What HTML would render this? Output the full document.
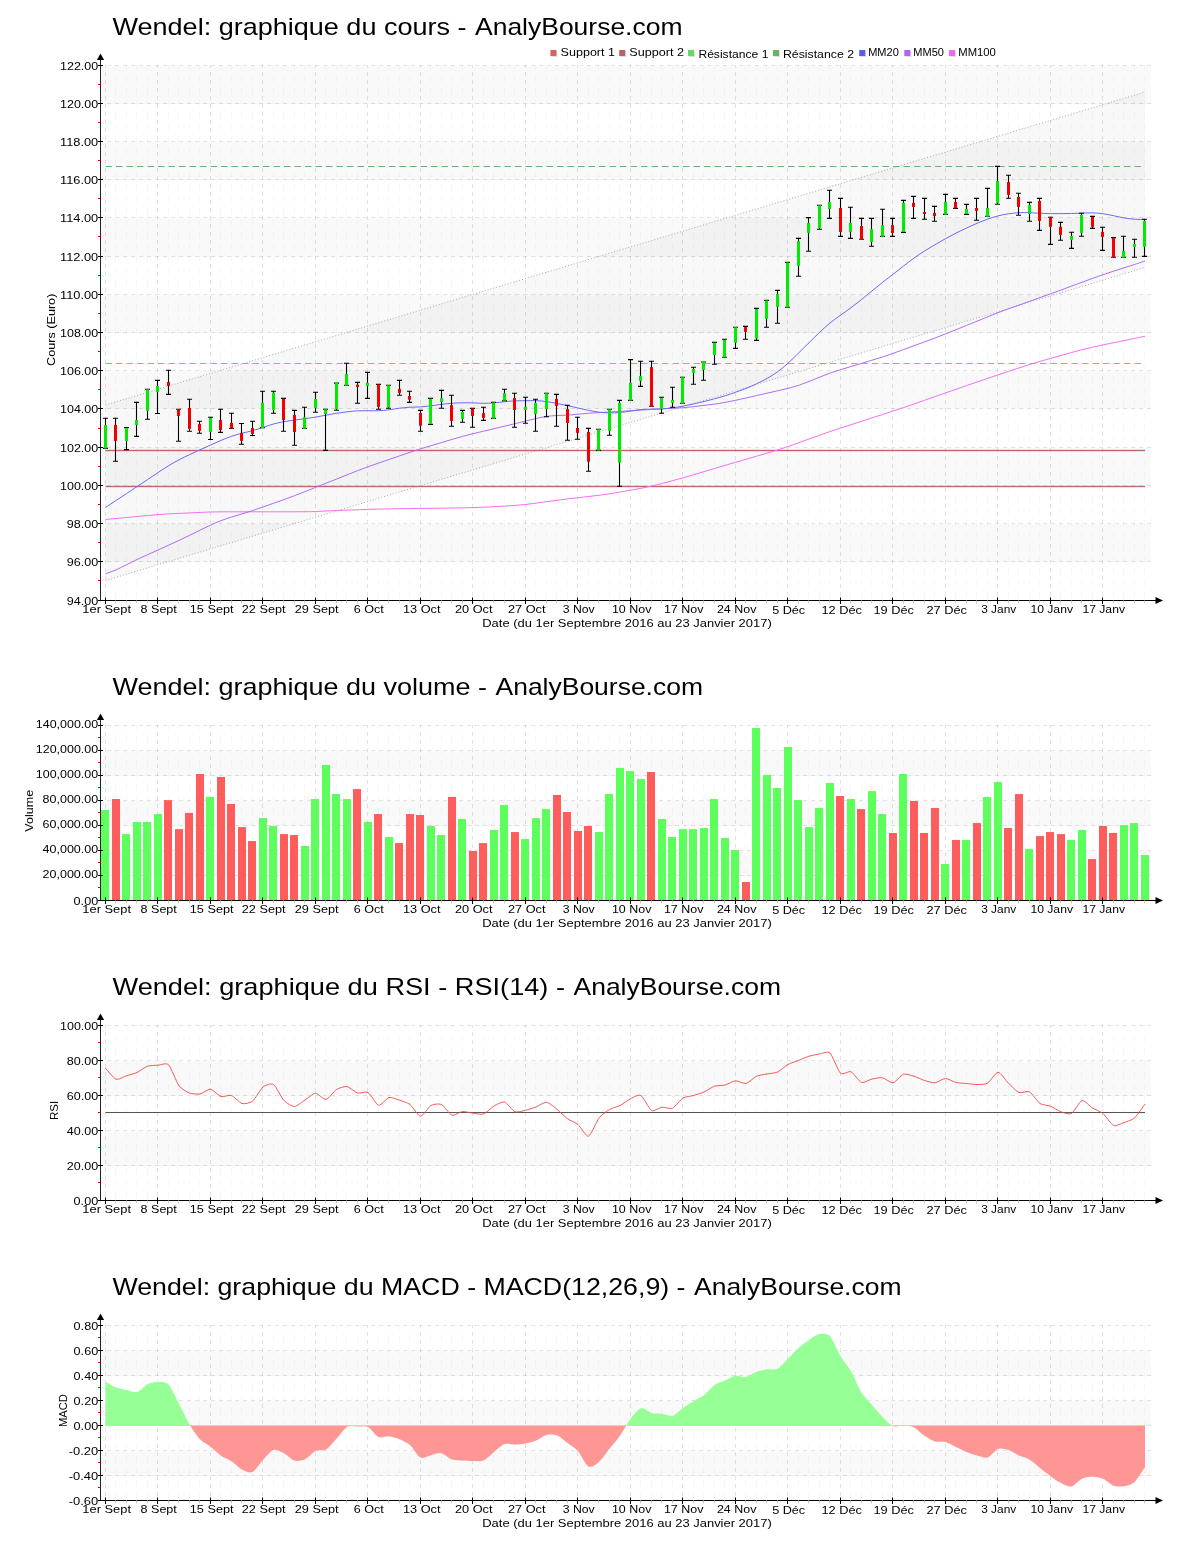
<!DOCTYPE html>
<html><head><meta charset="utf-8"><title>Wendel - AnalyBourse</title>
<style>html,body{margin:0;padding:0;background:#fff}svg{display:block;will-change:transform}text{font-family:"Liberation Sans",sans-serif}</style>
</head><body>
<svg width="1200" height="1550" viewBox="0 0 1200 1550" font-family="Liberation Sans, sans-serif" fill="#000">
<rect width="1200" height="1550" fill="#fff"/>
<rect x="101.0" y="524.00" width="1050.0" height="38.00" fill="#f9f9f9"/>
<rect x="101.0" y="448.00" width="1050.0" height="38.00" fill="#f9f9f9"/>
<rect x="101.0" y="371.00" width="1050.0" height="38.00" fill="#f9f9f9"/>
<rect x="101.0" y="295.00" width="1050.0" height="38.00" fill="#f9f9f9"/>
<rect x="101.0" y="218.00" width="1050.0" height="39.00" fill="#f9f9f9"/>
<rect x="101.0" y="142.00" width="1050.0" height="38.00" fill="#f9f9f9"/>
<rect x="101.0" y="66.00" width="1050.0" height="38.00" fill="#f9f9f9"/>
<line x1="115.50" y1="65.0" x2="115.50" y2="600.5" stroke="#000" stroke-opacity="0.033" stroke-dasharray="6 6" stroke-dashoffset="1"/>
<line x1="126.50" y1="65.0" x2="126.50" y2="600.5" stroke="#000" stroke-opacity="0.033" stroke-dasharray="6 6" stroke-dashoffset="1"/>
<line x1="136.50" y1="65.0" x2="136.50" y2="600.5" stroke="#000" stroke-opacity="0.033" stroke-dasharray="6 6" stroke-dashoffset="1"/>
<line x1="147.50" y1="65.0" x2="147.50" y2="600.5" stroke="#000" stroke-opacity="0.033" stroke-dasharray="6 6" stroke-dashoffset="1"/>
<line x1="168.50" y1="65.0" x2="168.50" y2="600.5" stroke="#000" stroke-opacity="0.033" stroke-dasharray="6 6" stroke-dashoffset="1"/>
<line x1="178.50" y1="65.0" x2="178.50" y2="600.5" stroke="#000" stroke-opacity="0.033" stroke-dasharray="6 6" stroke-dashoffset="1"/>
<line x1="189.50" y1="65.0" x2="189.50" y2="600.5" stroke="#000" stroke-opacity="0.033" stroke-dasharray="6 6" stroke-dashoffset="1"/>
<line x1="199.50" y1="65.0" x2="199.50" y2="600.5" stroke="#000" stroke-opacity="0.033" stroke-dasharray="6 6" stroke-dashoffset="1"/>
<line x1="220.50" y1="65.0" x2="220.50" y2="600.5" stroke="#000" stroke-opacity="0.033" stroke-dasharray="6 6" stroke-dashoffset="1"/>
<line x1="231.50" y1="65.0" x2="231.50" y2="600.5" stroke="#000" stroke-opacity="0.033" stroke-dasharray="6 6" stroke-dashoffset="1"/>
<line x1="241.50" y1="65.0" x2="241.50" y2="600.5" stroke="#000" stroke-opacity="0.033" stroke-dasharray="6 6" stroke-dashoffset="1"/>
<line x1="252.50" y1="65.0" x2="252.50" y2="600.5" stroke="#000" stroke-opacity="0.033" stroke-dasharray="6 6" stroke-dashoffset="1"/>
<line x1="273.50" y1="65.0" x2="273.50" y2="600.5" stroke="#000" stroke-opacity="0.033" stroke-dasharray="6 6" stroke-dashoffset="1"/>
<line x1="283.50" y1="65.0" x2="283.50" y2="600.5" stroke="#000" stroke-opacity="0.033" stroke-dasharray="6 6" stroke-dashoffset="1"/>
<line x1="294.50" y1="65.0" x2="294.50" y2="600.5" stroke="#000" stroke-opacity="0.033" stroke-dasharray="6 6" stroke-dashoffset="1"/>
<line x1="304.50" y1="65.0" x2="304.50" y2="600.5" stroke="#000" stroke-opacity="0.033" stroke-dasharray="6 6" stroke-dashoffset="1"/>
<line x1="325.50" y1="65.0" x2="325.50" y2="600.5" stroke="#000" stroke-opacity="0.033" stroke-dasharray="6 6" stroke-dashoffset="1"/>
<line x1="336.50" y1="65.0" x2="336.50" y2="600.5" stroke="#000" stroke-opacity="0.033" stroke-dasharray="6 6" stroke-dashoffset="1"/>
<line x1="346.50" y1="65.0" x2="346.50" y2="600.5" stroke="#000" stroke-opacity="0.033" stroke-dasharray="6 6" stroke-dashoffset="1"/>
<line x1="357.50" y1="65.0" x2="357.50" y2="600.5" stroke="#000" stroke-opacity="0.033" stroke-dasharray="6 6" stroke-dashoffset="1"/>
<line x1="378.50" y1="65.0" x2="378.50" y2="600.5" stroke="#000" stroke-opacity="0.033" stroke-dasharray="6 6" stroke-dashoffset="1"/>
<line x1="388.50" y1="65.0" x2="388.50" y2="600.5" stroke="#000" stroke-opacity="0.033" stroke-dasharray="6 6" stroke-dashoffset="1"/>
<line x1="399.50" y1="65.0" x2="399.50" y2="600.5" stroke="#000" stroke-opacity="0.033" stroke-dasharray="6 6" stroke-dashoffset="1"/>
<line x1="409.50" y1="65.0" x2="409.50" y2="600.5" stroke="#000" stroke-opacity="0.033" stroke-dasharray="6 6" stroke-dashoffset="1"/>
<line x1="430.50" y1="65.0" x2="430.50" y2="600.5" stroke="#000" stroke-opacity="0.033" stroke-dasharray="6 6" stroke-dashoffset="1"/>
<line x1="441.50" y1="65.0" x2="441.50" y2="600.5" stroke="#000" stroke-opacity="0.033" stroke-dasharray="6 6" stroke-dashoffset="1"/>
<line x1="451.50" y1="65.0" x2="451.50" y2="600.5" stroke="#000" stroke-opacity="0.033" stroke-dasharray="6 6" stroke-dashoffset="1"/>
<line x1="462.50" y1="65.0" x2="462.50" y2="600.5" stroke="#000" stroke-opacity="0.033" stroke-dasharray="6 6" stroke-dashoffset="1"/>
<line x1="483.50" y1="65.0" x2="483.50" y2="600.5" stroke="#000" stroke-opacity="0.033" stroke-dasharray="6 6" stroke-dashoffset="1"/>
<line x1="493.50" y1="65.0" x2="493.50" y2="600.5" stroke="#000" stroke-opacity="0.033" stroke-dasharray="6 6" stroke-dashoffset="1"/>
<line x1="504.50" y1="65.0" x2="504.50" y2="600.5" stroke="#000" stroke-opacity="0.033" stroke-dasharray="6 6" stroke-dashoffset="1"/>
<line x1="514.50" y1="65.0" x2="514.50" y2="600.5" stroke="#000" stroke-opacity="0.033" stroke-dasharray="6 6" stroke-dashoffset="1"/>
<line x1="535.50" y1="65.0" x2="535.50" y2="600.5" stroke="#000" stroke-opacity="0.033" stroke-dasharray="6 6" stroke-dashoffset="1"/>
<line x1="546.50" y1="65.0" x2="546.50" y2="600.5" stroke="#000" stroke-opacity="0.033" stroke-dasharray="6 6" stroke-dashoffset="1"/>
<line x1="556.50" y1="65.0" x2="556.50" y2="600.5" stroke="#000" stroke-opacity="0.033" stroke-dasharray="6 6" stroke-dashoffset="1"/>
<line x1="567.50" y1="65.0" x2="567.50" y2="600.5" stroke="#000" stroke-opacity="0.033" stroke-dasharray="6 6" stroke-dashoffset="1"/>
<line x1="588.50" y1="65.0" x2="588.50" y2="600.5" stroke="#000" stroke-opacity="0.033" stroke-dasharray="6 6" stroke-dashoffset="1"/>
<line x1="598.50" y1="65.0" x2="598.50" y2="600.5" stroke="#000" stroke-opacity="0.033" stroke-dasharray="6 6" stroke-dashoffset="1"/>
<line x1="609.50" y1="65.0" x2="609.50" y2="600.5" stroke="#000" stroke-opacity="0.033" stroke-dasharray="6 6" stroke-dashoffset="1"/>
<line x1="619.50" y1="65.0" x2="619.50" y2="600.5" stroke="#000" stroke-opacity="0.033" stroke-dasharray="6 6" stroke-dashoffset="1"/>
<line x1="640.50" y1="65.0" x2="640.50" y2="600.5" stroke="#000" stroke-opacity="0.033" stroke-dasharray="6 6" stroke-dashoffset="1"/>
<line x1="651.50" y1="65.0" x2="651.50" y2="600.5" stroke="#000" stroke-opacity="0.033" stroke-dasharray="6 6" stroke-dashoffset="1"/>
<line x1="661.50" y1="65.0" x2="661.50" y2="600.5" stroke="#000" stroke-opacity="0.033" stroke-dasharray="6 6" stroke-dashoffset="1"/>
<line x1="672.50" y1="65.0" x2="672.50" y2="600.5" stroke="#000" stroke-opacity="0.033" stroke-dasharray="6 6" stroke-dashoffset="1"/>
<line x1="693.50" y1="65.0" x2="693.50" y2="600.5" stroke="#000" stroke-opacity="0.033" stroke-dasharray="6 6" stroke-dashoffset="1"/>
<line x1="703.50" y1="65.0" x2="703.50" y2="600.5" stroke="#000" stroke-opacity="0.033" stroke-dasharray="6 6" stroke-dashoffset="1"/>
<line x1="714.50" y1="65.0" x2="714.50" y2="600.5" stroke="#000" stroke-opacity="0.033" stroke-dasharray="6 6" stroke-dashoffset="1"/>
<line x1="724.50" y1="65.0" x2="724.50" y2="600.5" stroke="#000" stroke-opacity="0.033" stroke-dasharray="6 6" stroke-dashoffset="1"/>
<line x1="745.50" y1="65.0" x2="745.50" y2="600.5" stroke="#000" stroke-opacity="0.033" stroke-dasharray="6 6" stroke-dashoffset="1"/>
<line x1="756.50" y1="65.0" x2="756.50" y2="600.5" stroke="#000" stroke-opacity="0.033" stroke-dasharray="6 6" stroke-dashoffset="1"/>
<line x1="766.50" y1="65.0" x2="766.50" y2="600.5" stroke="#000" stroke-opacity="0.033" stroke-dasharray="6 6" stroke-dashoffset="1"/>
<line x1="777.50" y1="65.0" x2="777.50" y2="600.5" stroke="#000" stroke-opacity="0.033" stroke-dasharray="6 6" stroke-dashoffset="1"/>
<line x1="798.50" y1="65.0" x2="798.50" y2="600.5" stroke="#000" stroke-opacity="0.033" stroke-dasharray="6 6" stroke-dashoffset="1"/>
<line x1="808.50" y1="65.0" x2="808.50" y2="600.5" stroke="#000" stroke-opacity="0.033" stroke-dasharray="6 6" stroke-dashoffset="1"/>
<line x1="819.50" y1="65.0" x2="819.50" y2="600.5" stroke="#000" stroke-opacity="0.033" stroke-dasharray="6 6" stroke-dashoffset="1"/>
<line x1="829.50" y1="65.0" x2="829.50" y2="600.5" stroke="#000" stroke-opacity="0.033" stroke-dasharray="6 6" stroke-dashoffset="1"/>
<line x1="850.50" y1="65.0" x2="850.50" y2="600.5" stroke="#000" stroke-opacity="0.033" stroke-dasharray="6 6" stroke-dashoffset="1"/>
<line x1="861.50" y1="65.0" x2="861.50" y2="600.5" stroke="#000" stroke-opacity="0.033" stroke-dasharray="6 6" stroke-dashoffset="1"/>
<line x1="871.50" y1="65.0" x2="871.50" y2="600.5" stroke="#000" stroke-opacity="0.033" stroke-dasharray="6 6" stroke-dashoffset="1"/>
<line x1="882.50" y1="65.0" x2="882.50" y2="600.5" stroke="#000" stroke-opacity="0.033" stroke-dasharray="6 6" stroke-dashoffset="1"/>
<line x1="903.50" y1="65.0" x2="903.50" y2="600.5" stroke="#000" stroke-opacity="0.033" stroke-dasharray="6 6" stroke-dashoffset="1"/>
<line x1="913.50" y1="65.0" x2="913.50" y2="600.5" stroke="#000" stroke-opacity="0.033" stroke-dasharray="6 6" stroke-dashoffset="1"/>
<line x1="924.50" y1="65.0" x2="924.50" y2="600.5" stroke="#000" stroke-opacity="0.033" stroke-dasharray="6 6" stroke-dashoffset="1"/>
<line x1="934.50" y1="65.0" x2="934.50" y2="600.5" stroke="#000" stroke-opacity="0.033" stroke-dasharray="6 6" stroke-dashoffset="1"/>
<line x1="955.50" y1="65.0" x2="955.50" y2="600.5" stroke="#000" stroke-opacity="0.033" stroke-dasharray="6 6" stroke-dashoffset="1"/>
<line x1="966.50" y1="65.0" x2="966.50" y2="600.5" stroke="#000" stroke-opacity="0.033" stroke-dasharray="6 6" stroke-dashoffset="1"/>
<line x1="976.50" y1="65.0" x2="976.50" y2="600.5" stroke="#000" stroke-opacity="0.033" stroke-dasharray="6 6" stroke-dashoffset="1"/>
<line x1="987.50" y1="65.0" x2="987.50" y2="600.5" stroke="#000" stroke-opacity="0.033" stroke-dasharray="6 6" stroke-dashoffset="1"/>
<line x1="1008.50" y1="65.0" x2="1008.50" y2="600.5" stroke="#000" stroke-opacity="0.033" stroke-dasharray="6 6" stroke-dashoffset="1"/>
<line x1="1018.50" y1="65.0" x2="1018.50" y2="600.5" stroke="#000" stroke-opacity="0.033" stroke-dasharray="6 6" stroke-dashoffset="1"/>
<line x1="1029.50" y1="65.0" x2="1029.50" y2="600.5" stroke="#000" stroke-opacity="0.033" stroke-dasharray="6 6" stroke-dashoffset="1"/>
<line x1="1039.50" y1="65.0" x2="1039.50" y2="600.5" stroke="#000" stroke-opacity="0.033" stroke-dasharray="6 6" stroke-dashoffset="1"/>
<line x1="1060.50" y1="65.0" x2="1060.50" y2="600.5" stroke="#000" stroke-opacity="0.033" stroke-dasharray="6 6" stroke-dashoffset="1"/>
<line x1="1071.50" y1="65.0" x2="1071.50" y2="600.5" stroke="#000" stroke-opacity="0.033" stroke-dasharray="6 6" stroke-dashoffset="1"/>
<line x1="1081.50" y1="65.0" x2="1081.50" y2="600.5" stroke="#000" stroke-opacity="0.033" stroke-dasharray="6 6" stroke-dashoffset="1"/>
<line x1="1092.50" y1="65.0" x2="1092.50" y2="600.5" stroke="#000" stroke-opacity="0.033" stroke-dasharray="6 6" stroke-dashoffset="1"/>
<line x1="1113.50" y1="65.0" x2="1113.50" y2="600.5" stroke="#000" stroke-opacity="0.033" stroke-dasharray="6 6" stroke-dashoffset="1"/>
<line x1="1123.50" y1="65.0" x2="1123.50" y2="600.5" stroke="#000" stroke-opacity="0.033" stroke-dasharray="6 6" stroke-dashoffset="1"/>
<line x1="1134.50" y1="65.0" x2="1134.50" y2="600.5" stroke="#000" stroke-opacity="0.033" stroke-dasharray="6 6" stroke-dashoffset="1"/>
<line x1="1144.50" y1="65.0" x2="1144.50" y2="600.5" stroke="#000" stroke-opacity="0.033" stroke-dasharray="6 6" stroke-dashoffset="1"/>
<line x1="105.50" y1="65.0" x2="105.50" y2="600.5" stroke="#000" stroke-opacity="0.105" stroke-dasharray="4 4" stroke-dashoffset="1"/>
<line x1="157.50" y1="65.0" x2="157.50" y2="600.5" stroke="#000" stroke-opacity="0.105" stroke-dasharray="4 4" stroke-dashoffset="1"/>
<line x1="210.50" y1="65.0" x2="210.50" y2="600.5" stroke="#000" stroke-opacity="0.105" stroke-dasharray="4 4" stroke-dashoffset="1"/>
<line x1="262.50" y1="65.0" x2="262.50" y2="600.5" stroke="#000" stroke-opacity="0.105" stroke-dasharray="4 4" stroke-dashoffset="1"/>
<line x1="315.50" y1="65.0" x2="315.50" y2="600.5" stroke="#000" stroke-opacity="0.105" stroke-dasharray="4 4" stroke-dashoffset="1"/>
<line x1="367.50" y1="65.0" x2="367.50" y2="600.5" stroke="#000" stroke-opacity="0.105" stroke-dasharray="4 4" stroke-dashoffset="1"/>
<line x1="420.50" y1="65.0" x2="420.50" y2="600.5" stroke="#000" stroke-opacity="0.105" stroke-dasharray="4 4" stroke-dashoffset="1"/>
<line x1="472.50" y1="65.0" x2="472.50" y2="600.5" stroke="#000" stroke-opacity="0.105" stroke-dasharray="4 4" stroke-dashoffset="1"/>
<line x1="525.50" y1="65.0" x2="525.50" y2="600.5" stroke="#000" stroke-opacity="0.105" stroke-dasharray="4 4" stroke-dashoffset="1"/>
<line x1="577.50" y1="65.0" x2="577.50" y2="600.5" stroke="#000" stroke-opacity="0.105" stroke-dasharray="4 4" stroke-dashoffset="1"/>
<line x1="630.50" y1="65.0" x2="630.50" y2="600.5" stroke="#000" stroke-opacity="0.105" stroke-dasharray="4 4" stroke-dashoffset="1"/>
<line x1="682.50" y1="65.0" x2="682.50" y2="600.5" stroke="#000" stroke-opacity="0.105" stroke-dasharray="4 4" stroke-dashoffset="1"/>
<line x1="735.50" y1="65.0" x2="735.50" y2="600.5" stroke="#000" stroke-opacity="0.105" stroke-dasharray="4 4" stroke-dashoffset="1"/>
<line x1="787.50" y1="65.0" x2="787.50" y2="600.5" stroke="#000" stroke-opacity="0.105" stroke-dasharray="4 4" stroke-dashoffset="1"/>
<line x1="840.50" y1="65.0" x2="840.50" y2="600.5" stroke="#000" stroke-opacity="0.105" stroke-dasharray="4 4" stroke-dashoffset="1"/>
<line x1="892.50" y1="65.0" x2="892.50" y2="600.5" stroke="#000" stroke-opacity="0.105" stroke-dasharray="4 4" stroke-dashoffset="1"/>
<line x1="945.50" y1="65.0" x2="945.50" y2="600.5" stroke="#000" stroke-opacity="0.105" stroke-dasharray="4 4" stroke-dashoffset="1"/>
<line x1="997.50" y1="65.0" x2="997.50" y2="600.5" stroke="#000" stroke-opacity="0.105" stroke-dasharray="4 4" stroke-dashoffset="1"/>
<line x1="1050.50" y1="65.0" x2="1050.50" y2="600.5" stroke="#000" stroke-opacity="0.105" stroke-dasharray="4 4" stroke-dashoffset="1"/>
<line x1="1102.50" y1="65.0" x2="1102.50" y2="600.5" stroke="#000" stroke-opacity="0.105" stroke-dasharray="4 4" stroke-dashoffset="1"/>
<line x1="101.5" y1="561.50" x2="1151.0" y2="561.50" stroke="#000" stroke-opacity="0.105" stroke-dasharray="4 4" stroke-dashoffset="2.5"/>
<line x1="101.5" y1="523.50" x2="1151.0" y2="523.50" stroke="#000" stroke-opacity="0.105" stroke-dasharray="4 4" stroke-dashoffset="2.5"/>
<line x1="101.5" y1="485.50" x2="1151.0" y2="485.50" stroke="#000" stroke-opacity="0.105" stroke-dasharray="4 4" stroke-dashoffset="2.5"/>
<line x1="101.5" y1="447.50" x2="1151.0" y2="447.50" stroke="#000" stroke-opacity="0.105" stroke-dasharray="4 4" stroke-dashoffset="2.5"/>
<line x1="101.5" y1="408.50" x2="1151.0" y2="408.50" stroke="#000" stroke-opacity="0.105" stroke-dasharray="4 4" stroke-dashoffset="2.5"/>
<line x1="101.5" y1="370.50" x2="1151.0" y2="370.50" stroke="#000" stroke-opacity="0.105" stroke-dasharray="4 4" stroke-dashoffset="2.5"/>
<line x1="101.5" y1="332.50" x2="1151.0" y2="332.50" stroke="#000" stroke-opacity="0.105" stroke-dasharray="4 4" stroke-dashoffset="2.5"/>
<line x1="101.5" y1="294.50" x2="1151.0" y2="294.50" stroke="#000" stroke-opacity="0.105" stroke-dasharray="4 4" stroke-dashoffset="2.5"/>
<line x1="101.5" y1="256.50" x2="1151.0" y2="256.50" stroke="#000" stroke-opacity="0.105" stroke-dasharray="4 4" stroke-dashoffset="2.5"/>
<line x1="101.5" y1="217.50" x2="1151.0" y2="217.50" stroke="#000" stroke-opacity="0.105" stroke-dasharray="4 4" stroke-dashoffset="2.5"/>
<line x1="101.5" y1="179.50" x2="1151.0" y2="179.50" stroke="#000" stroke-opacity="0.105" stroke-dasharray="4 4" stroke-dashoffset="2.5"/>
<line x1="101.5" y1="141.50" x2="1151.0" y2="141.50" stroke="#000" stroke-opacity="0.105" stroke-dasharray="4 4" stroke-dashoffset="2.5"/>
<line x1="101.5" y1="103.50" x2="1151.0" y2="103.50" stroke="#000" stroke-opacity="0.105" stroke-dasharray="4 4" stroke-dashoffset="2.5"/>
<line x1="101.5" y1="65.50" x2="1151.0" y2="65.50" stroke="#000" stroke-opacity="0.105" stroke-dasharray="4 4" stroke-dashoffset="2.5"/>
<path d="M105.5 405.0 L1145.0 92.0 L1145.0 267.5 L105.5 580.5 Z" fill="#000" fill-opacity="0.028"/>
<line x1="105.5" y1="405.0" x2="1145.0" y2="92.0" stroke="#a8a8a8" stroke-dasharray="1 2"/>
<line x1="105.5" y1="580.5" x2="1145.0" y2="267.5" stroke="#a8a8a8" stroke-dasharray="1 2"/>
<line x1="105.5" y1="450.5" x2="1145.0" y2="450.5" stroke="#d08080" stroke-opacity="0.22" stroke-width="3"/>
<line x1="105.5" y1="450.5" x2="1145.0" y2="450.5" stroke="#c06464" stroke-width="1"/>
<line x1="105.5" y1="486.5" x2="1145.0" y2="486.5" stroke="#d08080" stroke-opacity="0.22" stroke-width="3"/>
<line x1="105.5" y1="486.5" x2="1145.0" y2="486.5" stroke="#c06464" stroke-width="1"/>
<line x1="105.5" y1="166.5" x2="1145.0" y2="166.5" stroke="#6ab46a" stroke-dasharray="6.5 4"/>
<line x1="105.5" y1="363.5" x2="1145.0" y2="363.5" stroke="#6fd06f" stroke-dasharray="6.5 4"/>
<path d="M105.5 519.5 C107.2 519.3 112.5 518.8 116.0 518.5 C119.5 518.2 123.0 517.8 126.5 517.5 C130.0 517.1 133.5 516.8 137.0 516.5 C140.5 516.1 144.0 515.8 147.5 515.5 C151.0 515.1 154.5 514.8 158.0 514.6 C161.5 514.3 165.0 514.1 168.5 513.9 C172.0 513.7 175.5 513.5 179.0 513.4 C182.5 513.2 186.0 513.1 189.5 512.9 C193.0 512.8 196.5 512.6 200.0 512.4 C203.5 512.3 207.0 512.1 210.5 512.0 C214.0 511.9 217.5 511.8 221.0 511.8 C224.5 511.8 228.0 511.8 231.5 511.8 C235.0 511.7 238.5 511.8 242.0 511.8 C245.5 511.8 249.0 511.8 252.5 511.8 C256.0 511.8 259.5 511.8 263.0 511.8 C266.5 511.8 270.0 511.8 273.5 511.8 C277.0 511.8 280.5 511.8 284.0 511.8 C287.5 511.8 291.0 511.8 294.5 511.8 C298.0 511.7 301.5 511.8 305.0 511.7 C308.5 511.7 312.0 511.7 315.5 511.5 C319.0 511.4 322.5 511.2 326.0 511.0 C329.5 510.8 333.0 510.6 336.5 510.5 C340.0 510.3 343.5 510.2 347.0 510.1 C350.5 510.0 354.0 509.9 357.5 509.8 C361.0 509.6 364.5 509.5 368.0 509.4 C371.5 509.3 375.0 509.2 378.5 509.1 C382.0 509.0 385.5 508.9 389.0 508.9 C392.5 508.8 396.0 508.8 399.5 508.7 C403.0 508.7 406.5 508.6 410.0 508.6 C413.5 508.5 417.0 508.5 420.5 508.4 C424.0 508.4 427.5 508.3 431.0 508.3 C434.5 508.2 438.0 508.2 441.5 508.2 C445.0 508.1 448.5 508.1 452.0 508.0 C455.5 508.0 459.0 507.9 462.5 507.9 C466.0 507.8 469.5 507.7 473.0 507.6 C476.5 507.5 480.0 507.4 483.5 507.2 C487.0 507.1 490.5 506.9 494.0 506.7 C497.5 506.5 501.0 506.3 504.5 506.1 C508.0 505.9 511.5 505.7 515.0 505.4 C518.5 505.2 522.0 504.9 525.5 504.5 C529.0 504.1 532.5 503.7 536.0 503.2 C539.5 502.7 543.0 502.2 546.5 501.7 C550.0 501.2 553.5 500.7 557.0 500.3 C560.5 499.8 564.0 499.3 567.5 498.9 C571.0 498.5 574.5 498.1 578.0 497.7 C581.5 497.3 585.0 496.9 588.5 496.5 C592.0 496.1 595.5 495.7 599.0 495.3 C602.5 494.8 606.0 494.3 609.5 493.8 C613.0 493.2 616.5 492.6 620.0 492.0 C623.5 491.4 627.0 490.8 630.5 490.2 C634.0 489.5 637.5 489.0 641.0 488.3 C644.5 487.6 648.0 486.9 651.5 486.1 C655.0 485.3 658.5 484.4 662.0 483.5 C665.5 482.6 669.0 481.7 672.5 480.7 C676.0 479.7 679.5 478.8 683.0 477.8 C686.5 476.8 690.0 475.8 693.5 474.8 C697.0 473.7 700.5 472.7 704.0 471.6 C707.5 470.6 711.0 469.5 714.5 468.5 C718.0 467.4 721.5 466.4 725.0 465.4 C728.5 464.3 732.0 463.3 735.5 462.3 C739.0 461.3 742.5 460.3 746.0 459.3 C749.5 458.3 753.0 457.3 756.5 456.2 C760.0 455.2 763.5 454.3 767.0 453.2 C770.5 452.2 774.0 451.2 777.5 450.0 C781.0 448.9 784.5 447.7 788.0 446.5 C791.5 445.3 795.0 444.0 798.5 442.8 C802.0 441.5 805.5 440.3 809.0 439.0 C812.5 437.8 816.0 436.5 819.5 435.3 C823.0 434.0 826.5 432.8 830.0 431.6 C833.5 430.4 837.0 429.3 840.5 428.1 C844.0 427.0 847.5 425.8 851.0 424.7 C854.5 423.6 858.0 422.4 861.5 421.3 C865.0 420.1 868.5 419.0 872.0 417.9 C875.5 416.7 879.0 415.6 882.5 414.5 C886.0 413.3 889.5 412.2 893.0 411.0 C896.5 409.9 900.0 408.7 903.5 407.6 C907.0 406.4 910.5 405.2 914.0 404.0 C917.5 402.7 921.0 401.5 924.5 400.3 C928.0 399.1 931.5 397.8 935.0 396.6 C938.5 395.4 942.0 394.2 945.5 392.9 C949.0 391.7 952.5 390.5 956.0 389.3 C959.5 388.0 963.0 386.8 966.5 385.6 C970.0 384.4 973.5 383.1 977.0 382.0 C980.5 380.8 984.0 379.6 987.5 378.4 C991.0 377.2 994.5 376.1 998.0 374.9 C1001.5 373.7 1005.0 372.6 1008.5 371.4 C1012.0 370.2 1015.5 369.1 1019.0 367.9 C1022.5 366.8 1026.0 365.6 1029.5 364.5 C1033.0 363.4 1036.5 362.4 1040.0 361.4 C1043.5 360.4 1047.0 359.4 1050.5 358.4 C1054.0 357.4 1057.5 356.5 1061.0 355.5 C1064.5 354.5 1068.0 353.5 1071.5 352.5 C1075.0 351.6 1078.5 350.6 1082.0 349.7 C1085.5 348.8 1089.0 348.0 1092.5 347.2 C1096.0 346.4 1099.5 345.7 1103.0 344.9 C1106.5 344.2 1110.0 343.5 1113.5 342.7 C1117.0 342.0 1120.5 341.3 1124.0 340.6 C1127.5 339.9 1131.0 339.1 1134.5 338.4 C1138.0 337.7 1143.2 336.6 1145.0 336.3" fill="none" stroke="#f66ef6" stroke-width="1"/>
<path d="M105.5 573.8 C107.2 573.1 112.5 571.4 116.0 569.9 C119.5 568.3 123.0 566.4 126.5 564.7 C130.0 563.0 133.5 561.2 137.0 559.5 C140.5 557.8 144.0 556.3 147.5 554.7 C151.0 553.1 154.5 551.5 158.0 550.0 C161.5 548.4 165.0 546.8 168.5 545.2 C172.0 543.6 175.5 542.0 179.0 540.4 C182.5 538.7 186.0 537.0 189.5 535.4 C193.0 533.7 196.5 531.9 200.0 530.2 C203.5 528.6 207.0 526.8 210.5 525.2 C214.0 523.6 217.5 522.0 221.0 520.6 C224.5 519.3 228.0 518.2 231.5 517.0 C235.0 515.9 238.5 515.0 242.0 513.9 C245.5 512.8 249.0 511.8 252.5 510.6 C256.0 509.5 259.5 508.3 263.0 507.0 C266.5 505.8 270.0 504.6 273.5 503.3 C277.0 502.1 280.5 500.9 284.0 499.6 C287.5 498.3 291.0 497.0 294.5 495.7 C298.0 494.3 301.5 492.9 305.0 491.6 C308.5 490.2 312.0 488.8 315.5 487.4 C319.0 486.0 322.5 484.6 326.0 483.2 C329.5 481.9 333.0 480.5 336.5 479.1 C340.0 477.7 343.5 476.3 347.0 474.9 C350.5 473.5 354.0 472.1 357.5 470.7 C361.0 469.4 364.5 468.1 368.0 466.8 C371.5 465.5 375.0 464.3 378.5 463.1 C382.0 461.9 385.5 460.7 389.0 459.5 C392.5 458.3 396.0 457.1 399.5 455.9 C403.0 454.7 406.5 453.5 410.0 452.3 C413.5 451.2 417.0 450.0 420.5 448.9 C424.0 447.8 427.5 446.8 431.0 445.7 C434.5 444.6 438.0 443.6 441.5 442.6 C445.0 441.5 448.5 440.4 452.0 439.4 C455.5 438.4 459.0 437.3 462.5 436.4 C466.0 435.5 469.5 434.6 473.0 433.7 C476.5 432.9 480.0 432.0 483.5 431.2 C487.0 430.4 490.5 429.5 494.0 428.7 C497.5 427.9 501.0 427.1 504.5 426.2 C508.0 425.4 511.5 424.6 515.0 423.7 C518.5 422.9 522.0 422.0 525.5 421.1 C529.0 420.3 532.5 419.3 536.0 418.5 C539.5 417.7 543.0 416.9 546.5 416.4 C550.0 415.9 553.5 415.7 557.0 415.5 C560.5 415.3 564.0 415.3 567.5 415.1 C571.0 414.9 574.5 414.5 578.0 414.2 C581.5 413.9 585.0 413.5 588.5 413.3 C592.0 413.0 595.5 412.8 599.0 412.6 C602.5 412.3 606.0 412.2 609.5 412.0 C613.0 411.8 616.5 411.6 620.0 411.4 C623.5 411.1 627.0 410.9 630.5 410.7 C634.0 410.5 637.5 410.3 641.0 410.1 C644.5 409.8 648.0 409.6 651.5 409.4 C655.0 409.2 658.5 409.0 662.0 408.8 C665.5 408.6 669.0 408.5 672.5 408.3 C676.0 408.1 679.5 407.9 683.0 407.7 C686.5 407.4 690.0 407.0 693.5 406.7 C697.0 406.3 700.5 405.9 704.0 405.4 C707.5 405.0 711.0 404.6 714.5 404.1 C718.0 403.6 721.5 403.1 725.0 402.4 C728.5 401.8 732.0 401.1 735.5 400.3 C739.0 399.6 742.5 398.8 746.0 398.0 C749.5 397.2 753.0 396.4 756.5 395.6 C760.0 394.8 763.5 394.0 767.0 393.2 C770.5 392.4 774.0 391.7 777.5 390.8 C781.0 390.0 784.5 389.3 788.0 388.4 C791.5 387.5 795.0 386.5 798.5 385.4 C802.0 384.2 805.5 382.9 809.0 381.5 C812.5 380.1 816.0 378.6 819.5 377.2 C823.0 375.8 826.5 374.4 830.0 373.1 C833.5 371.9 837.0 370.8 840.5 369.7 C844.0 368.6 847.5 367.6 851.0 366.5 C854.5 365.5 858.0 364.4 861.5 363.4 C865.0 362.3 868.5 361.3 872.0 360.2 C875.5 359.2 879.0 358.1 882.5 357.0 C886.0 355.8 889.5 354.6 893.0 353.4 C896.5 352.1 900.0 350.8 903.5 349.6 C907.0 348.3 910.5 347.0 914.0 345.7 C917.5 344.4 921.0 343.2 924.5 341.9 C928.0 340.6 931.5 339.3 935.0 338.0 C938.5 336.6 942.0 335.3 945.5 333.9 C949.0 332.5 952.5 331.1 956.0 329.7 C959.5 328.3 963.0 326.8 966.5 325.4 C970.0 324.0 973.5 322.6 977.0 321.2 C980.5 319.7 984.0 318.3 987.5 316.9 C991.0 315.5 994.5 314.1 998.0 312.7 C1001.5 311.4 1005.0 310.1 1008.5 308.8 C1012.0 307.6 1015.5 306.3 1019.0 305.1 C1022.5 303.8 1026.0 302.6 1029.5 301.3 C1033.0 300.1 1036.5 298.8 1040.0 297.6 C1043.5 296.3 1047.0 295.1 1050.5 293.8 C1054.0 292.5 1057.5 291.3 1061.0 290.0 C1064.5 288.7 1068.0 287.4 1071.5 286.1 C1075.0 284.8 1078.5 283.6 1082.0 282.3 C1085.5 281.0 1089.0 279.7 1092.5 278.4 C1096.0 277.2 1099.5 275.9 1103.0 274.7 C1106.5 273.5 1110.0 272.3 1113.5 271.2 C1117.0 270.0 1120.5 268.9 1124.0 267.8 C1127.5 266.7 1131.0 265.6 1134.5 264.5 C1138.0 263.3 1143.2 261.7 1145.0 261.1" fill="none" stroke="#b06cf5" stroke-width="1"/>
<path d="M105.5 507.5 C107.2 506.3 112.5 502.9 116.0 500.5 C119.5 498.2 123.0 495.9 126.5 493.6 C130.0 491.2 133.5 488.9 137.0 486.6 C140.5 484.2 144.0 481.9 147.5 479.6 C151.0 477.3 154.5 474.9 158.0 472.6 C161.5 470.3 165.0 467.9 168.5 465.8 C172.0 463.7 175.5 461.6 179.0 459.8 C182.5 457.9 186.0 456.3 189.5 454.6 C193.0 453.0 196.5 451.4 200.0 449.8 C203.5 448.3 207.0 446.7 210.5 445.1 C214.0 443.6 217.5 441.9 221.0 440.4 C224.5 439.0 228.0 437.5 231.5 436.3 C235.0 435.1 238.5 434.1 242.0 433.2 C245.5 432.3 249.0 431.7 252.5 430.7 C256.0 429.7 259.5 428.6 263.0 427.5 C266.5 426.3 270.0 424.9 273.5 424.0 C277.0 423.0 280.5 422.3 284.0 421.6 C287.5 421.0 291.0 420.6 294.5 420.1 C298.0 419.6 301.5 419.2 305.0 418.7 C308.5 418.2 312.0 417.7 315.5 417.1 C319.0 416.5 322.5 415.8 326.0 415.2 C329.5 414.5 333.0 413.8 336.5 413.3 C340.0 412.7 343.5 412.2 347.0 411.8 C350.5 411.4 354.0 411.0 357.5 410.8 C361.0 410.7 364.5 410.7 368.0 410.7 C371.5 410.7 375.0 410.9 378.5 410.7 C382.0 410.6 385.5 410.2 389.0 409.8 C392.5 409.4 396.0 408.6 399.5 408.2 C403.0 407.8 406.5 407.4 410.0 407.2 C413.5 407.0 417.0 407.1 420.5 406.9 C424.0 406.6 427.5 406.2 431.0 405.8 C434.5 405.4 438.0 404.7 441.5 404.3 C445.0 403.9 448.5 403.5 452.0 403.3 C455.5 403.0 459.0 402.8 462.5 402.8 C466.0 402.7 469.5 402.8 473.0 402.9 C476.5 403.0 480.0 403.3 483.5 403.3 C487.0 403.3 490.5 403.2 494.0 402.9 C497.5 402.7 501.0 402.0 504.5 401.7 C508.0 401.3 511.5 401.1 515.0 400.9 C518.5 400.8 522.0 400.8 525.5 400.7 C529.0 400.7 532.5 400.5 536.0 400.6 C539.5 400.8 543.0 401.1 546.5 401.6 C550.0 402.1 553.5 402.8 557.0 403.5 C560.5 404.2 564.0 404.9 567.5 405.6 C571.0 406.4 574.5 407.2 578.0 408.0 C581.5 408.8 585.0 409.7 588.5 410.4 C592.0 411.1 595.5 411.7 599.0 412.2 C602.5 412.6 606.0 412.8 609.5 412.9 C613.0 412.9 616.5 412.8 620.0 412.5 C623.5 412.2 627.0 411.6 630.5 411.1 C634.0 410.6 637.5 410.0 641.0 409.6 C644.5 409.3 648.0 409.3 651.5 409.2 C655.0 409.1 658.5 409.1 662.0 408.9 C665.5 408.6 669.0 408.3 672.5 407.8 C676.0 407.4 679.5 406.8 683.0 406.1 C686.5 405.5 690.0 404.7 693.5 404.0 C697.0 403.2 700.5 402.4 704.0 401.5 C707.5 400.6 711.0 399.7 714.5 398.8 C718.0 397.8 721.5 396.9 725.0 395.8 C728.5 394.7 732.0 393.6 735.5 392.3 C739.0 391.1 742.5 389.8 746.0 388.4 C749.5 387.0 753.0 385.5 756.5 383.8 C760.0 382.1 763.5 380.5 767.0 378.5 C770.5 376.5 774.0 374.4 777.5 371.8 C781.0 369.3 784.5 366.3 788.0 363.2 C791.5 360.1 795.0 356.5 798.5 353.1 C802.0 349.7 805.5 346.2 809.0 342.8 C812.5 339.3 816.0 335.7 819.5 332.4 C823.0 329.1 826.5 325.9 830.0 323.0 C833.5 320.1 837.0 317.8 840.5 315.2 C844.0 312.7 847.5 310.4 851.0 307.7 C854.5 305.1 858.0 302.4 861.5 299.6 C865.0 296.8 868.5 293.8 872.0 290.9 C875.5 288.1 879.0 285.2 882.5 282.4 C886.0 279.6 889.5 277.0 893.0 274.3 C896.5 271.6 900.0 268.8 903.5 266.1 C907.0 263.4 910.5 260.6 914.0 258.1 C917.5 255.5 921.0 253.2 924.5 251.0 C928.0 248.8 931.5 246.8 935.0 244.7 C938.5 242.7 942.0 240.6 945.5 238.7 C949.0 236.8 952.5 234.9 956.0 233.1 C959.5 231.3 963.0 229.7 966.5 228.0 C970.0 226.4 973.5 224.8 977.0 223.3 C980.5 221.9 984.0 220.4 987.5 219.2 C991.0 217.9 994.5 216.8 998.0 215.9 C1001.5 215.0 1005.0 214.3 1008.5 213.8 C1012.0 213.2 1015.5 212.9 1019.0 212.7 C1022.5 212.5 1026.0 212.6 1029.5 212.7 C1033.0 212.8 1036.5 213.2 1040.0 213.3 C1043.5 213.5 1047.0 213.6 1050.5 213.6 C1054.0 213.6 1057.5 213.6 1061.0 213.6 C1064.5 213.6 1068.0 213.6 1071.5 213.5 C1075.0 213.4 1078.5 213.2 1082.0 213.1 C1085.5 213.0 1089.0 212.8 1092.5 212.9 C1096.0 213.0 1099.5 213.3 1103.0 213.7 C1106.5 214.2 1110.0 215.0 1113.5 215.7 C1117.0 216.4 1120.5 217.3 1124.0 217.9 C1127.5 218.5 1131.0 218.9 1134.5 219.2 C1138.0 219.5 1143.2 219.5 1145.0 219.6" fill="none" stroke="#6a6af8" stroke-width="1"/>
<path d="M105.5 418.3 V448.4 M103.0 418.3 H108.0 M103.0 448.4 H108.0" stroke="#000" stroke-width="1.1" fill="none"/>
<rect x="104.0" y="424.9" width="3" height="23.7" fill="#00ec00"/>
<path d="M115.5 418.3 V461.3 M113.0 418.3 H118.0 M113.0 461.3 H118.0" stroke="#000" stroke-width="1.1" fill="none"/>
<rect x="114.0" y="424.9" width="3" height="16.0" fill="#f40000"/>
<path d="M126.5 427.6 V449.6 M124.0 427.6 H129.0 M124.0 449.6 H129.0" stroke="#000" stroke-width="1.1" fill="none"/>
<rect x="125.0" y="428.0" width="3" height="12.9" fill="#00ec00"/>
<path d="M136.5 402.4 V436.4 M134.0 402.4 H139.0 M134.0 436.4 H139.0" stroke="#000" stroke-width="1.1" fill="none"/>
<rect x="135.0" y="420.0" width="3" height="4.9" fill="#00ec00"/>
<path d="M147.5 389.3 V419.3 M145.0 389.3 H150.0 M145.0 419.3 H150.0" stroke="#000" stroke-width="1.1" fill="none"/>
<rect x="146.0" y="389.3" width="3" height="21.6" fill="#00ec00"/>
<path d="M157.5 380.4 V413.5 M155.0 380.4 H160.0 M155.0 413.5 H160.0" stroke="#000" stroke-width="1.1" fill="none"/>
<rect x="156.0" y="386.0" width="3" height="6.0" fill="#00ec00"/>
<path d="M168.5 370.3 V394.4 M166.0 370.3 H171.0 M166.0 394.4 H171.0" stroke="#000" stroke-width="1.1" fill="none"/>
<rect x="167.0" y="382.0" width="3" height="4.0" fill="#f40000"/>
<path d="M178.5 409.3 V441.3 M176.0 409.3 H181.0 M176.0 441.3 H181.0" stroke="#000" stroke-width="1.1" fill="none"/>
<rect x="177.0" y="409.3" width="3" height="6.7" fill="#f40000"/>
<path d="M189.5 399.3 V431.3 M187.0 399.3 H192.0 M187.0 431.3 H192.0" stroke="#000" stroke-width="1.1" fill="none"/>
<rect x="188.0" y="408.0" width="3" height="20.9" fill="#f40000"/>
<path d="M199.5 421.3 V433.3 M197.0 421.3 H202.0 M197.0 433.3 H202.0" stroke="#000" stroke-width="1.1" fill="none"/>
<rect x="198.0" y="424.0" width="3" height="6.9" fill="#f40000"/>
<path d="M210.5 417.3 V439.5 M208.0 417.3 H213.0 M208.0 439.5 H213.0" stroke="#000" stroke-width="1.1" fill="none"/>
<rect x="209.0" y="418.0" width="3" height="14.0" fill="#00ec00"/>
<path d="M220.5 409.3 V432.4 M218.0 409.3 H223.0 M218.0 432.4 H223.0" stroke="#000" stroke-width="1.1" fill="none"/>
<rect x="219.0" y="420.0" width="3" height="10.0" fill="#f40000"/>
<path d="M231.5 413.3 V428.4 M229.0 413.3 H234.0 M229.0 428.4 H234.0" stroke="#000" stroke-width="1.1" fill="none"/>
<rect x="230.0" y="422.9" width="3" height="5.7" fill="#f40000"/>
<path d="M241.5 423.5 V444.3 M239.0 423.5 H244.0 M239.0 444.3 H244.0" stroke="#000" stroke-width="1.1" fill="none"/>
<rect x="240.0" y="432.9" width="3" height="8.0" fill="#f40000"/>
<path d="M252.5 421.3 V435.5 M250.0 421.3 H255.0 M250.0 435.5 H255.0" stroke="#000" stroke-width="1.1" fill="none"/>
<rect x="251.0" y="428.0" width="3" height="6.0" fill="#f40000"/>
<path d="M262.5 391.3 V427.7 M260.0 391.3 H265.0 M260.0 427.7 H265.0" stroke="#000" stroke-width="1.1" fill="none"/>
<rect x="261.0" y="402.9" width="3" height="25.1" fill="#00ec00"/>
<path d="M273.5 391.3 V413.3 M271.0 391.3 H276.0 M271.0 413.3 H276.0" stroke="#000" stroke-width="1.1" fill="none"/>
<rect x="272.0" y="392.7" width="3" height="17.3" fill="#00ec00"/>
<path d="M283.5 398.4 V431.3 M281.0 398.4 H286.0 M281.0 431.3 H286.0" stroke="#000" stroke-width="1.1" fill="none"/>
<rect x="282.0" y="398.7" width="3" height="21.3" fill="#f40000"/>
<path d="M294.5 410.4 V445.3 M292.0 410.4 H297.0 M292.0 445.3 H297.0" stroke="#000" stroke-width="1.1" fill="none"/>
<rect x="293.0" y="414.9" width="3" height="17.1" fill="#f40000"/>
<path d="M304.5 407.3 V428.4 M302.0 407.3 H307.0 M302.0 428.4 H307.0" stroke="#000" stroke-width="1.1" fill="none"/>
<rect x="303.0" y="417.1" width="3" height="11.6" fill="#00ec00"/>
<path d="M315.5 392.3 V412.3 M313.0 392.3 H318.0 M313.0 412.3 H318.0" stroke="#000" stroke-width="1.1" fill="none"/>
<rect x="314.0" y="398.9" width="3" height="9.1" fill="#00ec00"/>
<path d="M325.5 409.3 V450.4 M323.0 409.3 H328.0 M323.0 450.4 H328.0" stroke="#000" stroke-width="1.1" fill="none"/>
<rect x="324.0" y="409.3" width="3" height="4.7" fill="#00ec00"/>
<path d="M336.5 383.1 V410.3 M334.0 383.1 H339.0 M334.0 410.3 H339.0" stroke="#000" stroke-width="1.1" fill="none"/>
<rect x="335.0" y="382.4" width="3" height="26.7" fill="#00ec00"/>
<path d="M346.5 363.3 V385.3 M344.0 363.3 H349.0 M344.0 385.3 H349.0" stroke="#000" stroke-width="1.1" fill="none"/>
<rect x="345.0" y="374.0" width="3" height="11.6" fill="#00ec00"/>
<path d="M357.5 382.4 V403.3 M355.0 382.4 H360.0 M355.0 403.3 H360.0" stroke="#000" stroke-width="1.1" fill="none"/>
<rect x="356.0" y="384.7" width="3" height="2.3" fill="#f40000"/>
<path d="M367.5 372.4 V398.4 M365.0 372.4 H370.0 M365.0 398.4 H370.0" stroke="#000" stroke-width="1.1" fill="none"/>
<rect x="366.0" y="382.9" width="3" height="3.1" fill="#00ec00"/>
<path d="M378.5 384.4 V409.3 M376.0 384.4 H381.0 M376.0 409.3 H381.0" stroke="#000" stroke-width="1.1" fill="none"/>
<rect x="377.0" y="384.4" width="3" height="22.5" fill="#f40000"/>
<path d="M388.5 385.3 V408.3 M386.0 385.3 H391.0 M386.0 408.3 H391.0" stroke="#000" stroke-width="1.1" fill="none"/>
<rect x="387.0" y="385.3" width="3" height="22.0" fill="#00ec00"/>
<path d="M399.5 380.4 V395.3 M397.0 380.4 H402.0 M397.0 395.3 H402.0" stroke="#000" stroke-width="1.1" fill="none"/>
<rect x="398.0" y="388.9" width="3" height="4.0" fill="#f40000"/>
<path d="M409.5 391.3 V402.4 M407.0 391.3 H412.0 M407.0 402.4 H412.0" stroke="#000" stroke-width="1.1" fill="none"/>
<rect x="408.0" y="396.0" width="3" height="3.7" fill="#f40000"/>
<path d="M420.5 410.4 V431.3 M418.0 410.4 H423.0 M418.0 431.3 H423.0" stroke="#000" stroke-width="1.1" fill="none"/>
<rect x="419.0" y="412.9" width="3" height="12.8" fill="#f40000"/>
<path d="M430.5 398.4 V424.4 M428.0 398.4 H433.0 M428.0 424.4 H433.0" stroke="#000" stroke-width="1.1" fill="none"/>
<rect x="429.0" y="398.7" width="3" height="25.3" fill="#00ec00"/>
<path d="M441.5 390.4 V408.3 M439.0 390.4 H444.0 M439.0 408.3 H444.0" stroke="#000" stroke-width="1.1" fill="none"/>
<rect x="440.0" y="398.0" width="3" height="4.0" fill="#00ec00"/>
<path d="M451.5 395.3 V426.3 M449.0 395.3 H454.0 M449.0 426.3 H454.0" stroke="#000" stroke-width="1.1" fill="none"/>
<rect x="450.0" y="405.1" width="3" height="15.9" fill="#f40000"/>
<path d="M462.5 410.4 V422.3 M460.0 410.4 H465.0 M460.0 422.3 H465.0" stroke="#000" stroke-width="1.1" fill="none"/>
<rect x="461.0" y="412.0" width="3" height="6.9" fill="#00ec00"/>
<path d="M472.5 408.4 V427.3 M470.0 408.4 H475.0 M470.0 427.3 H475.0" stroke="#000" stroke-width="1.1" fill="none"/>
<rect x="471.0" y="408.4" width="3" height="7.6" fill="#f40000"/>
<path d="M483.5 407.3 V420.4 M481.0 407.3 H486.0 M481.0 420.4 H486.0" stroke="#000" stroke-width="1.1" fill="none"/>
<rect x="482.0" y="413.1" width="3" height="4.9" fill="#f40000"/>
<path d="M493.5 402.4 V418.4 M491.0 402.4 H496.0 M491.0 418.4 H496.0" stroke="#000" stroke-width="1.1" fill="none"/>
<rect x="492.0" y="402.4" width="3" height="16.3" fill="#00ec00"/>
<path d="M504.5 389.3 V400.7 M502.0 389.3 H507.0 M502.0 400.7 H507.0" stroke="#000" stroke-width="1.1" fill="none"/>
<rect x="503.0" y="393.1" width="3" height="7.6" fill="#00ec00"/>
<path d="M514.5 393.3 V427.3 M512.0 393.3 H517.0 M512.0 427.3 H517.0" stroke="#000" stroke-width="1.1" fill="none"/>
<rect x="513.0" y="398.0" width="3" height="12.0" fill="#f40000"/>
<path d="M525.5 397.3 V423.3 M523.0 397.3 H528.0 M523.0 423.3 H528.0" stroke="#000" stroke-width="1.1" fill="none"/>
<rect x="524.0" y="406.9" width="3" height="3.1" fill="#00ec00"/>
<path d="M535.5 399.3 V431.3 M533.0 399.3 H538.0 M533.0 431.3 H538.0" stroke="#000" stroke-width="1.1" fill="none"/>
<rect x="534.0" y="402.9" width="3" height="11.1" fill="#00ec00"/>
<path d="M546.5 393.3 V416.7 M544.0 393.3 H549.0 M544.0 416.7 H549.0" stroke="#000" stroke-width="1.1" fill="none"/>
<rect x="545.0" y="393.3" width="3" height="15.6" fill="#00ec00"/>
<path d="M556.5 394.4 V426.3 M554.0 394.4 H559.0 M554.0 426.3 H559.0" stroke="#000" stroke-width="1.1" fill="none"/>
<rect x="555.0" y="398.9" width="3" height="7.1" fill="#f40000"/>
<path d="M567.5 405.3 V440.3 M565.0 405.3 H570.0 M565.0 440.3 H570.0" stroke="#000" stroke-width="1.1" fill="none"/>
<rect x="566.0" y="409.1" width="3" height="13.9" fill="#f40000"/>
<path d="M577.5 417.3 V439.3 M575.0 417.3 H580.0 M575.0 439.3 H580.0" stroke="#000" stroke-width="1.1" fill="none"/>
<rect x="576.0" y="428.0" width="3" height="4.9" fill="#f40000"/>
<path d="M588.5 428.4 V471.3 M586.0 428.4 H591.0 M586.0 471.3 H591.0" stroke="#000" stroke-width="1.1" fill="none"/>
<rect x="587.0" y="432.0" width="3" height="29.7" fill="#f40000"/>
<path d="M598.5 429.3 V450.4 M596.0 429.3 H601.0 M596.0 450.4 H601.0" stroke="#000" stroke-width="1.1" fill="none"/>
<rect x="597.0" y="429.3" width="3" height="21.3" fill="#00ec00"/>
<path d="M609.5 409.3 V435.3 M607.0 409.3 H612.0 M607.0 435.3 H612.0" stroke="#000" stroke-width="1.1" fill="none"/>
<rect x="608.0" y="409.3" width="3" height="21.7" fill="#00ec00"/>
<path d="M619.5 400.4 V486.3 M617.0 400.4 H622.0 M617.0 486.3 H622.0" stroke="#000" stroke-width="1.1" fill="none"/>
<rect x="618.0" y="402.9" width="3" height="59.7" fill="#00ec00"/>
<path d="M630.5 359.6 V400.4 M628.0 359.6 H633.0 M628.0 400.4 H633.0" stroke="#000" stroke-width="1.1" fill="none"/>
<rect x="629.0" y="382.9" width="3" height="17.7" fill="#00ec00"/>
<path d="M640.5 361.3 V386.4 M638.0 361.3 H643.0 M638.0 386.4 H643.0" stroke="#000" stroke-width="1.1" fill="none"/>
<rect x="639.0" y="376.0" width="3" height="4.9" fill="#00ec00"/>
<path d="M651.5 361.3 V406.3 M649.0 361.3 H654.0 M649.0 406.3 H654.0" stroke="#000" stroke-width="1.1" fill="none"/>
<rect x="650.0" y="367.1" width="3" height="39.2" fill="#f40000"/>
<path d="M661.5 397.3 V413.3 M659.0 397.3 H664.0 M659.0 413.3 H664.0" stroke="#000" stroke-width="1.1" fill="none"/>
<rect x="660.0" y="398.0" width="3" height="11.1" fill="#00ec00"/>
<path d="M672.5 387.3 V407.3 M670.0 387.3 H675.0 M670.0 407.3 H675.0" stroke="#000" stroke-width="1.1" fill="none"/>
<rect x="671.0" y="400.0" width="3" height="2.9" fill="#00ec00"/>
<path d="M682.5 377.3 V403.3 M680.0 377.3 H685.0 M680.0 403.3 H685.0" stroke="#000" stroke-width="1.1" fill="none"/>
<rect x="681.0" y="377.3" width="3" height="26.3" fill="#00ec00"/>
<path d="M693.5 367.3 V384.3 M691.0 367.3 H696.0 M691.0 384.3 H696.0" stroke="#000" stroke-width="1.1" fill="none"/>
<rect x="692.0" y="368.9" width="3" height="4.0" fill="#00ec00"/>
<path d="M703.5 362.0 V380.3 M701.0 362.0 H706.0 M701.0 380.3 H706.0" stroke="#000" stroke-width="1.1" fill="none"/>
<rect x="702.0" y="361.3" width="3" height="8.7" fill="#00ec00"/>
<path d="M714.5 342.4 V364.3 M712.0 342.4 H717.0 M712.0 364.3 H717.0" stroke="#000" stroke-width="1.1" fill="none"/>
<rect x="713.0" y="342.7" width="3" height="12.3" fill="#00ec00"/>
<path d="M724.5 339.3 V357.3 M722.0 339.3 H727.0 M722.0 357.3 H727.0" stroke="#000" stroke-width="1.1" fill="none"/>
<rect x="723.0" y="340.0" width="3" height="17.3" fill="#00ec00"/>
<path d="M735.5 327.3 V348.4 M733.0 327.3 H738.0 M733.0 348.4 H738.0" stroke="#000" stroke-width="1.1" fill="none"/>
<rect x="734.0" y="327.3" width="3" height="15.6" fill="#00ec00"/>
<path d="M745.5 326.4 V339.3 M743.0 326.4 H748.0 M743.0 339.3 H748.0" stroke="#000" stroke-width="1.1" fill="none"/>
<rect x="744.0" y="327.1" width="3" height="4.7" fill="#f40000"/>
<path d="M756.5 308.4 V340.4 M754.0 308.4 H759.0 M754.0 340.4 H759.0" stroke="#000" stroke-width="1.1" fill="none"/>
<rect x="755.0" y="309.1" width="3" height="29.3" fill="#00ec00"/>
<path d="M766.5 300.4 V327.3 M764.0 300.4 H769.0 M764.0 327.3 H769.0" stroke="#000" stroke-width="1.1" fill="none"/>
<rect x="765.0" y="300.4" width="3" height="18.5" fill="#00ec00"/>
<path d="M777.5 290.4 V323.3 M775.0 290.4 H780.0 M775.0 323.3 H780.0" stroke="#000" stroke-width="1.1" fill="none"/>
<rect x="776.0" y="294.0" width="3" height="12.9" fill="#00ec00"/>
<path d="M787.5 262.4 V307.3 M785.0 262.4 H790.0 M785.0 307.3 H790.0" stroke="#000" stroke-width="1.1" fill="none"/>
<rect x="786.0" y="262.4" width="3" height="44.9" fill="#00ec00"/>
<path d="M798.5 238.4 V276.3 M796.0 238.4 H801.0 M796.0 276.3 H801.0" stroke="#000" stroke-width="1.1" fill="none"/>
<rect x="797.0" y="241.1" width="3" height="24.9" fill="#00ec00"/>
<path d="M808.5 217.6 V251.3 M806.0 217.6 H811.0 M806.0 251.3 H811.0" stroke="#000" stroke-width="1.1" fill="none"/>
<rect x="807.0" y="222.9" width="3" height="10.0" fill="#00ec00"/>
<path d="M819.5 205.3 V229.3 M817.0 205.3 H822.0 M817.0 229.3 H822.0" stroke="#000" stroke-width="1.1" fill="none"/>
<rect x="818.0" y="205.3" width="3" height="22.9" fill="#00ec00"/>
<path d="M829.5 190.3 V218.4 M827.0 190.3 H832.0 M827.0 218.4 H832.0" stroke="#000" stroke-width="1.1" fill="none"/>
<rect x="828.0" y="202.0" width="3" height="6.9" fill="#00ec00"/>
<path d="M840.5 198.4 V236.4 M838.0 198.4 H843.0 M838.0 236.4 H843.0" stroke="#000" stroke-width="1.1" fill="none"/>
<rect x="839.0" y="208.0" width="3" height="24.0" fill="#f40000"/>
<path d="M850.5 207.3 V238.4 M848.0 207.3 H853.0 M848.0 238.4 H853.0" stroke="#000" stroke-width="1.1" fill="none"/>
<rect x="849.0" y="222.9" width="3" height="9.1" fill="#00ec00"/>
<path d="M861.5 218.4 V239.3 M859.0 218.4 H864.0 M859.0 239.3 H864.0" stroke="#000" stroke-width="1.1" fill="none"/>
<rect x="860.0" y="226.0" width="3" height="13.6" fill="#f40000"/>
<path d="M871.5 218.4 V246.3 M869.0 218.4 H874.0 M869.0 246.3 H874.0" stroke="#000" stroke-width="1.1" fill="none"/>
<rect x="870.0" y="229.1" width="3" height="12.9" fill="#00ec00"/>
<path d="M882.5 209.3 V236.4 M880.0 209.3 H885.0 M880.0 236.4 H885.0" stroke="#000" stroke-width="1.1" fill="none"/>
<rect x="881.0" y="225.1" width="3" height="11.6" fill="#00ec00"/>
<path d="M892.5 218.4 V236.4 M890.0 218.4 H895.0 M890.0 236.4 H895.0" stroke="#000" stroke-width="1.1" fill="none"/>
<rect x="891.0" y="225.1" width="3" height="7.9" fill="#f40000"/>
<path d="M903.5 200.4 V232.4 M901.0 200.4 H906.0 M901.0 232.4 H906.0" stroke="#000" stroke-width="1.1" fill="none"/>
<rect x="902.0" y="202.9" width="3" height="29.1" fill="#00ec00"/>
<path d="M913.5 196.4 V218.4 M911.0 196.4 H916.0 M911.0 218.4 H916.0" stroke="#000" stroke-width="1.1" fill="none"/>
<rect x="912.0" y="202.9" width="3" height="4.0" fill="#f40000"/>
<path d="M924.5 198.4 V219.3 M922.0 198.4 H927.0 M922.0 219.3 H927.0" stroke="#000" stroke-width="1.1" fill="none"/>
<rect x="923.0" y="212.0" width="3" height="2.0" fill="#f40000"/>
<path d="M934.5 206.4 V221.3 M932.0 206.4 H937.0 M932.0 221.3 H937.0" stroke="#000" stroke-width="1.1" fill="none"/>
<rect x="933.0" y="212.9" width="3" height="3.1" fill="#f40000"/>
<path d="M945.5 194.4 V214.4 M943.0 194.4 H948.0 M943.0 214.4 H948.0" stroke="#000" stroke-width="1.1" fill="none"/>
<rect x="944.0" y="202.0" width="3" height="12.7" fill="#00ec00"/>
<path d="M955.5 198.4 V208.4 M953.0 198.4 H958.0 M953.0 208.4 H958.0" stroke="#000" stroke-width="1.1" fill="none"/>
<rect x="954.0" y="202.0" width="3" height="6.4" fill="#f40000"/>
<path d="M966.5 204.4 V214.4 M964.0 204.4 H969.0 M964.0 214.4 H969.0" stroke="#000" stroke-width="1.1" fill="none"/>
<rect x="965.0" y="208.9" width="3" height="5.1" fill="#00ec00"/>
<path d="M976.5 198.4 V220.3 M974.0 198.4 H979.0 M974.0 220.3 H979.0" stroke="#000" stroke-width="1.1" fill="none"/>
<rect x="975.0" y="208.0" width="3" height="2.9" fill="#f40000"/>
<path d="M987.5 188.4 V216.3 M985.0 188.4 H990.0 M985.0 216.3 H990.0" stroke="#000" stroke-width="1.1" fill="none"/>
<rect x="986.0" y="208.0" width="3" height="8.7" fill="#00ec00"/>
<path d="M997.5 166.4 V204.3 M995.0 166.4 H1000.0 M995.0 204.3 H1000.0" stroke="#000" stroke-width="1.1" fill="none"/>
<rect x="996.0" y="180.9" width="3" height="22.0" fill="#00ec00"/>
<path d="M1008.5 175.3 V198.3 M1006.0 175.3 H1011.0 M1006.0 198.3 H1011.0" stroke="#000" stroke-width="1.1" fill="none"/>
<rect x="1007.0" y="182.0" width="3" height="12.9" fill="#f40000"/>
<path d="M1018.5 193.3 V215.3 M1016.0 193.3 H1021.0 M1016.0 215.3 H1021.0" stroke="#000" stroke-width="1.1" fill="none"/>
<rect x="1017.0" y="196.9" width="3" height="10.0" fill="#f40000"/>
<path d="M1029.5 202.4 V221.3 M1027.0 202.4 H1032.0 M1027.0 221.3 H1032.0" stroke="#000" stroke-width="1.1" fill="none"/>
<rect x="1028.0" y="204.9" width="3" height="9.1" fill="#00ec00"/>
<path d="M1039.5 198.4 V230.4 M1037.0 198.4 H1042.0 M1037.0 230.4 H1042.0" stroke="#000" stroke-width="1.1" fill="none"/>
<rect x="1038.0" y="200.9" width="3" height="20.0" fill="#f40000"/>
<path d="M1050.5 217.3 V244.4 M1048.0 217.3 H1053.0 M1048.0 244.4 H1053.0" stroke="#000" stroke-width="1.1" fill="none"/>
<rect x="1049.0" y="217.3" width="3" height="9.6" fill="#f40000"/>
<path d="M1060.5 222.4 V240.3 M1058.0 222.4 H1063.0 M1058.0 240.3 H1063.0" stroke="#000" stroke-width="1.1" fill="none"/>
<rect x="1059.0" y="226.9" width="3" height="8.0" fill="#f40000"/>
<path d="M1071.5 232.3 V248.4 M1069.0 232.3 H1074.0 M1069.0 248.4 H1074.0" stroke="#000" stroke-width="1.1" fill="none"/>
<rect x="1070.0" y="236.0" width="3" height="4.0" fill="#00ec00"/>
<path d="M1081.5 213.3 V236.3 M1079.0 213.3 H1084.0 M1079.0 236.3 H1084.0" stroke="#000" stroke-width="1.1" fill="none"/>
<rect x="1080.0" y="214.9" width="3" height="18.0" fill="#00ec00"/>
<path d="M1092.5 216.4 V228.4 M1090.0 216.4 H1095.0 M1090.0 228.4 H1095.0" stroke="#000" stroke-width="1.1" fill="none"/>
<rect x="1091.0" y="216.9" width="3" height="10.0" fill="#f40000"/>
<path d="M1102.5 227.3 V250.4 M1100.0 227.3 H1105.0 M1100.0 250.4 H1105.0" stroke="#000" stroke-width="1.1" fill="none"/>
<rect x="1101.0" y="232.0" width="3" height="4.9" fill="#f40000"/>
<path d="M1113.5 237.6 V257.3 M1111.0 237.6 H1116.0 M1111.0 257.3 H1116.0" stroke="#000" stroke-width="1.1" fill="none"/>
<rect x="1112.0" y="238.0" width="3" height="19.3" fill="#f40000"/>
<path d="M1123.5 236.3 V257.3 M1121.0 236.3 H1126.0 M1121.0 257.3 H1126.0" stroke="#000" stroke-width="1.1" fill="none"/>
<rect x="1122.0" y="250.9" width="3" height="6.7" fill="#00ec00"/>
<path d="M1134.5 239.3 V257.3 M1132.0 239.3 H1137.0 M1132.0 257.3 H1137.0" stroke="#000" stroke-width="1.1" fill="none"/>
<rect x="1133.0" y="244.0" width="3" height="2.9" fill="#00ec00"/>
<path d="M1144.5 219.3 V256.4 M1142.0 219.3 H1147.0 M1142.0 256.4 H1147.0" stroke="#000" stroke-width="1.1" fill="none"/>
<rect x="1143.0" y="220.9" width="3" height="26.0" fill="#00ec00"/>
<line x1="100.5" y1="56.5" x2="100.5" y2="600.5" stroke="#222" stroke-width="1"/>
<path d="M100.5 53.5 L96.9 60.0 L104.1 60.0 Z" fill="#000"/>
<line x1="100.0" y1="600.5" x2="1158" y2="600.5" stroke="#000" stroke-width="1"/>
<path d="M1163 600.5 L1155.5 597.0 L1155.5 604.0 Z" fill="#000"/>
<line x1="98.0" y1="600.50" x2="103.0" y2="600.50" stroke="#000"/>
<line x1="98.0" y1="580.50" x2="100.5" y2="580.50" stroke="#f00"/>
<text x="98.2" y="605.0" font-size="11.3" text-anchor="end"  textLength="31.4" lengthAdjust="spacingAndGlyphs">94.00</text>
<line x1="98.0" y1="561.50" x2="103.0" y2="561.50" stroke="#000"/>
<line x1="98.0" y1="542.50" x2="100.5" y2="542.50" stroke="#f00"/>
<text x="98.2" y="566.0" font-size="11.3" text-anchor="end"  textLength="31.4" lengthAdjust="spacingAndGlyphs">96.00</text>
<line x1="98.0" y1="523.50" x2="103.0" y2="523.50" stroke="#000"/>
<line x1="98.0" y1="504.50" x2="100.5" y2="504.50" stroke="#f00"/>
<text x="98.2" y="528.0" font-size="11.3" text-anchor="end"  textLength="31.4" lengthAdjust="spacingAndGlyphs">98.00</text>
<line x1="98.0" y1="485.50" x2="103.0" y2="485.50" stroke="#000"/>
<line x1="98.0" y1="466.50" x2="100.5" y2="466.50" stroke="#f00"/>
<text x="98.2" y="490.0" font-size="11.3" text-anchor="end"  textLength="38.2" lengthAdjust="spacingAndGlyphs">100.00</text>
<line x1="98.0" y1="447.50" x2="103.0" y2="447.50" stroke="#000"/>
<line x1="98.0" y1="428.50" x2="100.5" y2="428.50" stroke="#f00"/>
<text x="98.2" y="452.0" font-size="11.3" text-anchor="end"  textLength="38.2" lengthAdjust="spacingAndGlyphs">102.00</text>
<line x1="98.0" y1="408.50" x2="103.0" y2="408.50" stroke="#000"/>
<line x1="98.0" y1="389.50" x2="100.5" y2="389.50" stroke="#f00"/>
<text x="98.2" y="413.0" font-size="11.3" text-anchor="end"  textLength="38.2" lengthAdjust="spacingAndGlyphs">104.00</text>
<line x1="98.0" y1="370.50" x2="103.0" y2="370.50" stroke="#000"/>
<line x1="98.0" y1="351.50" x2="100.5" y2="351.50" stroke="#f00"/>
<text x="98.2" y="375.0" font-size="11.3" text-anchor="end"  textLength="38.2" lengthAdjust="spacingAndGlyphs">106.00</text>
<line x1="98.0" y1="332.50" x2="103.0" y2="332.50" stroke="#000"/>
<line x1="98.0" y1="313.50" x2="100.5" y2="313.50" stroke="#f00"/>
<text x="98.2" y="337.0" font-size="11.3" text-anchor="end"  textLength="38.2" lengthAdjust="spacingAndGlyphs">108.00</text>
<line x1="98.0" y1="294.50" x2="103.0" y2="294.50" stroke="#000"/>
<line x1="98.0" y1="275.50" x2="100.5" y2="275.50" stroke="#f00"/>
<text x="98.2" y="299.0" font-size="11.3" text-anchor="end"  textLength="38.2" lengthAdjust="spacingAndGlyphs">110.00</text>
<line x1="98.0" y1="256.50" x2="103.0" y2="256.50" stroke="#000"/>
<line x1="98.0" y1="236.50" x2="100.5" y2="236.50" stroke="#f00"/>
<text x="98.2" y="261.0" font-size="11.3" text-anchor="end"  textLength="38.2" lengthAdjust="spacingAndGlyphs">112.00</text>
<line x1="98.0" y1="217.50" x2="103.0" y2="217.50" stroke="#000"/>
<line x1="98.0" y1="198.50" x2="100.5" y2="198.50" stroke="#f00"/>
<text x="98.2" y="222.0" font-size="11.3" text-anchor="end"  textLength="38.2" lengthAdjust="spacingAndGlyphs">114.00</text>
<line x1="98.0" y1="179.50" x2="103.0" y2="179.50" stroke="#000"/>
<line x1="98.0" y1="160.50" x2="100.5" y2="160.50" stroke="#f00"/>
<text x="98.2" y="184.0" font-size="11.3" text-anchor="end"  textLength="38.2" lengthAdjust="spacingAndGlyphs">116.00</text>
<line x1="98.0" y1="141.50" x2="103.0" y2="141.50" stroke="#000"/>
<line x1="98.0" y1="122.50" x2="100.5" y2="122.50" stroke="#f00"/>
<text x="98.2" y="146.0" font-size="11.3" text-anchor="end"  textLength="38.2" lengthAdjust="spacingAndGlyphs">118.00</text>
<line x1="98.0" y1="103.50" x2="103.0" y2="103.50" stroke="#000"/>
<line x1="98.0" y1="84.50" x2="100.5" y2="84.50" stroke="#f00"/>
<text x="98.2" y="108.0" font-size="11.3" text-anchor="end"  textLength="38.2" lengthAdjust="spacingAndGlyphs">120.00</text>
<line x1="98.0" y1="65.50" x2="103.0" y2="65.50" stroke="#000"/>
<text x="98.2" y="70.0" font-size="11.3" text-anchor="end"  textLength="38.2" lengthAdjust="spacingAndGlyphs">122.00</text>
<line x1="115.50" y1="600.5" x2="115.50" y2="603.5" stroke="#ccc"/>
<line x1="126.50" y1="600.5" x2="126.50" y2="603.5" stroke="#ccc"/>
<line x1="136.50" y1="600.5" x2="136.50" y2="603.5" stroke="#ccc"/>
<line x1="147.50" y1="600.5" x2="147.50" y2="603.5" stroke="#ccc"/>
<line x1="168.50" y1="600.5" x2="168.50" y2="603.5" stroke="#ccc"/>
<line x1="178.50" y1="600.5" x2="178.50" y2="603.5" stroke="#ccc"/>
<line x1="189.50" y1="600.5" x2="189.50" y2="603.5" stroke="#ccc"/>
<line x1="199.50" y1="600.5" x2="199.50" y2="603.5" stroke="#ccc"/>
<line x1="220.50" y1="600.5" x2="220.50" y2="603.5" stroke="#ccc"/>
<line x1="231.50" y1="600.5" x2="231.50" y2="603.5" stroke="#ccc"/>
<line x1="241.50" y1="600.5" x2="241.50" y2="603.5" stroke="#ccc"/>
<line x1="252.50" y1="600.5" x2="252.50" y2="603.5" stroke="#ccc"/>
<line x1="273.50" y1="600.5" x2="273.50" y2="603.5" stroke="#ccc"/>
<line x1="283.50" y1="600.5" x2="283.50" y2="603.5" stroke="#ccc"/>
<line x1="294.50" y1="600.5" x2="294.50" y2="603.5" stroke="#ccc"/>
<line x1="304.50" y1="600.5" x2="304.50" y2="603.5" stroke="#ccc"/>
<line x1="325.50" y1="600.5" x2="325.50" y2="603.5" stroke="#ccc"/>
<line x1="336.50" y1="600.5" x2="336.50" y2="603.5" stroke="#ccc"/>
<line x1="346.50" y1="600.5" x2="346.50" y2="603.5" stroke="#ccc"/>
<line x1="357.50" y1="600.5" x2="357.50" y2="603.5" stroke="#ccc"/>
<line x1="378.50" y1="600.5" x2="378.50" y2="603.5" stroke="#ccc"/>
<line x1="388.50" y1="600.5" x2="388.50" y2="603.5" stroke="#ccc"/>
<line x1="399.50" y1="600.5" x2="399.50" y2="603.5" stroke="#ccc"/>
<line x1="409.50" y1="600.5" x2="409.50" y2="603.5" stroke="#ccc"/>
<line x1="430.50" y1="600.5" x2="430.50" y2="603.5" stroke="#ccc"/>
<line x1="441.50" y1="600.5" x2="441.50" y2="603.5" stroke="#ccc"/>
<line x1="451.50" y1="600.5" x2="451.50" y2="603.5" stroke="#ccc"/>
<line x1="462.50" y1="600.5" x2="462.50" y2="603.5" stroke="#ccc"/>
<line x1="483.50" y1="600.5" x2="483.50" y2="603.5" stroke="#ccc"/>
<line x1="493.50" y1="600.5" x2="493.50" y2="603.5" stroke="#ccc"/>
<line x1="504.50" y1="600.5" x2="504.50" y2="603.5" stroke="#ccc"/>
<line x1="514.50" y1="600.5" x2="514.50" y2="603.5" stroke="#ccc"/>
<line x1="535.50" y1="600.5" x2="535.50" y2="603.5" stroke="#ccc"/>
<line x1="546.50" y1="600.5" x2="546.50" y2="603.5" stroke="#ccc"/>
<line x1="556.50" y1="600.5" x2="556.50" y2="603.5" stroke="#ccc"/>
<line x1="567.50" y1="600.5" x2="567.50" y2="603.5" stroke="#ccc"/>
<line x1="588.50" y1="600.5" x2="588.50" y2="603.5" stroke="#ccc"/>
<line x1="598.50" y1="600.5" x2="598.50" y2="603.5" stroke="#ccc"/>
<line x1="609.50" y1="600.5" x2="609.50" y2="603.5" stroke="#ccc"/>
<line x1="619.50" y1="600.5" x2="619.50" y2="603.5" stroke="#ccc"/>
<line x1="640.50" y1="600.5" x2="640.50" y2="603.5" stroke="#ccc"/>
<line x1="651.50" y1="600.5" x2="651.50" y2="603.5" stroke="#ccc"/>
<line x1="661.50" y1="600.5" x2="661.50" y2="603.5" stroke="#ccc"/>
<line x1="672.50" y1="600.5" x2="672.50" y2="603.5" stroke="#ccc"/>
<line x1="693.50" y1="600.5" x2="693.50" y2="603.5" stroke="#ccc"/>
<line x1="703.50" y1="600.5" x2="703.50" y2="603.5" stroke="#ccc"/>
<line x1="714.50" y1="600.5" x2="714.50" y2="603.5" stroke="#ccc"/>
<line x1="724.50" y1="600.5" x2="724.50" y2="603.5" stroke="#ccc"/>
<line x1="745.50" y1="600.5" x2="745.50" y2="603.5" stroke="#ccc"/>
<line x1="756.50" y1="600.5" x2="756.50" y2="603.5" stroke="#ccc"/>
<line x1="766.50" y1="600.5" x2="766.50" y2="603.5" stroke="#ccc"/>
<line x1="777.50" y1="600.5" x2="777.50" y2="603.5" stroke="#ccc"/>
<line x1="798.50" y1="600.5" x2="798.50" y2="603.5" stroke="#ccc"/>
<line x1="808.50" y1="600.5" x2="808.50" y2="603.5" stroke="#ccc"/>
<line x1="819.50" y1="600.5" x2="819.50" y2="603.5" stroke="#ccc"/>
<line x1="829.50" y1="600.5" x2="829.50" y2="603.5" stroke="#ccc"/>
<line x1="850.50" y1="600.5" x2="850.50" y2="603.5" stroke="#ccc"/>
<line x1="861.50" y1="600.5" x2="861.50" y2="603.5" stroke="#ccc"/>
<line x1="871.50" y1="600.5" x2="871.50" y2="603.5" stroke="#ccc"/>
<line x1="882.50" y1="600.5" x2="882.50" y2="603.5" stroke="#ccc"/>
<line x1="903.50" y1="600.5" x2="903.50" y2="603.5" stroke="#ccc"/>
<line x1="913.50" y1="600.5" x2="913.50" y2="603.5" stroke="#ccc"/>
<line x1="924.50" y1="600.5" x2="924.50" y2="603.5" stroke="#ccc"/>
<line x1="934.50" y1="600.5" x2="934.50" y2="603.5" stroke="#ccc"/>
<line x1="955.50" y1="600.5" x2="955.50" y2="603.5" stroke="#ccc"/>
<line x1="966.50" y1="600.5" x2="966.50" y2="603.5" stroke="#ccc"/>
<line x1="976.50" y1="600.5" x2="976.50" y2="603.5" stroke="#ccc"/>
<line x1="987.50" y1="600.5" x2="987.50" y2="603.5" stroke="#ccc"/>
<line x1="1008.50" y1="600.5" x2="1008.50" y2="603.5" stroke="#ccc"/>
<line x1="1018.50" y1="600.5" x2="1018.50" y2="603.5" stroke="#ccc"/>
<line x1="1029.50" y1="600.5" x2="1029.50" y2="603.5" stroke="#ccc"/>
<line x1="1039.50" y1="600.5" x2="1039.50" y2="603.5" stroke="#ccc"/>
<line x1="1060.50" y1="600.5" x2="1060.50" y2="603.5" stroke="#ccc"/>
<line x1="1071.50" y1="600.5" x2="1071.50" y2="603.5" stroke="#ccc"/>
<line x1="1081.50" y1="600.5" x2="1081.50" y2="603.5" stroke="#ccc"/>
<line x1="1092.50" y1="600.5" x2="1092.50" y2="603.5" stroke="#ccc"/>
<line x1="1113.50" y1="600.5" x2="1113.50" y2="603.5" stroke="#ccc"/>
<line x1="1123.50" y1="600.5" x2="1123.50" y2="603.5" stroke="#ccc"/>
<line x1="1134.50" y1="600.5" x2="1134.50" y2="603.5" stroke="#ccc"/>
<line x1="1144.50" y1="600.5" x2="1144.50" y2="603.5" stroke="#ccc"/>
<line x1="105.50" y1="597.5" x2="105.50" y2="604.0" stroke="#000"/>
<text x="106.7" y="612.7" font-size="11.3" text-anchor="middle"  textLength="48.7" lengthAdjust="spacingAndGlyphs">1er Sept</text>
<line x1="157.50" y1="597.5" x2="157.50" y2="604.0" stroke="#000"/>
<text x="158.7" y="612.7" font-size="11.3" text-anchor="middle"  textLength="36.3" lengthAdjust="spacingAndGlyphs">8 Sept</text>
<line x1="210.50" y1="597.5" x2="210.50" y2="604.0" stroke="#000"/>
<text x="211.7" y="612.7" font-size="11.3" text-anchor="middle"  textLength="43.8" lengthAdjust="spacingAndGlyphs">15 Sept</text>
<line x1="262.50" y1="597.5" x2="262.50" y2="604.0" stroke="#000"/>
<text x="263.7" y="612.7" font-size="11.3" text-anchor="middle"  textLength="43.8" lengthAdjust="spacingAndGlyphs">22 Sept</text>
<line x1="315.50" y1="597.5" x2="315.50" y2="604.0" stroke="#000"/>
<text x="316.7" y="612.7" font-size="11.3" text-anchor="middle"  textLength="43.8" lengthAdjust="spacingAndGlyphs">29 Sept</text>
<line x1="367.50" y1="597.5" x2="367.50" y2="604.0" stroke="#000"/>
<text x="368.7" y="612.7" font-size="11.3" text-anchor="middle"  textLength="30.0" lengthAdjust="spacingAndGlyphs">6 Oct</text>
<line x1="420.50" y1="597.5" x2="420.50" y2="604.0" stroke="#000"/>
<text x="421.7" y="612.7" font-size="11.3" text-anchor="middle"  textLength="37.5" lengthAdjust="spacingAndGlyphs">13 Oct</text>
<line x1="472.50" y1="597.5" x2="472.50" y2="604.0" stroke="#000"/>
<text x="473.7" y="612.7" font-size="11.3" text-anchor="middle"  textLength="37.5" lengthAdjust="spacingAndGlyphs">20 Oct</text>
<line x1="525.50" y1="597.5" x2="525.50" y2="604.0" stroke="#000"/>
<text x="526.7" y="612.7" font-size="11.3" text-anchor="middle"  textLength="37.5" lengthAdjust="spacingAndGlyphs">27 Oct</text>
<line x1="577.50" y1="597.5" x2="577.50" y2="604.0" stroke="#000"/>
<text x="578.7" y="612.7" font-size="11.3" text-anchor="middle"  textLength="32.0" lengthAdjust="spacingAndGlyphs">3 Nov</text>
<line x1="630.50" y1="597.5" x2="630.50" y2="604.0" stroke="#000"/>
<text x="631.7" y="612.7" font-size="11.3" text-anchor="middle"  textLength="39.5" lengthAdjust="spacingAndGlyphs">10 Nov</text>
<line x1="682.50" y1="597.5" x2="682.50" y2="604.0" stroke="#000"/>
<text x="683.7" y="612.7" font-size="11.3" text-anchor="middle"  textLength="39.5" lengthAdjust="spacingAndGlyphs">17 Nov</text>
<line x1="735.50" y1="597.5" x2="735.50" y2="604.0" stroke="#000"/>
<text x="736.7" y="612.7" font-size="11.3" text-anchor="middle"  textLength="39.5" lengthAdjust="spacingAndGlyphs">24 Nov</text>
<line x1="787.50" y1="597.5" x2="787.50" y2="604.0" stroke="#000"/>
<text x="788.7" y="613.8" font-size="11.3" text-anchor="middle"  textLength="33.0" lengthAdjust="spacingAndGlyphs">5 Déc</text>
<line x1="840.50" y1="597.5" x2="840.50" y2="604.0" stroke="#000"/>
<text x="841.7" y="613.8" font-size="11.3" text-anchor="middle"  textLength="40.5" lengthAdjust="spacingAndGlyphs">12 Déc</text>
<line x1="892.50" y1="597.5" x2="892.50" y2="604.0" stroke="#000"/>
<text x="893.7" y="613.8" font-size="11.3" text-anchor="middle"  textLength="40.5" lengthAdjust="spacingAndGlyphs">19 Déc</text>
<line x1="945.50" y1="597.5" x2="945.50" y2="604.0" stroke="#000"/>
<text x="946.7" y="613.8" font-size="11.3" text-anchor="middle"  textLength="40.5" lengthAdjust="spacingAndGlyphs">27 Déc</text>
<line x1="997.50" y1="597.5" x2="997.50" y2="604.0" stroke="#000"/>
<text x="998.7" y="612.7" font-size="11.3" text-anchor="middle"  textLength="35.0" lengthAdjust="spacingAndGlyphs">3 Janv</text>
<line x1="1050.50" y1="597.5" x2="1050.50" y2="604.0" stroke="#000"/>
<text x="1051.7" y="612.7" font-size="11.3" text-anchor="middle"  textLength="42.6" lengthAdjust="spacingAndGlyphs">10 Janv</text>
<line x1="1102.50" y1="597.5" x2="1102.50" y2="604.0" stroke="#000"/>
<text x="1103.7" y="612.7" font-size="11.3" text-anchor="middle"  textLength="42.6" lengthAdjust="spacingAndGlyphs">17 Janv</text>
<text x="627.0" y="627.2" font-size="11.3" text-anchor="middle"  textLength="289.5" lengthAdjust="spacingAndGlyphs">Date (du 1er Septembre 2016 au 23 Janvier 2017)</text>
<text transform="translate(55.2,329.8) rotate(-90)" font-size="11.3" text-anchor="middle" textLength="72.3" lengthAdjust="spacingAndGlyphs">Cours (Euro)</text>
<text x="112.5" y="35.0" font-size="24" text-anchor="start"  textLength="354.0" lengthAdjust="spacingAndGlyphs">Wendel: graphique du cours -</text>
<text x="475.0" y="35.0" font-size="24" text-anchor="start"  textLength="207.5" lengthAdjust="spacingAndGlyphs">AnalyBourse.com</text>
<rect x="551.4" y="51" width="6" height="6" fill="#000" fill-opacity="0.12"/>
<rect x="550.4" y="50" width="6" height="6" fill="#d86060"/>
<text x="560.6" y="56.0" font-size="11.3" text-anchor="start"  textLength="54.4" lengthAdjust="spacingAndGlyphs">Support 1</text>
<rect x="620.2" y="51" width="6" height="6" fill="#000" fill-opacity="0.12"/>
<rect x="619.2" y="50" width="6" height="6" fill="#b86464"/>
<text x="629.3" y="56.0" font-size="11.3" text-anchor="start"  textLength="54.7" lengthAdjust="spacingAndGlyphs">Support 2</text>
<rect x="689" y="51" width="6" height="6" fill="#000" fill-opacity="0.12"/>
<rect x="688" y="50" width="6" height="6" fill="#64d864"/>
<text x="698.4" y="57.6" font-size="11.3" text-anchor="start"  textLength="70.0" lengthAdjust="spacingAndGlyphs">Résistance 1</text>
<rect x="774" y="51" width="6" height="6" fill="#000" fill-opacity="0.12"/>
<rect x="773" y="50" width="6" height="6" fill="#64b464"/>
<text x="783.0" y="57.6" font-size="11.3" text-anchor="start"  textLength="71.0" lengthAdjust="spacingAndGlyphs">Résistance 2</text>
<rect x="860.2" y="51" width="6" height="6" fill="#000" fill-opacity="0.12"/>
<rect x="859.2" y="50" width="6" height="6" fill="#5a5af5"/>
<text x="868.2" y="56.0" font-size="11.3" text-anchor="start"  textLength="30.6" lengthAdjust="spacingAndGlyphs">MM20</text>
<rect x="905.3" y="51" width="6" height="6" fill="#000" fill-opacity="0.12"/>
<rect x="904.3" y="50" width="6" height="6" fill="#b464f5"/>
<text x="913.3" y="56.0" font-size="11.3" text-anchor="start"  textLength="30.6" lengthAdjust="spacingAndGlyphs">MM50</text>
<rect x="950" y="51" width="6" height="6" fill="#000" fill-opacity="0.12"/>
<rect x="949" y="50" width="6" height="6" fill="#f564f5"/>
<text x="958.3" y="56.0" font-size="11.3" text-anchor="start"  textLength="37.6" lengthAdjust="spacingAndGlyphs">MM100</text>
<rect x="101.0" y="851.00" width="1050.0" height="25.00" fill="#f9f9f9"/>
<rect x="101.0" y="801.00" width="1050.0" height="25.00" fill="#f9f9f9"/>
<rect x="101.0" y="751.00" width="1050.0" height="25.00" fill="#f9f9f9"/>
<line x1="115.50" y1="725.0" x2="115.50" y2="900.5" stroke="#000" stroke-opacity="0.033" stroke-dasharray="6 6" stroke-dashoffset="1"/>
<line x1="126.50" y1="725.0" x2="126.50" y2="900.5" stroke="#000" stroke-opacity="0.033" stroke-dasharray="6 6" stroke-dashoffset="1"/>
<line x1="136.50" y1="725.0" x2="136.50" y2="900.5" stroke="#000" stroke-opacity="0.033" stroke-dasharray="6 6" stroke-dashoffset="1"/>
<line x1="147.50" y1="725.0" x2="147.50" y2="900.5" stroke="#000" stroke-opacity="0.033" stroke-dasharray="6 6" stroke-dashoffset="1"/>
<line x1="168.50" y1="725.0" x2="168.50" y2="900.5" stroke="#000" stroke-opacity="0.033" stroke-dasharray="6 6" stroke-dashoffset="1"/>
<line x1="178.50" y1="725.0" x2="178.50" y2="900.5" stroke="#000" stroke-opacity="0.033" stroke-dasharray="6 6" stroke-dashoffset="1"/>
<line x1="189.50" y1="725.0" x2="189.50" y2="900.5" stroke="#000" stroke-opacity="0.033" stroke-dasharray="6 6" stroke-dashoffset="1"/>
<line x1="199.50" y1="725.0" x2="199.50" y2="900.5" stroke="#000" stroke-opacity="0.033" stroke-dasharray="6 6" stroke-dashoffset="1"/>
<line x1="220.50" y1="725.0" x2="220.50" y2="900.5" stroke="#000" stroke-opacity="0.033" stroke-dasharray="6 6" stroke-dashoffset="1"/>
<line x1="231.50" y1="725.0" x2="231.50" y2="900.5" stroke="#000" stroke-opacity="0.033" stroke-dasharray="6 6" stroke-dashoffset="1"/>
<line x1="241.50" y1="725.0" x2="241.50" y2="900.5" stroke="#000" stroke-opacity="0.033" stroke-dasharray="6 6" stroke-dashoffset="1"/>
<line x1="252.50" y1="725.0" x2="252.50" y2="900.5" stroke="#000" stroke-opacity="0.033" stroke-dasharray="6 6" stroke-dashoffset="1"/>
<line x1="273.50" y1="725.0" x2="273.50" y2="900.5" stroke="#000" stroke-opacity="0.033" stroke-dasharray="6 6" stroke-dashoffset="1"/>
<line x1="283.50" y1="725.0" x2="283.50" y2="900.5" stroke="#000" stroke-opacity="0.033" stroke-dasharray="6 6" stroke-dashoffset="1"/>
<line x1="294.50" y1="725.0" x2="294.50" y2="900.5" stroke="#000" stroke-opacity="0.033" stroke-dasharray="6 6" stroke-dashoffset="1"/>
<line x1="304.50" y1="725.0" x2="304.50" y2="900.5" stroke="#000" stroke-opacity="0.033" stroke-dasharray="6 6" stroke-dashoffset="1"/>
<line x1="325.50" y1="725.0" x2="325.50" y2="900.5" stroke="#000" stroke-opacity="0.033" stroke-dasharray="6 6" stroke-dashoffset="1"/>
<line x1="336.50" y1="725.0" x2="336.50" y2="900.5" stroke="#000" stroke-opacity="0.033" stroke-dasharray="6 6" stroke-dashoffset="1"/>
<line x1="346.50" y1="725.0" x2="346.50" y2="900.5" stroke="#000" stroke-opacity="0.033" stroke-dasharray="6 6" stroke-dashoffset="1"/>
<line x1="357.50" y1="725.0" x2="357.50" y2="900.5" stroke="#000" stroke-opacity="0.033" stroke-dasharray="6 6" stroke-dashoffset="1"/>
<line x1="378.50" y1="725.0" x2="378.50" y2="900.5" stroke="#000" stroke-opacity="0.033" stroke-dasharray="6 6" stroke-dashoffset="1"/>
<line x1="388.50" y1="725.0" x2="388.50" y2="900.5" stroke="#000" stroke-opacity="0.033" stroke-dasharray="6 6" stroke-dashoffset="1"/>
<line x1="399.50" y1="725.0" x2="399.50" y2="900.5" stroke="#000" stroke-opacity="0.033" stroke-dasharray="6 6" stroke-dashoffset="1"/>
<line x1="409.50" y1="725.0" x2="409.50" y2="900.5" stroke="#000" stroke-opacity="0.033" stroke-dasharray="6 6" stroke-dashoffset="1"/>
<line x1="430.50" y1="725.0" x2="430.50" y2="900.5" stroke="#000" stroke-opacity="0.033" stroke-dasharray="6 6" stroke-dashoffset="1"/>
<line x1="441.50" y1="725.0" x2="441.50" y2="900.5" stroke="#000" stroke-opacity="0.033" stroke-dasharray="6 6" stroke-dashoffset="1"/>
<line x1="451.50" y1="725.0" x2="451.50" y2="900.5" stroke="#000" stroke-opacity="0.033" stroke-dasharray="6 6" stroke-dashoffset="1"/>
<line x1="462.50" y1="725.0" x2="462.50" y2="900.5" stroke="#000" stroke-opacity="0.033" stroke-dasharray="6 6" stroke-dashoffset="1"/>
<line x1="483.50" y1="725.0" x2="483.50" y2="900.5" stroke="#000" stroke-opacity="0.033" stroke-dasharray="6 6" stroke-dashoffset="1"/>
<line x1="493.50" y1="725.0" x2="493.50" y2="900.5" stroke="#000" stroke-opacity="0.033" stroke-dasharray="6 6" stroke-dashoffset="1"/>
<line x1="504.50" y1="725.0" x2="504.50" y2="900.5" stroke="#000" stroke-opacity="0.033" stroke-dasharray="6 6" stroke-dashoffset="1"/>
<line x1="514.50" y1="725.0" x2="514.50" y2="900.5" stroke="#000" stroke-opacity="0.033" stroke-dasharray="6 6" stroke-dashoffset="1"/>
<line x1="535.50" y1="725.0" x2="535.50" y2="900.5" stroke="#000" stroke-opacity="0.033" stroke-dasharray="6 6" stroke-dashoffset="1"/>
<line x1="546.50" y1="725.0" x2="546.50" y2="900.5" stroke="#000" stroke-opacity="0.033" stroke-dasharray="6 6" stroke-dashoffset="1"/>
<line x1="556.50" y1="725.0" x2="556.50" y2="900.5" stroke="#000" stroke-opacity="0.033" stroke-dasharray="6 6" stroke-dashoffset="1"/>
<line x1="567.50" y1="725.0" x2="567.50" y2="900.5" stroke="#000" stroke-opacity="0.033" stroke-dasharray="6 6" stroke-dashoffset="1"/>
<line x1="588.50" y1="725.0" x2="588.50" y2="900.5" stroke="#000" stroke-opacity="0.033" stroke-dasharray="6 6" stroke-dashoffset="1"/>
<line x1="598.50" y1="725.0" x2="598.50" y2="900.5" stroke="#000" stroke-opacity="0.033" stroke-dasharray="6 6" stroke-dashoffset="1"/>
<line x1="609.50" y1="725.0" x2="609.50" y2="900.5" stroke="#000" stroke-opacity="0.033" stroke-dasharray="6 6" stroke-dashoffset="1"/>
<line x1="619.50" y1="725.0" x2="619.50" y2="900.5" stroke="#000" stroke-opacity="0.033" stroke-dasharray="6 6" stroke-dashoffset="1"/>
<line x1="640.50" y1="725.0" x2="640.50" y2="900.5" stroke="#000" stroke-opacity="0.033" stroke-dasharray="6 6" stroke-dashoffset="1"/>
<line x1="651.50" y1="725.0" x2="651.50" y2="900.5" stroke="#000" stroke-opacity="0.033" stroke-dasharray="6 6" stroke-dashoffset="1"/>
<line x1="661.50" y1="725.0" x2="661.50" y2="900.5" stroke="#000" stroke-opacity="0.033" stroke-dasharray="6 6" stroke-dashoffset="1"/>
<line x1="672.50" y1="725.0" x2="672.50" y2="900.5" stroke="#000" stroke-opacity="0.033" stroke-dasharray="6 6" stroke-dashoffset="1"/>
<line x1="693.50" y1="725.0" x2="693.50" y2="900.5" stroke="#000" stroke-opacity="0.033" stroke-dasharray="6 6" stroke-dashoffset="1"/>
<line x1="703.50" y1="725.0" x2="703.50" y2="900.5" stroke="#000" stroke-opacity="0.033" stroke-dasharray="6 6" stroke-dashoffset="1"/>
<line x1="714.50" y1="725.0" x2="714.50" y2="900.5" stroke="#000" stroke-opacity="0.033" stroke-dasharray="6 6" stroke-dashoffset="1"/>
<line x1="724.50" y1="725.0" x2="724.50" y2="900.5" stroke="#000" stroke-opacity="0.033" stroke-dasharray="6 6" stroke-dashoffset="1"/>
<line x1="745.50" y1="725.0" x2="745.50" y2="900.5" stroke="#000" stroke-opacity="0.033" stroke-dasharray="6 6" stroke-dashoffset="1"/>
<line x1="756.50" y1="725.0" x2="756.50" y2="900.5" stroke="#000" stroke-opacity="0.033" stroke-dasharray="6 6" stroke-dashoffset="1"/>
<line x1="766.50" y1="725.0" x2="766.50" y2="900.5" stroke="#000" stroke-opacity="0.033" stroke-dasharray="6 6" stroke-dashoffset="1"/>
<line x1="777.50" y1="725.0" x2="777.50" y2="900.5" stroke="#000" stroke-opacity="0.033" stroke-dasharray="6 6" stroke-dashoffset="1"/>
<line x1="798.50" y1="725.0" x2="798.50" y2="900.5" stroke="#000" stroke-opacity="0.033" stroke-dasharray="6 6" stroke-dashoffset="1"/>
<line x1="808.50" y1="725.0" x2="808.50" y2="900.5" stroke="#000" stroke-opacity="0.033" stroke-dasharray="6 6" stroke-dashoffset="1"/>
<line x1="819.50" y1="725.0" x2="819.50" y2="900.5" stroke="#000" stroke-opacity="0.033" stroke-dasharray="6 6" stroke-dashoffset="1"/>
<line x1="829.50" y1="725.0" x2="829.50" y2="900.5" stroke="#000" stroke-opacity="0.033" stroke-dasharray="6 6" stroke-dashoffset="1"/>
<line x1="850.50" y1="725.0" x2="850.50" y2="900.5" stroke="#000" stroke-opacity="0.033" stroke-dasharray="6 6" stroke-dashoffset="1"/>
<line x1="861.50" y1="725.0" x2="861.50" y2="900.5" stroke="#000" stroke-opacity="0.033" stroke-dasharray="6 6" stroke-dashoffset="1"/>
<line x1="871.50" y1="725.0" x2="871.50" y2="900.5" stroke="#000" stroke-opacity="0.033" stroke-dasharray="6 6" stroke-dashoffset="1"/>
<line x1="882.50" y1="725.0" x2="882.50" y2="900.5" stroke="#000" stroke-opacity="0.033" stroke-dasharray="6 6" stroke-dashoffset="1"/>
<line x1="903.50" y1="725.0" x2="903.50" y2="900.5" stroke="#000" stroke-opacity="0.033" stroke-dasharray="6 6" stroke-dashoffset="1"/>
<line x1="913.50" y1="725.0" x2="913.50" y2="900.5" stroke="#000" stroke-opacity="0.033" stroke-dasharray="6 6" stroke-dashoffset="1"/>
<line x1="924.50" y1="725.0" x2="924.50" y2="900.5" stroke="#000" stroke-opacity="0.033" stroke-dasharray="6 6" stroke-dashoffset="1"/>
<line x1="934.50" y1="725.0" x2="934.50" y2="900.5" stroke="#000" stroke-opacity="0.033" stroke-dasharray="6 6" stroke-dashoffset="1"/>
<line x1="955.50" y1="725.0" x2="955.50" y2="900.5" stroke="#000" stroke-opacity="0.033" stroke-dasharray="6 6" stroke-dashoffset="1"/>
<line x1="966.50" y1="725.0" x2="966.50" y2="900.5" stroke="#000" stroke-opacity="0.033" stroke-dasharray="6 6" stroke-dashoffset="1"/>
<line x1="976.50" y1="725.0" x2="976.50" y2="900.5" stroke="#000" stroke-opacity="0.033" stroke-dasharray="6 6" stroke-dashoffset="1"/>
<line x1="987.50" y1="725.0" x2="987.50" y2="900.5" stroke="#000" stroke-opacity="0.033" stroke-dasharray="6 6" stroke-dashoffset="1"/>
<line x1="1008.50" y1="725.0" x2="1008.50" y2="900.5" stroke="#000" stroke-opacity="0.033" stroke-dasharray="6 6" stroke-dashoffset="1"/>
<line x1="1018.50" y1="725.0" x2="1018.50" y2="900.5" stroke="#000" stroke-opacity="0.033" stroke-dasharray="6 6" stroke-dashoffset="1"/>
<line x1="1029.50" y1="725.0" x2="1029.50" y2="900.5" stroke="#000" stroke-opacity="0.033" stroke-dasharray="6 6" stroke-dashoffset="1"/>
<line x1="1039.50" y1="725.0" x2="1039.50" y2="900.5" stroke="#000" stroke-opacity="0.033" stroke-dasharray="6 6" stroke-dashoffset="1"/>
<line x1="1060.50" y1="725.0" x2="1060.50" y2="900.5" stroke="#000" stroke-opacity="0.033" stroke-dasharray="6 6" stroke-dashoffset="1"/>
<line x1="1071.50" y1="725.0" x2="1071.50" y2="900.5" stroke="#000" stroke-opacity="0.033" stroke-dasharray="6 6" stroke-dashoffset="1"/>
<line x1="1081.50" y1="725.0" x2="1081.50" y2="900.5" stroke="#000" stroke-opacity="0.033" stroke-dasharray="6 6" stroke-dashoffset="1"/>
<line x1="1092.50" y1="725.0" x2="1092.50" y2="900.5" stroke="#000" stroke-opacity="0.033" stroke-dasharray="6 6" stroke-dashoffset="1"/>
<line x1="1113.50" y1="725.0" x2="1113.50" y2="900.5" stroke="#000" stroke-opacity="0.033" stroke-dasharray="6 6" stroke-dashoffset="1"/>
<line x1="1123.50" y1="725.0" x2="1123.50" y2="900.5" stroke="#000" stroke-opacity="0.033" stroke-dasharray="6 6" stroke-dashoffset="1"/>
<line x1="1134.50" y1="725.0" x2="1134.50" y2="900.5" stroke="#000" stroke-opacity="0.033" stroke-dasharray="6 6" stroke-dashoffset="1"/>
<line x1="1144.50" y1="725.0" x2="1144.50" y2="900.5" stroke="#000" stroke-opacity="0.033" stroke-dasharray="6 6" stroke-dashoffset="1"/>
<line x1="105.50" y1="725.0" x2="105.50" y2="900.5" stroke="#000" stroke-opacity="0.105" stroke-dasharray="4 4" stroke-dashoffset="1"/>
<line x1="157.50" y1="725.0" x2="157.50" y2="900.5" stroke="#000" stroke-opacity="0.105" stroke-dasharray="4 4" stroke-dashoffset="1"/>
<line x1="210.50" y1="725.0" x2="210.50" y2="900.5" stroke="#000" stroke-opacity="0.105" stroke-dasharray="4 4" stroke-dashoffset="1"/>
<line x1="262.50" y1="725.0" x2="262.50" y2="900.5" stroke="#000" stroke-opacity="0.105" stroke-dasharray="4 4" stroke-dashoffset="1"/>
<line x1="315.50" y1="725.0" x2="315.50" y2="900.5" stroke="#000" stroke-opacity="0.105" stroke-dasharray="4 4" stroke-dashoffset="1"/>
<line x1="367.50" y1="725.0" x2="367.50" y2="900.5" stroke="#000" stroke-opacity="0.105" stroke-dasharray="4 4" stroke-dashoffset="1"/>
<line x1="420.50" y1="725.0" x2="420.50" y2="900.5" stroke="#000" stroke-opacity="0.105" stroke-dasharray="4 4" stroke-dashoffset="1"/>
<line x1="472.50" y1="725.0" x2="472.50" y2="900.5" stroke="#000" stroke-opacity="0.105" stroke-dasharray="4 4" stroke-dashoffset="1"/>
<line x1="525.50" y1="725.0" x2="525.50" y2="900.5" stroke="#000" stroke-opacity="0.105" stroke-dasharray="4 4" stroke-dashoffset="1"/>
<line x1="577.50" y1="725.0" x2="577.50" y2="900.5" stroke="#000" stroke-opacity="0.105" stroke-dasharray="4 4" stroke-dashoffset="1"/>
<line x1="630.50" y1="725.0" x2="630.50" y2="900.5" stroke="#000" stroke-opacity="0.105" stroke-dasharray="4 4" stroke-dashoffset="1"/>
<line x1="682.50" y1="725.0" x2="682.50" y2="900.5" stroke="#000" stroke-opacity="0.105" stroke-dasharray="4 4" stroke-dashoffset="1"/>
<line x1="735.50" y1="725.0" x2="735.50" y2="900.5" stroke="#000" stroke-opacity="0.105" stroke-dasharray="4 4" stroke-dashoffset="1"/>
<line x1="787.50" y1="725.0" x2="787.50" y2="900.5" stroke="#000" stroke-opacity="0.105" stroke-dasharray="4 4" stroke-dashoffset="1"/>
<line x1="840.50" y1="725.0" x2="840.50" y2="900.5" stroke="#000" stroke-opacity="0.105" stroke-dasharray="4 4" stroke-dashoffset="1"/>
<line x1="892.50" y1="725.0" x2="892.50" y2="900.5" stroke="#000" stroke-opacity="0.105" stroke-dasharray="4 4" stroke-dashoffset="1"/>
<line x1="945.50" y1="725.0" x2="945.50" y2="900.5" stroke="#000" stroke-opacity="0.105" stroke-dasharray="4 4" stroke-dashoffset="1"/>
<line x1="997.50" y1="725.0" x2="997.50" y2="900.5" stroke="#000" stroke-opacity="0.105" stroke-dasharray="4 4" stroke-dashoffset="1"/>
<line x1="1050.50" y1="725.0" x2="1050.50" y2="900.5" stroke="#000" stroke-opacity="0.105" stroke-dasharray="4 4" stroke-dashoffset="1"/>
<line x1="1102.50" y1="725.0" x2="1102.50" y2="900.5" stroke="#000" stroke-opacity="0.105" stroke-dasharray="4 4" stroke-dashoffset="1"/>
<line x1="101.5" y1="875.50" x2="1151.0" y2="875.50" stroke="#000" stroke-opacity="0.105" stroke-dasharray="4 4" stroke-dashoffset="2.5"/>
<line x1="101.5" y1="850.50" x2="1151.0" y2="850.50" stroke="#000" stroke-opacity="0.105" stroke-dasharray="4 4" stroke-dashoffset="2.5"/>
<line x1="101.5" y1="825.50" x2="1151.0" y2="825.50" stroke="#000" stroke-opacity="0.105" stroke-dasharray="4 4" stroke-dashoffset="2.5"/>
<line x1="101.5" y1="800.50" x2="1151.0" y2="800.50" stroke="#000" stroke-opacity="0.105" stroke-dasharray="4 4" stroke-dashoffset="2.5"/>
<line x1="101.5" y1="775.50" x2="1151.0" y2="775.50" stroke="#000" stroke-opacity="0.105" stroke-dasharray="4 4" stroke-dashoffset="2.5"/>
<line x1="101.5" y1="750.50" x2="1151.0" y2="750.50" stroke="#000" stroke-opacity="0.105" stroke-dasharray="4 4" stroke-dashoffset="2.5"/>
<line x1="101.5" y1="725.50" x2="1151.0" y2="725.50" stroke="#000" stroke-opacity="0.105" stroke-dasharray="4 4" stroke-dashoffset="2.5"/>
<rect x="101.0" y="810.00" width="8" height="90.50" fill="#5cff5c"/>
<rect x="112.0" y="798.98" width="8" height="101.52" fill="#ff5c5c"/>
<rect x="122.0" y="834.08" width="8" height="66.42" fill="#5cff5c"/>
<rect x="133.0" y="821.93" width="8" height="78.57" fill="#5cff5c"/>
<rect x="143.0" y="821.93" width="8" height="78.57" fill="#5cff5c"/>
<rect x="154.0" y="814.05" width="8" height="86.45" fill="#5cff5c"/>
<rect x="164.0" y="800.10" width="8" height="100.40" fill="#ff5c5c"/>
<rect x="175.0" y="829.13" width="8" height="71.37" fill="#ff5c5c"/>
<rect x="185.0" y="812.93" width="8" height="87.57" fill="#ff5c5c"/>
<rect x="196.0" y="774.00" width="8" height="126.50" fill="#ff5c5c"/>
<rect x="206.0" y="796.95" width="8" height="103.55" fill="#5cff5c"/>
<rect x="217.0" y="776.93" width="8" height="123.57" fill="#ff5c5c"/>
<rect x="227.0" y="803.93" width="8" height="96.57" fill="#ff5c5c"/>
<rect x="238.0" y="827.10" width="8" height="73.40" fill="#ff5c5c"/>
<rect x="248.0" y="841.05" width="8" height="59.45" fill="#ff5c5c"/>
<rect x="259.0" y="818.10" width="8" height="82.40" fill="#5cff5c"/>
<rect x="269.0" y="825.98" width="8" height="74.52" fill="#5cff5c"/>
<rect x="280.0" y="834.08" width="8" height="66.42" fill="#ff5c5c"/>
<rect x="290.0" y="834.98" width="8" height="65.52" fill="#ff5c5c"/>
<rect x="301.0" y="846.00" width="8" height="54.50" fill="#5cff5c"/>
<rect x="311.0" y="798.98" width="8" height="101.52" fill="#5cff5c"/>
<rect x="322.0" y="765.00" width="8" height="135.50" fill="#5cff5c"/>
<rect x="332.0" y="794.03" width="8" height="106.47" fill="#5cff5c"/>
<rect x="343.0" y="798.98" width="8" height="101.52" fill="#5cff5c"/>
<rect x="353.0" y="789.08" width="8" height="111.42" fill="#ff5c5c"/>
<rect x="364.0" y="821.93" width="8" height="78.57" fill="#5cff5c"/>
<rect x="374.0" y="814.05" width="8" height="86.45" fill="#ff5c5c"/>
<rect x="385.0" y="837.00" width="8" height="63.50" fill="#5cff5c"/>
<rect x="395.0" y="843.08" width="8" height="57.42" fill="#ff5c5c"/>
<rect x="406.0" y="814.05" width="8" height="86.45" fill="#ff5c5c"/>
<rect x="416.0" y="814.95" width="8" height="85.55" fill="#ff5c5c"/>
<rect x="427.0" y="825.98" width="8" height="74.52" fill="#5cff5c"/>
<rect x="437.0" y="834.98" width="8" height="65.52" fill="#5cff5c"/>
<rect x="448.0" y="796.95" width="8" height="103.55" fill="#ff5c5c"/>
<rect x="458.0" y="819.00" width="8" height="81.50" fill="#5cff5c"/>
<rect x="469.0" y="850.95" width="8" height="49.55" fill="#ff5c5c"/>
<rect x="479.0" y="843.08" width="8" height="57.42" fill="#ff5c5c"/>
<rect x="490.0" y="830.03" width="8" height="70.47" fill="#5cff5c"/>
<rect x="500.0" y="805.05" width="8" height="95.45" fill="#5cff5c"/>
<rect x="511.0" y="832.05" width="8" height="68.45" fill="#ff5c5c"/>
<rect x="521.0" y="839.03" width="8" height="61.47" fill="#5cff5c"/>
<rect x="532.0" y="818.10" width="8" height="82.40" fill="#5cff5c"/>
<rect x="542.0" y="809.10" width="8" height="91.40" fill="#5cff5c"/>
<rect x="553.0" y="794.93" width="8" height="105.57" fill="#ff5c5c"/>
<rect x="563.0" y="812.03" width="8" height="88.47" fill="#ff5c5c"/>
<rect x="574.0" y="830.93" width="8" height="69.57" fill="#ff5c5c"/>
<rect x="584.0" y="825.98" width="8" height="74.52" fill="#ff5c5c"/>
<rect x="595.0" y="832.05" width="8" height="68.45" fill="#5cff5c"/>
<rect x="605.0" y="794.03" width="8" height="106.47" fill="#5cff5c"/>
<rect x="616.0" y="767.93" width="8" height="132.57" fill="#5cff5c"/>
<rect x="626.0" y="771.08" width="8" height="129.42" fill="#5cff5c"/>
<rect x="637.0" y="778.95" width="8" height="121.55" fill="#5cff5c"/>
<rect x="647.0" y="771.98" width="8" height="128.52" fill="#ff5c5c"/>
<rect x="658.0" y="819.00" width="8" height="81.50" fill="#5cff5c"/>
<rect x="668.0" y="837.00" width="8" height="63.50" fill="#5cff5c"/>
<rect x="679.0" y="829.13" width="8" height="71.37" fill="#5cff5c"/>
<rect x="689.0" y="829.13" width="8" height="71.37" fill="#5cff5c"/>
<rect x="700.0" y="828.00" width="8" height="72.50" fill="#5cff5c"/>
<rect x="710.0" y="798.98" width="8" height="101.52" fill="#5cff5c"/>
<rect x="721.0" y="837.90" width="8" height="62.60" fill="#5cff5c"/>
<rect x="731.0" y="850.05" width="8" height="50.45" fill="#5cff5c"/>
<rect x="742.0" y="882.00" width="8" height="18.50" fill="#ff5c5c"/>
<rect x="752.0" y="728.10" width="8" height="172.40" fill="#5cff5c"/>
<rect x="763.0" y="774.90" width="8" height="125.60" fill="#5cff5c"/>
<rect x="773.0" y="787.95" width="8" height="112.55" fill="#5cff5c"/>
<rect x="784.0" y="747.00" width="8" height="153.50" fill="#5cff5c"/>
<rect x="794.0" y="800.10" width="8" height="100.40" fill="#5cff5c"/>
<rect x="805.0" y="827.10" width="8" height="73.40" fill="#5cff5c"/>
<rect x="815.0" y="807.98" width="8" height="92.52" fill="#5cff5c"/>
<rect x="826.0" y="783.00" width="8" height="117.50" fill="#5cff5c"/>
<rect x="836.0" y="796.05" width="8" height="104.45" fill="#ff5c5c"/>
<rect x="847.0" y="798.98" width="8" height="101.52" fill="#5cff5c"/>
<rect x="857.0" y="809.10" width="8" height="91.40" fill="#ff5c5c"/>
<rect x="868.0" y="791.10" width="8" height="109.40" fill="#5cff5c"/>
<rect x="878.0" y="814.05" width="8" height="86.45" fill="#5cff5c"/>
<rect x="889.0" y="832.95" width="8" height="67.55" fill="#ff5c5c"/>
<rect x="899.0" y="774.00" width="8" height="126.50" fill="#5cff5c"/>
<rect x="910.0" y="801.00" width="8" height="99.50" fill="#ff5c5c"/>
<rect x="920.0" y="832.95" width="8" height="67.55" fill="#ff5c5c"/>
<rect x="931.0" y="807.98" width="8" height="92.52" fill="#ff5c5c"/>
<rect x="941.0" y="864.00" width="8" height="36.50" fill="#5cff5c"/>
<rect x="952.0" y="839.93" width="8" height="60.57" fill="#ff5c5c"/>
<rect x="962.0" y="839.93" width="8" height="60.57" fill="#5cff5c"/>
<rect x="973.0" y="823.05" width="8" height="77.45" fill="#ff5c5c"/>
<rect x="983.0" y="796.95" width="8" height="103.55" fill="#5cff5c"/>
<rect x="994.0" y="782.10" width="8" height="118.40" fill="#5cff5c"/>
<rect x="1004.0" y="828.00" width="8" height="72.50" fill="#ff5c5c"/>
<rect x="1015.0" y="794.03" width="8" height="106.47" fill="#ff5c5c"/>
<rect x="1025.0" y="848.93" width="8" height="51.57" fill="#5cff5c"/>
<rect x="1036.0" y="836.10" width="8" height="64.40" fill="#ff5c5c"/>
<rect x="1046.0" y="832.05" width="8" height="68.45" fill="#ff5c5c"/>
<rect x="1057.0" y="834.08" width="8" height="66.42" fill="#ff5c5c"/>
<rect x="1067.0" y="839.93" width="8" height="60.57" fill="#5cff5c"/>
<rect x="1078.0" y="830.03" width="8" height="70.47" fill="#5cff5c"/>
<rect x="1088.0" y="859.05" width="8" height="41.45" fill="#ff5c5c"/>
<rect x="1099.0" y="825.98" width="8" height="74.52" fill="#ff5c5c"/>
<rect x="1109.0" y="832.95" width="8" height="67.55" fill="#ff5c5c"/>
<rect x="1120.0" y="825.08" width="8" height="75.42" fill="#5cff5c"/>
<rect x="1130.0" y="823.05" width="8" height="77.45" fill="#5cff5c"/>
<rect x="1141.0" y="855.00" width="8" height="45.50" fill="#5cff5c"/>
<line x1="100.5" y1="716.5" x2="100.5" y2="900.5" stroke="#222" stroke-width="1"/>
<path d="M100.5 713.5 L96.9 720.0 L104.1 720.0 Z" fill="#000"/>
<line x1="100.0" y1="900.5" x2="1158" y2="900.5" stroke="#000" stroke-width="1"/>
<path d="M1163 900.5 L1155.5 897.0 L1155.5 904.0 Z" fill="#000"/>
<line x1="98.0" y1="900.50" x2="103.0" y2="900.50" stroke="#000"/>
<line x1="98.0" y1="887.50" x2="100.5" y2="887.50" stroke="#f00"/>
<text x="98.2" y="905.0" font-size="11.3" text-anchor="end"  textLength="24.6" lengthAdjust="spacingAndGlyphs">0.00</text>
<line x1="98.0" y1="875.50" x2="103.0" y2="875.50" stroke="#000"/>
<line x1="98.0" y1="862.50" x2="100.5" y2="862.50" stroke="#f00"/>
<text x="98.2" y="877.7" font-size="11.3" text-anchor="end"  textLength="55.6" lengthAdjust="spacingAndGlyphs">20,000.00</text>
<line x1="98.0" y1="850.50" x2="103.0" y2="850.50" stroke="#000"/>
<line x1="98.0" y1="837.50" x2="100.5" y2="837.50" stroke="#f00"/>
<text x="98.2" y="852.7" font-size="11.3" text-anchor="end"  textLength="55.6" lengthAdjust="spacingAndGlyphs">40,000.00</text>
<line x1="98.0" y1="825.50" x2="103.0" y2="825.50" stroke="#000"/>
<line x1="98.0" y1="812.50" x2="100.5" y2="812.50" stroke="#f00"/>
<text x="98.2" y="827.7" font-size="11.3" text-anchor="end"  textLength="55.6" lengthAdjust="spacingAndGlyphs">60,000.00</text>
<line x1="98.0" y1="800.50" x2="103.0" y2="800.50" stroke="#000"/>
<line x1="98.0" y1="787.50" x2="100.5" y2="787.50" stroke="#f00"/>
<text x="98.2" y="802.7" font-size="11.3" text-anchor="end"  textLength="55.6" lengthAdjust="spacingAndGlyphs">80,000.00</text>
<line x1="98.0" y1="775.50" x2="103.0" y2="775.50" stroke="#000"/>
<line x1="98.0" y1="762.50" x2="100.5" y2="762.50" stroke="#f00"/>
<text x="98.2" y="777.7" font-size="11.3" text-anchor="end"  textLength="62.4" lengthAdjust="spacingAndGlyphs">100,000.00</text>
<line x1="98.0" y1="750.50" x2="103.0" y2="750.50" stroke="#000"/>
<line x1="98.0" y1="737.50" x2="100.5" y2="737.50" stroke="#f00"/>
<text x="98.2" y="752.7" font-size="11.3" text-anchor="end"  textLength="62.4" lengthAdjust="spacingAndGlyphs">120,000.00</text>
<line x1="98.0" y1="725.50" x2="103.0" y2="725.50" stroke="#000"/>
<text x="98.2" y="727.7" font-size="11.3" text-anchor="end"  textLength="62.4" lengthAdjust="spacingAndGlyphs">140,000.00</text>
<line x1="115.50" y1="900.5" x2="115.50" y2="903.5" stroke="#ccc"/>
<line x1="126.50" y1="900.5" x2="126.50" y2="903.5" stroke="#ccc"/>
<line x1="136.50" y1="900.5" x2="136.50" y2="903.5" stroke="#ccc"/>
<line x1="147.50" y1="900.5" x2="147.50" y2="903.5" stroke="#ccc"/>
<line x1="168.50" y1="900.5" x2="168.50" y2="903.5" stroke="#ccc"/>
<line x1="178.50" y1="900.5" x2="178.50" y2="903.5" stroke="#ccc"/>
<line x1="189.50" y1="900.5" x2="189.50" y2="903.5" stroke="#ccc"/>
<line x1="199.50" y1="900.5" x2="199.50" y2="903.5" stroke="#ccc"/>
<line x1="220.50" y1="900.5" x2="220.50" y2="903.5" stroke="#ccc"/>
<line x1="231.50" y1="900.5" x2="231.50" y2="903.5" stroke="#ccc"/>
<line x1="241.50" y1="900.5" x2="241.50" y2="903.5" stroke="#ccc"/>
<line x1="252.50" y1="900.5" x2="252.50" y2="903.5" stroke="#ccc"/>
<line x1="273.50" y1="900.5" x2="273.50" y2="903.5" stroke="#ccc"/>
<line x1="283.50" y1="900.5" x2="283.50" y2="903.5" stroke="#ccc"/>
<line x1="294.50" y1="900.5" x2="294.50" y2="903.5" stroke="#ccc"/>
<line x1="304.50" y1="900.5" x2="304.50" y2="903.5" stroke="#ccc"/>
<line x1="325.50" y1="900.5" x2="325.50" y2="903.5" stroke="#ccc"/>
<line x1="336.50" y1="900.5" x2="336.50" y2="903.5" stroke="#ccc"/>
<line x1="346.50" y1="900.5" x2="346.50" y2="903.5" stroke="#ccc"/>
<line x1="357.50" y1="900.5" x2="357.50" y2="903.5" stroke="#ccc"/>
<line x1="378.50" y1="900.5" x2="378.50" y2="903.5" stroke="#ccc"/>
<line x1="388.50" y1="900.5" x2="388.50" y2="903.5" stroke="#ccc"/>
<line x1="399.50" y1="900.5" x2="399.50" y2="903.5" stroke="#ccc"/>
<line x1="409.50" y1="900.5" x2="409.50" y2="903.5" stroke="#ccc"/>
<line x1="430.50" y1="900.5" x2="430.50" y2="903.5" stroke="#ccc"/>
<line x1="441.50" y1="900.5" x2="441.50" y2="903.5" stroke="#ccc"/>
<line x1="451.50" y1="900.5" x2="451.50" y2="903.5" stroke="#ccc"/>
<line x1="462.50" y1="900.5" x2="462.50" y2="903.5" stroke="#ccc"/>
<line x1="483.50" y1="900.5" x2="483.50" y2="903.5" stroke="#ccc"/>
<line x1="493.50" y1="900.5" x2="493.50" y2="903.5" stroke="#ccc"/>
<line x1="504.50" y1="900.5" x2="504.50" y2="903.5" stroke="#ccc"/>
<line x1="514.50" y1="900.5" x2="514.50" y2="903.5" stroke="#ccc"/>
<line x1="535.50" y1="900.5" x2="535.50" y2="903.5" stroke="#ccc"/>
<line x1="546.50" y1="900.5" x2="546.50" y2="903.5" stroke="#ccc"/>
<line x1="556.50" y1="900.5" x2="556.50" y2="903.5" stroke="#ccc"/>
<line x1="567.50" y1="900.5" x2="567.50" y2="903.5" stroke="#ccc"/>
<line x1="588.50" y1="900.5" x2="588.50" y2="903.5" stroke="#ccc"/>
<line x1="598.50" y1="900.5" x2="598.50" y2="903.5" stroke="#ccc"/>
<line x1="609.50" y1="900.5" x2="609.50" y2="903.5" stroke="#ccc"/>
<line x1="619.50" y1="900.5" x2="619.50" y2="903.5" stroke="#ccc"/>
<line x1="640.50" y1="900.5" x2="640.50" y2="903.5" stroke="#ccc"/>
<line x1="651.50" y1="900.5" x2="651.50" y2="903.5" stroke="#ccc"/>
<line x1="661.50" y1="900.5" x2="661.50" y2="903.5" stroke="#ccc"/>
<line x1="672.50" y1="900.5" x2="672.50" y2="903.5" stroke="#ccc"/>
<line x1="693.50" y1="900.5" x2="693.50" y2="903.5" stroke="#ccc"/>
<line x1="703.50" y1="900.5" x2="703.50" y2="903.5" stroke="#ccc"/>
<line x1="714.50" y1="900.5" x2="714.50" y2="903.5" stroke="#ccc"/>
<line x1="724.50" y1="900.5" x2="724.50" y2="903.5" stroke="#ccc"/>
<line x1="745.50" y1="900.5" x2="745.50" y2="903.5" stroke="#ccc"/>
<line x1="756.50" y1="900.5" x2="756.50" y2="903.5" stroke="#ccc"/>
<line x1="766.50" y1="900.5" x2="766.50" y2="903.5" stroke="#ccc"/>
<line x1="777.50" y1="900.5" x2="777.50" y2="903.5" stroke="#ccc"/>
<line x1="798.50" y1="900.5" x2="798.50" y2="903.5" stroke="#ccc"/>
<line x1="808.50" y1="900.5" x2="808.50" y2="903.5" stroke="#ccc"/>
<line x1="819.50" y1="900.5" x2="819.50" y2="903.5" stroke="#ccc"/>
<line x1="829.50" y1="900.5" x2="829.50" y2="903.5" stroke="#ccc"/>
<line x1="850.50" y1="900.5" x2="850.50" y2="903.5" stroke="#ccc"/>
<line x1="861.50" y1="900.5" x2="861.50" y2="903.5" stroke="#ccc"/>
<line x1="871.50" y1="900.5" x2="871.50" y2="903.5" stroke="#ccc"/>
<line x1="882.50" y1="900.5" x2="882.50" y2="903.5" stroke="#ccc"/>
<line x1="903.50" y1="900.5" x2="903.50" y2="903.5" stroke="#ccc"/>
<line x1="913.50" y1="900.5" x2="913.50" y2="903.5" stroke="#ccc"/>
<line x1="924.50" y1="900.5" x2="924.50" y2="903.5" stroke="#ccc"/>
<line x1="934.50" y1="900.5" x2="934.50" y2="903.5" stroke="#ccc"/>
<line x1="955.50" y1="900.5" x2="955.50" y2="903.5" stroke="#ccc"/>
<line x1="966.50" y1="900.5" x2="966.50" y2="903.5" stroke="#ccc"/>
<line x1="976.50" y1="900.5" x2="976.50" y2="903.5" stroke="#ccc"/>
<line x1="987.50" y1="900.5" x2="987.50" y2="903.5" stroke="#ccc"/>
<line x1="1008.50" y1="900.5" x2="1008.50" y2="903.5" stroke="#ccc"/>
<line x1="1018.50" y1="900.5" x2="1018.50" y2="903.5" stroke="#ccc"/>
<line x1="1029.50" y1="900.5" x2="1029.50" y2="903.5" stroke="#ccc"/>
<line x1="1039.50" y1="900.5" x2="1039.50" y2="903.5" stroke="#ccc"/>
<line x1="1060.50" y1="900.5" x2="1060.50" y2="903.5" stroke="#ccc"/>
<line x1="1071.50" y1="900.5" x2="1071.50" y2="903.5" stroke="#ccc"/>
<line x1="1081.50" y1="900.5" x2="1081.50" y2="903.5" stroke="#ccc"/>
<line x1="1092.50" y1="900.5" x2="1092.50" y2="903.5" stroke="#ccc"/>
<line x1="1113.50" y1="900.5" x2="1113.50" y2="903.5" stroke="#ccc"/>
<line x1="1123.50" y1="900.5" x2="1123.50" y2="903.5" stroke="#ccc"/>
<line x1="1134.50" y1="900.5" x2="1134.50" y2="903.5" stroke="#ccc"/>
<line x1="1144.50" y1="900.5" x2="1144.50" y2="903.5" stroke="#ccc"/>
<line x1="105.50" y1="897.5" x2="105.50" y2="904.0" stroke="#000"/>
<text x="106.7" y="912.7" font-size="11.3" text-anchor="middle"  textLength="48.7" lengthAdjust="spacingAndGlyphs">1er Sept</text>
<line x1="157.50" y1="897.5" x2="157.50" y2="904.0" stroke="#000"/>
<text x="158.7" y="912.7" font-size="11.3" text-anchor="middle"  textLength="36.3" lengthAdjust="spacingAndGlyphs">8 Sept</text>
<line x1="210.50" y1="897.5" x2="210.50" y2="904.0" stroke="#000"/>
<text x="211.7" y="912.7" font-size="11.3" text-anchor="middle"  textLength="43.8" lengthAdjust="spacingAndGlyphs">15 Sept</text>
<line x1="262.50" y1="897.5" x2="262.50" y2="904.0" stroke="#000"/>
<text x="263.7" y="912.7" font-size="11.3" text-anchor="middle"  textLength="43.8" lengthAdjust="spacingAndGlyphs">22 Sept</text>
<line x1="315.50" y1="897.5" x2="315.50" y2="904.0" stroke="#000"/>
<text x="316.7" y="912.7" font-size="11.3" text-anchor="middle"  textLength="43.8" lengthAdjust="spacingAndGlyphs">29 Sept</text>
<line x1="367.50" y1="897.5" x2="367.50" y2="904.0" stroke="#000"/>
<text x="368.7" y="912.7" font-size="11.3" text-anchor="middle"  textLength="30.0" lengthAdjust="spacingAndGlyphs">6 Oct</text>
<line x1="420.50" y1="897.5" x2="420.50" y2="904.0" stroke="#000"/>
<text x="421.7" y="912.7" font-size="11.3" text-anchor="middle"  textLength="37.5" lengthAdjust="spacingAndGlyphs">13 Oct</text>
<line x1="472.50" y1="897.5" x2="472.50" y2="904.0" stroke="#000"/>
<text x="473.7" y="912.7" font-size="11.3" text-anchor="middle"  textLength="37.5" lengthAdjust="spacingAndGlyphs">20 Oct</text>
<line x1="525.50" y1="897.5" x2="525.50" y2="904.0" stroke="#000"/>
<text x="526.7" y="912.7" font-size="11.3" text-anchor="middle"  textLength="37.5" lengthAdjust="spacingAndGlyphs">27 Oct</text>
<line x1="577.50" y1="897.5" x2="577.50" y2="904.0" stroke="#000"/>
<text x="578.7" y="912.7" font-size="11.3" text-anchor="middle"  textLength="32.0" lengthAdjust="spacingAndGlyphs">3 Nov</text>
<line x1="630.50" y1="897.5" x2="630.50" y2="904.0" stroke="#000"/>
<text x="631.7" y="912.7" font-size="11.3" text-anchor="middle"  textLength="39.5" lengthAdjust="spacingAndGlyphs">10 Nov</text>
<line x1="682.50" y1="897.5" x2="682.50" y2="904.0" stroke="#000"/>
<text x="683.7" y="912.7" font-size="11.3" text-anchor="middle"  textLength="39.5" lengthAdjust="spacingAndGlyphs">17 Nov</text>
<line x1="735.50" y1="897.5" x2="735.50" y2="904.0" stroke="#000"/>
<text x="736.7" y="912.7" font-size="11.3" text-anchor="middle"  textLength="39.5" lengthAdjust="spacingAndGlyphs">24 Nov</text>
<line x1="787.50" y1="897.5" x2="787.50" y2="904.0" stroke="#000"/>
<text x="788.7" y="913.8" font-size="11.3" text-anchor="middle"  textLength="33.0" lengthAdjust="spacingAndGlyphs">5 Déc</text>
<line x1="840.50" y1="897.5" x2="840.50" y2="904.0" stroke="#000"/>
<text x="841.7" y="913.8" font-size="11.3" text-anchor="middle"  textLength="40.5" lengthAdjust="spacingAndGlyphs">12 Déc</text>
<line x1="892.50" y1="897.5" x2="892.50" y2="904.0" stroke="#000"/>
<text x="893.7" y="913.8" font-size="11.3" text-anchor="middle"  textLength="40.5" lengthAdjust="spacingAndGlyphs">19 Déc</text>
<line x1="945.50" y1="897.5" x2="945.50" y2="904.0" stroke="#000"/>
<text x="946.7" y="913.8" font-size="11.3" text-anchor="middle"  textLength="40.5" lengthAdjust="spacingAndGlyphs">27 Déc</text>
<line x1="997.50" y1="897.5" x2="997.50" y2="904.0" stroke="#000"/>
<text x="998.7" y="912.7" font-size="11.3" text-anchor="middle"  textLength="35.0" lengthAdjust="spacingAndGlyphs">3 Janv</text>
<line x1="1050.50" y1="897.5" x2="1050.50" y2="904.0" stroke="#000"/>
<text x="1051.7" y="912.7" font-size="11.3" text-anchor="middle"  textLength="42.6" lengthAdjust="spacingAndGlyphs">10 Janv</text>
<line x1="1102.50" y1="897.5" x2="1102.50" y2="904.0" stroke="#000"/>
<text x="1103.7" y="912.7" font-size="11.3" text-anchor="middle"  textLength="42.6" lengthAdjust="spacingAndGlyphs">17 Janv</text>
<text x="627.0" y="927.2" font-size="11.3" text-anchor="middle"  textLength="289.5" lengthAdjust="spacingAndGlyphs">Date (du 1er Septembre 2016 au 23 Janvier 2017)</text>
<text transform="translate(33.2,810.8) rotate(-90)" font-size="11.3" text-anchor="middle" textLength="41.8" lengthAdjust="spacingAndGlyphs">Volume</text>
<text x="112.5" y="695.0" font-size="24" text-anchor="start"  textLength="374.5" lengthAdjust="spacingAndGlyphs">Wendel: graphique du volume -</text>
<text x="495.5" y="695.0" font-size="24" text-anchor="start"  textLength="207.5" lengthAdjust="spacingAndGlyphs">AnalyBourse.com</text>
<rect x="101.0" y="1131.00" width="1050.0" height="35.00" fill="#f9f9f9"/>
<rect x="101.0" y="1061.00" width="1050.0" height="35.00" fill="#f9f9f9"/>
<line x1="115.50" y1="1025.0" x2="115.50" y2="1200.5" stroke="#000" stroke-opacity="0.033" stroke-dasharray="6 6" stroke-dashoffset="1"/>
<line x1="126.50" y1="1025.0" x2="126.50" y2="1200.5" stroke="#000" stroke-opacity="0.033" stroke-dasharray="6 6" stroke-dashoffset="1"/>
<line x1="136.50" y1="1025.0" x2="136.50" y2="1200.5" stroke="#000" stroke-opacity="0.033" stroke-dasharray="6 6" stroke-dashoffset="1"/>
<line x1="147.50" y1="1025.0" x2="147.50" y2="1200.5" stroke="#000" stroke-opacity="0.033" stroke-dasharray="6 6" stroke-dashoffset="1"/>
<line x1="168.50" y1="1025.0" x2="168.50" y2="1200.5" stroke="#000" stroke-opacity="0.033" stroke-dasharray="6 6" stroke-dashoffset="1"/>
<line x1="178.50" y1="1025.0" x2="178.50" y2="1200.5" stroke="#000" stroke-opacity="0.033" stroke-dasharray="6 6" stroke-dashoffset="1"/>
<line x1="189.50" y1="1025.0" x2="189.50" y2="1200.5" stroke="#000" stroke-opacity="0.033" stroke-dasharray="6 6" stroke-dashoffset="1"/>
<line x1="199.50" y1="1025.0" x2="199.50" y2="1200.5" stroke="#000" stroke-opacity="0.033" stroke-dasharray="6 6" stroke-dashoffset="1"/>
<line x1="220.50" y1="1025.0" x2="220.50" y2="1200.5" stroke="#000" stroke-opacity="0.033" stroke-dasharray="6 6" stroke-dashoffset="1"/>
<line x1="231.50" y1="1025.0" x2="231.50" y2="1200.5" stroke="#000" stroke-opacity="0.033" stroke-dasharray="6 6" stroke-dashoffset="1"/>
<line x1="241.50" y1="1025.0" x2="241.50" y2="1200.5" stroke="#000" stroke-opacity="0.033" stroke-dasharray="6 6" stroke-dashoffset="1"/>
<line x1="252.50" y1="1025.0" x2="252.50" y2="1200.5" stroke="#000" stroke-opacity="0.033" stroke-dasharray="6 6" stroke-dashoffset="1"/>
<line x1="273.50" y1="1025.0" x2="273.50" y2="1200.5" stroke="#000" stroke-opacity="0.033" stroke-dasharray="6 6" stroke-dashoffset="1"/>
<line x1="283.50" y1="1025.0" x2="283.50" y2="1200.5" stroke="#000" stroke-opacity="0.033" stroke-dasharray="6 6" stroke-dashoffset="1"/>
<line x1="294.50" y1="1025.0" x2="294.50" y2="1200.5" stroke="#000" stroke-opacity="0.033" stroke-dasharray="6 6" stroke-dashoffset="1"/>
<line x1="304.50" y1="1025.0" x2="304.50" y2="1200.5" stroke="#000" stroke-opacity="0.033" stroke-dasharray="6 6" stroke-dashoffset="1"/>
<line x1="325.50" y1="1025.0" x2="325.50" y2="1200.5" stroke="#000" stroke-opacity="0.033" stroke-dasharray="6 6" stroke-dashoffset="1"/>
<line x1="336.50" y1="1025.0" x2="336.50" y2="1200.5" stroke="#000" stroke-opacity="0.033" stroke-dasharray="6 6" stroke-dashoffset="1"/>
<line x1="346.50" y1="1025.0" x2="346.50" y2="1200.5" stroke="#000" stroke-opacity="0.033" stroke-dasharray="6 6" stroke-dashoffset="1"/>
<line x1="357.50" y1="1025.0" x2="357.50" y2="1200.5" stroke="#000" stroke-opacity="0.033" stroke-dasharray="6 6" stroke-dashoffset="1"/>
<line x1="378.50" y1="1025.0" x2="378.50" y2="1200.5" stroke="#000" stroke-opacity="0.033" stroke-dasharray="6 6" stroke-dashoffset="1"/>
<line x1="388.50" y1="1025.0" x2="388.50" y2="1200.5" stroke="#000" stroke-opacity="0.033" stroke-dasharray="6 6" stroke-dashoffset="1"/>
<line x1="399.50" y1="1025.0" x2="399.50" y2="1200.5" stroke="#000" stroke-opacity="0.033" stroke-dasharray="6 6" stroke-dashoffset="1"/>
<line x1="409.50" y1="1025.0" x2="409.50" y2="1200.5" stroke="#000" stroke-opacity="0.033" stroke-dasharray="6 6" stroke-dashoffset="1"/>
<line x1="430.50" y1="1025.0" x2="430.50" y2="1200.5" stroke="#000" stroke-opacity="0.033" stroke-dasharray="6 6" stroke-dashoffset="1"/>
<line x1="441.50" y1="1025.0" x2="441.50" y2="1200.5" stroke="#000" stroke-opacity="0.033" stroke-dasharray="6 6" stroke-dashoffset="1"/>
<line x1="451.50" y1="1025.0" x2="451.50" y2="1200.5" stroke="#000" stroke-opacity="0.033" stroke-dasharray="6 6" stroke-dashoffset="1"/>
<line x1="462.50" y1="1025.0" x2="462.50" y2="1200.5" stroke="#000" stroke-opacity="0.033" stroke-dasharray="6 6" stroke-dashoffset="1"/>
<line x1="483.50" y1="1025.0" x2="483.50" y2="1200.5" stroke="#000" stroke-opacity="0.033" stroke-dasharray="6 6" stroke-dashoffset="1"/>
<line x1="493.50" y1="1025.0" x2="493.50" y2="1200.5" stroke="#000" stroke-opacity="0.033" stroke-dasharray="6 6" stroke-dashoffset="1"/>
<line x1="504.50" y1="1025.0" x2="504.50" y2="1200.5" stroke="#000" stroke-opacity="0.033" stroke-dasharray="6 6" stroke-dashoffset="1"/>
<line x1="514.50" y1="1025.0" x2="514.50" y2="1200.5" stroke="#000" stroke-opacity="0.033" stroke-dasharray="6 6" stroke-dashoffset="1"/>
<line x1="535.50" y1="1025.0" x2="535.50" y2="1200.5" stroke="#000" stroke-opacity="0.033" stroke-dasharray="6 6" stroke-dashoffset="1"/>
<line x1="546.50" y1="1025.0" x2="546.50" y2="1200.5" stroke="#000" stroke-opacity="0.033" stroke-dasharray="6 6" stroke-dashoffset="1"/>
<line x1="556.50" y1="1025.0" x2="556.50" y2="1200.5" stroke="#000" stroke-opacity="0.033" stroke-dasharray="6 6" stroke-dashoffset="1"/>
<line x1="567.50" y1="1025.0" x2="567.50" y2="1200.5" stroke="#000" stroke-opacity="0.033" stroke-dasharray="6 6" stroke-dashoffset="1"/>
<line x1="588.50" y1="1025.0" x2="588.50" y2="1200.5" stroke="#000" stroke-opacity="0.033" stroke-dasharray="6 6" stroke-dashoffset="1"/>
<line x1="598.50" y1="1025.0" x2="598.50" y2="1200.5" stroke="#000" stroke-opacity="0.033" stroke-dasharray="6 6" stroke-dashoffset="1"/>
<line x1="609.50" y1="1025.0" x2="609.50" y2="1200.5" stroke="#000" stroke-opacity="0.033" stroke-dasharray="6 6" stroke-dashoffset="1"/>
<line x1="619.50" y1="1025.0" x2="619.50" y2="1200.5" stroke="#000" stroke-opacity="0.033" stroke-dasharray="6 6" stroke-dashoffset="1"/>
<line x1="640.50" y1="1025.0" x2="640.50" y2="1200.5" stroke="#000" stroke-opacity="0.033" stroke-dasharray="6 6" stroke-dashoffset="1"/>
<line x1="651.50" y1="1025.0" x2="651.50" y2="1200.5" stroke="#000" stroke-opacity="0.033" stroke-dasharray="6 6" stroke-dashoffset="1"/>
<line x1="661.50" y1="1025.0" x2="661.50" y2="1200.5" stroke="#000" stroke-opacity="0.033" stroke-dasharray="6 6" stroke-dashoffset="1"/>
<line x1="672.50" y1="1025.0" x2="672.50" y2="1200.5" stroke="#000" stroke-opacity="0.033" stroke-dasharray="6 6" stroke-dashoffset="1"/>
<line x1="693.50" y1="1025.0" x2="693.50" y2="1200.5" stroke="#000" stroke-opacity="0.033" stroke-dasharray="6 6" stroke-dashoffset="1"/>
<line x1="703.50" y1="1025.0" x2="703.50" y2="1200.5" stroke="#000" stroke-opacity="0.033" stroke-dasharray="6 6" stroke-dashoffset="1"/>
<line x1="714.50" y1="1025.0" x2="714.50" y2="1200.5" stroke="#000" stroke-opacity="0.033" stroke-dasharray="6 6" stroke-dashoffset="1"/>
<line x1="724.50" y1="1025.0" x2="724.50" y2="1200.5" stroke="#000" stroke-opacity="0.033" stroke-dasharray="6 6" stroke-dashoffset="1"/>
<line x1="745.50" y1="1025.0" x2="745.50" y2="1200.5" stroke="#000" stroke-opacity="0.033" stroke-dasharray="6 6" stroke-dashoffset="1"/>
<line x1="756.50" y1="1025.0" x2="756.50" y2="1200.5" stroke="#000" stroke-opacity="0.033" stroke-dasharray="6 6" stroke-dashoffset="1"/>
<line x1="766.50" y1="1025.0" x2="766.50" y2="1200.5" stroke="#000" stroke-opacity="0.033" stroke-dasharray="6 6" stroke-dashoffset="1"/>
<line x1="777.50" y1="1025.0" x2="777.50" y2="1200.5" stroke="#000" stroke-opacity="0.033" stroke-dasharray="6 6" stroke-dashoffset="1"/>
<line x1="798.50" y1="1025.0" x2="798.50" y2="1200.5" stroke="#000" stroke-opacity="0.033" stroke-dasharray="6 6" stroke-dashoffset="1"/>
<line x1="808.50" y1="1025.0" x2="808.50" y2="1200.5" stroke="#000" stroke-opacity="0.033" stroke-dasharray="6 6" stroke-dashoffset="1"/>
<line x1="819.50" y1="1025.0" x2="819.50" y2="1200.5" stroke="#000" stroke-opacity="0.033" stroke-dasharray="6 6" stroke-dashoffset="1"/>
<line x1="829.50" y1="1025.0" x2="829.50" y2="1200.5" stroke="#000" stroke-opacity="0.033" stroke-dasharray="6 6" stroke-dashoffset="1"/>
<line x1="850.50" y1="1025.0" x2="850.50" y2="1200.5" stroke="#000" stroke-opacity="0.033" stroke-dasharray="6 6" stroke-dashoffset="1"/>
<line x1="861.50" y1="1025.0" x2="861.50" y2="1200.5" stroke="#000" stroke-opacity="0.033" stroke-dasharray="6 6" stroke-dashoffset="1"/>
<line x1="871.50" y1="1025.0" x2="871.50" y2="1200.5" stroke="#000" stroke-opacity="0.033" stroke-dasharray="6 6" stroke-dashoffset="1"/>
<line x1="882.50" y1="1025.0" x2="882.50" y2="1200.5" stroke="#000" stroke-opacity="0.033" stroke-dasharray="6 6" stroke-dashoffset="1"/>
<line x1="903.50" y1="1025.0" x2="903.50" y2="1200.5" stroke="#000" stroke-opacity="0.033" stroke-dasharray="6 6" stroke-dashoffset="1"/>
<line x1="913.50" y1="1025.0" x2="913.50" y2="1200.5" stroke="#000" stroke-opacity="0.033" stroke-dasharray="6 6" stroke-dashoffset="1"/>
<line x1="924.50" y1="1025.0" x2="924.50" y2="1200.5" stroke="#000" stroke-opacity="0.033" stroke-dasharray="6 6" stroke-dashoffset="1"/>
<line x1="934.50" y1="1025.0" x2="934.50" y2="1200.5" stroke="#000" stroke-opacity="0.033" stroke-dasharray="6 6" stroke-dashoffset="1"/>
<line x1="955.50" y1="1025.0" x2="955.50" y2="1200.5" stroke="#000" stroke-opacity="0.033" stroke-dasharray="6 6" stroke-dashoffset="1"/>
<line x1="966.50" y1="1025.0" x2="966.50" y2="1200.5" stroke="#000" stroke-opacity="0.033" stroke-dasharray="6 6" stroke-dashoffset="1"/>
<line x1="976.50" y1="1025.0" x2="976.50" y2="1200.5" stroke="#000" stroke-opacity="0.033" stroke-dasharray="6 6" stroke-dashoffset="1"/>
<line x1="987.50" y1="1025.0" x2="987.50" y2="1200.5" stroke="#000" stroke-opacity="0.033" stroke-dasharray="6 6" stroke-dashoffset="1"/>
<line x1="1008.50" y1="1025.0" x2="1008.50" y2="1200.5" stroke="#000" stroke-opacity="0.033" stroke-dasharray="6 6" stroke-dashoffset="1"/>
<line x1="1018.50" y1="1025.0" x2="1018.50" y2="1200.5" stroke="#000" stroke-opacity="0.033" stroke-dasharray="6 6" stroke-dashoffset="1"/>
<line x1="1029.50" y1="1025.0" x2="1029.50" y2="1200.5" stroke="#000" stroke-opacity="0.033" stroke-dasharray="6 6" stroke-dashoffset="1"/>
<line x1="1039.50" y1="1025.0" x2="1039.50" y2="1200.5" stroke="#000" stroke-opacity="0.033" stroke-dasharray="6 6" stroke-dashoffset="1"/>
<line x1="1060.50" y1="1025.0" x2="1060.50" y2="1200.5" stroke="#000" stroke-opacity="0.033" stroke-dasharray="6 6" stroke-dashoffset="1"/>
<line x1="1071.50" y1="1025.0" x2="1071.50" y2="1200.5" stroke="#000" stroke-opacity="0.033" stroke-dasharray="6 6" stroke-dashoffset="1"/>
<line x1="1081.50" y1="1025.0" x2="1081.50" y2="1200.5" stroke="#000" stroke-opacity="0.033" stroke-dasharray="6 6" stroke-dashoffset="1"/>
<line x1="1092.50" y1="1025.0" x2="1092.50" y2="1200.5" stroke="#000" stroke-opacity="0.033" stroke-dasharray="6 6" stroke-dashoffset="1"/>
<line x1="1113.50" y1="1025.0" x2="1113.50" y2="1200.5" stroke="#000" stroke-opacity="0.033" stroke-dasharray="6 6" stroke-dashoffset="1"/>
<line x1="1123.50" y1="1025.0" x2="1123.50" y2="1200.5" stroke="#000" stroke-opacity="0.033" stroke-dasharray="6 6" stroke-dashoffset="1"/>
<line x1="1134.50" y1="1025.0" x2="1134.50" y2="1200.5" stroke="#000" stroke-opacity="0.033" stroke-dasharray="6 6" stroke-dashoffset="1"/>
<line x1="1144.50" y1="1025.0" x2="1144.50" y2="1200.5" stroke="#000" stroke-opacity="0.033" stroke-dasharray="6 6" stroke-dashoffset="1"/>
<line x1="105.50" y1="1025.0" x2="105.50" y2="1200.5" stroke="#000" stroke-opacity="0.105" stroke-dasharray="4 4" stroke-dashoffset="1"/>
<line x1="157.50" y1="1025.0" x2="157.50" y2="1200.5" stroke="#000" stroke-opacity="0.105" stroke-dasharray="4 4" stroke-dashoffset="1"/>
<line x1="210.50" y1="1025.0" x2="210.50" y2="1200.5" stroke="#000" stroke-opacity="0.105" stroke-dasharray="4 4" stroke-dashoffset="1"/>
<line x1="262.50" y1="1025.0" x2="262.50" y2="1200.5" stroke="#000" stroke-opacity="0.105" stroke-dasharray="4 4" stroke-dashoffset="1"/>
<line x1="315.50" y1="1025.0" x2="315.50" y2="1200.5" stroke="#000" stroke-opacity="0.105" stroke-dasharray="4 4" stroke-dashoffset="1"/>
<line x1="367.50" y1="1025.0" x2="367.50" y2="1200.5" stroke="#000" stroke-opacity="0.105" stroke-dasharray="4 4" stroke-dashoffset="1"/>
<line x1="420.50" y1="1025.0" x2="420.50" y2="1200.5" stroke="#000" stroke-opacity="0.105" stroke-dasharray="4 4" stroke-dashoffset="1"/>
<line x1="472.50" y1="1025.0" x2="472.50" y2="1200.5" stroke="#000" stroke-opacity="0.105" stroke-dasharray="4 4" stroke-dashoffset="1"/>
<line x1="525.50" y1="1025.0" x2="525.50" y2="1200.5" stroke="#000" stroke-opacity="0.105" stroke-dasharray="4 4" stroke-dashoffset="1"/>
<line x1="577.50" y1="1025.0" x2="577.50" y2="1200.5" stroke="#000" stroke-opacity="0.105" stroke-dasharray="4 4" stroke-dashoffset="1"/>
<line x1="630.50" y1="1025.0" x2="630.50" y2="1200.5" stroke="#000" stroke-opacity="0.105" stroke-dasharray="4 4" stroke-dashoffset="1"/>
<line x1="682.50" y1="1025.0" x2="682.50" y2="1200.5" stroke="#000" stroke-opacity="0.105" stroke-dasharray="4 4" stroke-dashoffset="1"/>
<line x1="735.50" y1="1025.0" x2="735.50" y2="1200.5" stroke="#000" stroke-opacity="0.105" stroke-dasharray="4 4" stroke-dashoffset="1"/>
<line x1="787.50" y1="1025.0" x2="787.50" y2="1200.5" stroke="#000" stroke-opacity="0.105" stroke-dasharray="4 4" stroke-dashoffset="1"/>
<line x1="840.50" y1="1025.0" x2="840.50" y2="1200.5" stroke="#000" stroke-opacity="0.105" stroke-dasharray="4 4" stroke-dashoffset="1"/>
<line x1="892.50" y1="1025.0" x2="892.50" y2="1200.5" stroke="#000" stroke-opacity="0.105" stroke-dasharray="4 4" stroke-dashoffset="1"/>
<line x1="945.50" y1="1025.0" x2="945.50" y2="1200.5" stroke="#000" stroke-opacity="0.105" stroke-dasharray="4 4" stroke-dashoffset="1"/>
<line x1="997.50" y1="1025.0" x2="997.50" y2="1200.5" stroke="#000" stroke-opacity="0.105" stroke-dasharray="4 4" stroke-dashoffset="1"/>
<line x1="1050.50" y1="1025.0" x2="1050.50" y2="1200.5" stroke="#000" stroke-opacity="0.105" stroke-dasharray="4 4" stroke-dashoffset="1"/>
<line x1="1102.50" y1="1025.0" x2="1102.50" y2="1200.5" stroke="#000" stroke-opacity="0.105" stroke-dasharray="4 4" stroke-dashoffset="1"/>
<line x1="101.5" y1="1165.50" x2="1151.0" y2="1165.50" stroke="#000" stroke-opacity="0.105" stroke-dasharray="4 4" stroke-dashoffset="2.5"/>
<line x1="101.5" y1="1130.50" x2="1151.0" y2="1130.50" stroke="#000" stroke-opacity="0.105" stroke-dasharray="4 4" stroke-dashoffset="2.5"/>
<line x1="101.5" y1="1095.50" x2="1151.0" y2="1095.50" stroke="#000" stroke-opacity="0.105" stroke-dasharray="4 4" stroke-dashoffset="2.5"/>
<line x1="101.5" y1="1060.50" x2="1151.0" y2="1060.50" stroke="#000" stroke-opacity="0.105" stroke-dasharray="4 4" stroke-dashoffset="2.5"/>
<line x1="101.5" y1="1025.50" x2="1151.0" y2="1025.50" stroke="#000" stroke-opacity="0.105" stroke-dasharray="4 4" stroke-dashoffset="2.5"/>
<line x1="105.5" y1="1112.5" x2="1145.0" y2="1112.5" stroke="#555" stroke-width="1"/>
<path d="M105.5 1068.2 C106.7 1069.5 113.7 1078.4 116.0 1079.2 C118.3 1080.1 124.2 1076.5 126.5 1075.8 C128.8 1075.0 134.7 1073.6 137.0 1072.5 C139.3 1071.4 145.2 1067.1 147.5 1066.2 C149.8 1065.4 155.7 1065.4 158.0 1065.2 C160.3 1065.1 166.2 1062.5 168.5 1064.8 C170.8 1067.0 176.7 1082.6 179.0 1085.8 C181.3 1088.9 187.2 1092.1 189.5 1093.0 C191.8 1093.9 197.7 1094.4 200.0 1094.0 C202.3 1093.6 208.2 1089.0 210.5 1089.2 C212.8 1089.5 218.7 1095.8 221.0 1096.5 C223.3 1097.2 229.2 1094.7 231.5 1095.5 C233.8 1096.3 239.7 1102.9 242.0 1103.5 C244.3 1104.1 250.2 1103.1 252.5 1101.2 C254.8 1099.4 260.7 1088.9 263.0 1087.0 C265.3 1085.1 271.2 1083.0 273.5 1084.5 C275.8 1086.0 281.7 1098.1 284.0 1100.5 C286.3 1102.9 292.2 1106.6 294.5 1106.5 C296.8 1106.4 302.7 1101.5 305.0 1100.0 C307.3 1098.5 313.2 1093.3 315.5 1093.2 C317.8 1093.2 323.7 1099.9 326.0 1099.5 C328.3 1099.1 334.2 1090.9 336.5 1089.5 C338.8 1088.1 344.7 1086.1 347.0 1086.5 C349.3 1086.9 355.2 1092.3 357.5 1093.0 C359.8 1093.7 365.7 1091.1 368.0 1092.5 C370.3 1093.9 376.2 1104.7 378.5 1105.2 C380.8 1105.8 386.7 1098.1 389.0 1097.5 C391.3 1096.9 397.2 1099.5 399.5 1100.2 C401.8 1101.0 407.7 1102.7 410.0 1104.5 C412.3 1106.3 418.2 1116.1 420.5 1116.2 C422.8 1116.4 428.7 1106.8 431.0 1105.5 C433.3 1104.2 439.2 1103.4 441.5 1104.5 C443.8 1105.6 449.7 1114.5 452.0 1115.2 C454.3 1116.0 460.2 1111.7 462.5 1111.5 C464.8 1111.3 470.7 1113.0 473.0 1113.2 C475.3 1113.5 481.2 1114.8 483.5 1114.0 C485.8 1113.2 491.7 1107.3 494.0 1106.0 C496.3 1104.7 502.2 1101.4 504.5 1102.0 C506.8 1102.6 512.7 1110.8 515.0 1111.8 C517.3 1112.7 523.2 1110.8 525.5 1110.2 C527.8 1109.7 533.7 1107.9 536.0 1107.0 C538.3 1106.1 544.2 1102.0 546.5 1102.2 C548.8 1102.5 554.7 1107.4 557.0 1109.2 C559.3 1111.1 565.2 1117.1 567.5 1118.8 C569.8 1120.4 575.7 1122.6 578.0 1124.5 C580.3 1126.4 586.2 1137.0 588.5 1136.2 C590.8 1135.5 596.7 1121.0 599.0 1118.0 C601.3 1115.0 607.2 1110.9 609.5 1109.5 C611.8 1108.1 617.7 1106.7 620.0 1105.5 C622.3 1104.3 628.2 1099.9 630.5 1098.8 C632.8 1097.6 638.7 1094.2 641.0 1095.5 C643.3 1096.8 649.2 1109.2 651.5 1110.5 C653.8 1111.8 659.7 1107.5 662.0 1107.2 C664.3 1107.0 670.2 1109.3 672.5 1108.2 C674.8 1107.2 680.7 1099.4 683.0 1098.0 C685.3 1096.6 691.2 1096.2 693.5 1095.5 C695.8 1094.8 701.7 1093.0 704.0 1092.0 C706.3 1091.0 712.2 1087.0 714.5 1086.2 C716.8 1085.5 722.7 1085.6 725.0 1085.0 C727.3 1084.4 733.2 1080.9 735.5 1080.8 C737.8 1080.6 743.7 1084.0 746.0 1083.5 C748.3 1083.0 754.2 1077.3 756.5 1076.2 C758.8 1075.2 764.7 1074.5 767.0 1074.0 C769.3 1073.5 775.2 1073.1 777.5 1072.0 C779.8 1070.9 785.7 1065.8 788.0 1064.5 C790.3 1063.2 796.2 1061.4 798.5 1060.5 C800.8 1059.6 806.7 1057.0 809.0 1056.2 C811.3 1055.5 817.2 1054.4 819.5 1054.0 C821.8 1053.6 827.7 1050.9 830.0 1053.0 C832.3 1055.1 838.2 1071.2 840.5 1073.2 C842.8 1075.3 848.7 1070.7 851.0 1071.8 C853.3 1072.8 859.2 1081.7 861.5 1082.5 C863.8 1083.3 869.7 1079.5 872.0 1079.0 C874.3 1078.5 880.2 1077.3 882.5 1077.8 C884.8 1078.2 890.7 1083.1 893.0 1082.8 C895.3 1082.4 901.2 1075.0 903.5 1074.2 C905.8 1073.5 911.7 1075.6 914.0 1076.2 C916.3 1076.9 922.2 1079.8 924.5 1080.5 C926.8 1081.2 932.7 1083.0 935.0 1082.8 C937.3 1082.5 943.2 1078.5 945.5 1078.5 C947.8 1078.5 953.7 1081.9 956.0 1082.5 C958.3 1083.1 964.2 1083.3 966.5 1083.5 C968.8 1083.7 974.7 1084.5 977.0 1084.5 C979.3 1084.5 985.2 1084.6 987.5 1083.2 C989.8 1081.9 995.7 1072.2 998.0 1072.2 C1000.3 1072.2 1006.2 1081.0 1008.5 1083.2 C1010.8 1085.5 1016.7 1091.6 1019.0 1092.5 C1021.3 1093.4 1027.2 1090.5 1029.5 1091.8 C1031.8 1093.0 1037.7 1101.9 1040.0 1103.5 C1042.3 1105.1 1048.2 1105.3 1050.5 1106.2 C1052.8 1107.2 1058.7 1110.9 1061.0 1111.8 C1063.3 1112.6 1069.2 1114.8 1071.5 1113.5 C1073.8 1112.2 1079.7 1101.1 1082.0 1100.5 C1084.3 1099.9 1090.2 1106.6 1092.5 1108.0 C1094.8 1109.4 1100.7 1111.6 1103.0 1113.5 C1105.3 1115.4 1111.2 1124.5 1113.5 1125.5 C1115.8 1126.5 1121.7 1123.3 1124.0 1122.5 C1126.3 1121.7 1132.2 1120.1 1134.5 1118.0 C1136.8 1115.9 1143.8 1105.6 1145.0 1104.0" fill="none" stroke="#f54545" stroke-width="0.9"/>
<line x1="100.5" y1="1016.5" x2="100.5" y2="1200.5" stroke="#222" stroke-width="1"/>
<path d="M100.5 1013.5 L96.9 1020.0 L104.1 1020.0 Z" fill="#000"/>
<line x1="100.0" y1="1200.5" x2="1158" y2="1200.5" stroke="#000" stroke-width="1"/>
<path d="M1163 1200.5 L1155.5 1197.0 L1155.5 1204.0 Z" fill="#000"/>
<line x1="98.0" y1="1200.50" x2="103.0" y2="1200.50" stroke="#000"/>
<line x1="98.0" y1="1182.50" x2="100.5" y2="1182.50" stroke="#f00"/>
<text x="98.2" y="1205.0" font-size="11.3" text-anchor="end"  textLength="24.6" lengthAdjust="spacingAndGlyphs">0.00</text>
<line x1="98.0" y1="1165.50" x2="103.0" y2="1165.50" stroke="#000"/>
<line x1="98.0" y1="1147.50" x2="100.5" y2="1147.50" stroke="#f00"/>
<text x="98.2" y="1170.0" font-size="11.3" text-anchor="end"  textLength="31.4" lengthAdjust="spacingAndGlyphs">20.00</text>
<line x1="98.0" y1="1130.50" x2="103.0" y2="1130.50" stroke="#000"/>
<line x1="98.0" y1="1112.50" x2="100.5" y2="1112.50" stroke="#f00"/>
<text x="98.2" y="1135.0" font-size="11.3" text-anchor="end"  textLength="31.4" lengthAdjust="spacingAndGlyphs">40.00</text>
<line x1="98.0" y1="1095.50" x2="103.0" y2="1095.50" stroke="#000"/>
<line x1="98.0" y1="1077.50" x2="100.5" y2="1077.50" stroke="#f00"/>
<text x="98.2" y="1100.0" font-size="11.3" text-anchor="end"  textLength="31.4" lengthAdjust="spacingAndGlyphs">60.00</text>
<line x1="98.0" y1="1060.50" x2="103.0" y2="1060.50" stroke="#000"/>
<line x1="98.0" y1="1042.50" x2="100.5" y2="1042.50" stroke="#f00"/>
<text x="98.2" y="1065.0" font-size="11.3" text-anchor="end"  textLength="31.4" lengthAdjust="spacingAndGlyphs">80.00</text>
<line x1="98.0" y1="1025.50" x2="103.0" y2="1025.50" stroke="#000"/>
<text x="98.2" y="1030.0" font-size="11.3" text-anchor="end"  textLength="38.2" lengthAdjust="spacingAndGlyphs">100.00</text>
<line x1="115.50" y1="1200.5" x2="115.50" y2="1203.5" stroke="#ccc"/>
<line x1="126.50" y1="1200.5" x2="126.50" y2="1203.5" stroke="#ccc"/>
<line x1="136.50" y1="1200.5" x2="136.50" y2="1203.5" stroke="#ccc"/>
<line x1="147.50" y1="1200.5" x2="147.50" y2="1203.5" stroke="#ccc"/>
<line x1="168.50" y1="1200.5" x2="168.50" y2="1203.5" stroke="#ccc"/>
<line x1="178.50" y1="1200.5" x2="178.50" y2="1203.5" stroke="#ccc"/>
<line x1="189.50" y1="1200.5" x2="189.50" y2="1203.5" stroke="#ccc"/>
<line x1="199.50" y1="1200.5" x2="199.50" y2="1203.5" stroke="#ccc"/>
<line x1="220.50" y1="1200.5" x2="220.50" y2="1203.5" stroke="#ccc"/>
<line x1="231.50" y1="1200.5" x2="231.50" y2="1203.5" stroke="#ccc"/>
<line x1="241.50" y1="1200.5" x2="241.50" y2="1203.5" stroke="#ccc"/>
<line x1="252.50" y1="1200.5" x2="252.50" y2="1203.5" stroke="#ccc"/>
<line x1="273.50" y1="1200.5" x2="273.50" y2="1203.5" stroke="#ccc"/>
<line x1="283.50" y1="1200.5" x2="283.50" y2="1203.5" stroke="#ccc"/>
<line x1="294.50" y1="1200.5" x2="294.50" y2="1203.5" stroke="#ccc"/>
<line x1="304.50" y1="1200.5" x2="304.50" y2="1203.5" stroke="#ccc"/>
<line x1="325.50" y1="1200.5" x2="325.50" y2="1203.5" stroke="#ccc"/>
<line x1="336.50" y1="1200.5" x2="336.50" y2="1203.5" stroke="#ccc"/>
<line x1="346.50" y1="1200.5" x2="346.50" y2="1203.5" stroke="#ccc"/>
<line x1="357.50" y1="1200.5" x2="357.50" y2="1203.5" stroke="#ccc"/>
<line x1="378.50" y1="1200.5" x2="378.50" y2="1203.5" stroke="#ccc"/>
<line x1="388.50" y1="1200.5" x2="388.50" y2="1203.5" stroke="#ccc"/>
<line x1="399.50" y1="1200.5" x2="399.50" y2="1203.5" stroke="#ccc"/>
<line x1="409.50" y1="1200.5" x2="409.50" y2="1203.5" stroke="#ccc"/>
<line x1="430.50" y1="1200.5" x2="430.50" y2="1203.5" stroke="#ccc"/>
<line x1="441.50" y1="1200.5" x2="441.50" y2="1203.5" stroke="#ccc"/>
<line x1="451.50" y1="1200.5" x2="451.50" y2="1203.5" stroke="#ccc"/>
<line x1="462.50" y1="1200.5" x2="462.50" y2="1203.5" stroke="#ccc"/>
<line x1="483.50" y1="1200.5" x2="483.50" y2="1203.5" stroke="#ccc"/>
<line x1="493.50" y1="1200.5" x2="493.50" y2="1203.5" stroke="#ccc"/>
<line x1="504.50" y1="1200.5" x2="504.50" y2="1203.5" stroke="#ccc"/>
<line x1="514.50" y1="1200.5" x2="514.50" y2="1203.5" stroke="#ccc"/>
<line x1="535.50" y1="1200.5" x2="535.50" y2="1203.5" stroke="#ccc"/>
<line x1="546.50" y1="1200.5" x2="546.50" y2="1203.5" stroke="#ccc"/>
<line x1="556.50" y1="1200.5" x2="556.50" y2="1203.5" stroke="#ccc"/>
<line x1="567.50" y1="1200.5" x2="567.50" y2="1203.5" stroke="#ccc"/>
<line x1="588.50" y1="1200.5" x2="588.50" y2="1203.5" stroke="#ccc"/>
<line x1="598.50" y1="1200.5" x2="598.50" y2="1203.5" stroke="#ccc"/>
<line x1="609.50" y1="1200.5" x2="609.50" y2="1203.5" stroke="#ccc"/>
<line x1="619.50" y1="1200.5" x2="619.50" y2="1203.5" stroke="#ccc"/>
<line x1="640.50" y1="1200.5" x2="640.50" y2="1203.5" stroke="#ccc"/>
<line x1="651.50" y1="1200.5" x2="651.50" y2="1203.5" stroke="#ccc"/>
<line x1="661.50" y1="1200.5" x2="661.50" y2="1203.5" stroke="#ccc"/>
<line x1="672.50" y1="1200.5" x2="672.50" y2="1203.5" stroke="#ccc"/>
<line x1="693.50" y1="1200.5" x2="693.50" y2="1203.5" stroke="#ccc"/>
<line x1="703.50" y1="1200.5" x2="703.50" y2="1203.5" stroke="#ccc"/>
<line x1="714.50" y1="1200.5" x2="714.50" y2="1203.5" stroke="#ccc"/>
<line x1="724.50" y1="1200.5" x2="724.50" y2="1203.5" stroke="#ccc"/>
<line x1="745.50" y1="1200.5" x2="745.50" y2="1203.5" stroke="#ccc"/>
<line x1="756.50" y1="1200.5" x2="756.50" y2="1203.5" stroke="#ccc"/>
<line x1="766.50" y1="1200.5" x2="766.50" y2="1203.5" stroke="#ccc"/>
<line x1="777.50" y1="1200.5" x2="777.50" y2="1203.5" stroke="#ccc"/>
<line x1="798.50" y1="1200.5" x2="798.50" y2="1203.5" stroke="#ccc"/>
<line x1="808.50" y1="1200.5" x2="808.50" y2="1203.5" stroke="#ccc"/>
<line x1="819.50" y1="1200.5" x2="819.50" y2="1203.5" stroke="#ccc"/>
<line x1="829.50" y1="1200.5" x2="829.50" y2="1203.5" stroke="#ccc"/>
<line x1="850.50" y1="1200.5" x2="850.50" y2="1203.5" stroke="#ccc"/>
<line x1="861.50" y1="1200.5" x2="861.50" y2="1203.5" stroke="#ccc"/>
<line x1="871.50" y1="1200.5" x2="871.50" y2="1203.5" stroke="#ccc"/>
<line x1="882.50" y1="1200.5" x2="882.50" y2="1203.5" stroke="#ccc"/>
<line x1="903.50" y1="1200.5" x2="903.50" y2="1203.5" stroke="#ccc"/>
<line x1="913.50" y1="1200.5" x2="913.50" y2="1203.5" stroke="#ccc"/>
<line x1="924.50" y1="1200.5" x2="924.50" y2="1203.5" stroke="#ccc"/>
<line x1="934.50" y1="1200.5" x2="934.50" y2="1203.5" stroke="#ccc"/>
<line x1="955.50" y1="1200.5" x2="955.50" y2="1203.5" stroke="#ccc"/>
<line x1="966.50" y1="1200.5" x2="966.50" y2="1203.5" stroke="#ccc"/>
<line x1="976.50" y1="1200.5" x2="976.50" y2="1203.5" stroke="#ccc"/>
<line x1="987.50" y1="1200.5" x2="987.50" y2="1203.5" stroke="#ccc"/>
<line x1="1008.50" y1="1200.5" x2="1008.50" y2="1203.5" stroke="#ccc"/>
<line x1="1018.50" y1="1200.5" x2="1018.50" y2="1203.5" stroke="#ccc"/>
<line x1="1029.50" y1="1200.5" x2="1029.50" y2="1203.5" stroke="#ccc"/>
<line x1="1039.50" y1="1200.5" x2="1039.50" y2="1203.5" stroke="#ccc"/>
<line x1="1060.50" y1="1200.5" x2="1060.50" y2="1203.5" stroke="#ccc"/>
<line x1="1071.50" y1="1200.5" x2="1071.50" y2="1203.5" stroke="#ccc"/>
<line x1="1081.50" y1="1200.5" x2="1081.50" y2="1203.5" stroke="#ccc"/>
<line x1="1092.50" y1="1200.5" x2="1092.50" y2="1203.5" stroke="#ccc"/>
<line x1="1113.50" y1="1200.5" x2="1113.50" y2="1203.5" stroke="#ccc"/>
<line x1="1123.50" y1="1200.5" x2="1123.50" y2="1203.5" stroke="#ccc"/>
<line x1="1134.50" y1="1200.5" x2="1134.50" y2="1203.5" stroke="#ccc"/>
<line x1="1144.50" y1="1200.5" x2="1144.50" y2="1203.5" stroke="#ccc"/>
<line x1="105.50" y1="1197.5" x2="105.50" y2="1204.0" stroke="#000"/>
<text x="106.7" y="1212.7" font-size="11.3" text-anchor="middle"  textLength="48.7" lengthAdjust="spacingAndGlyphs">1er Sept</text>
<line x1="157.50" y1="1197.5" x2="157.50" y2="1204.0" stroke="#000"/>
<text x="158.7" y="1212.7" font-size="11.3" text-anchor="middle"  textLength="36.3" lengthAdjust="spacingAndGlyphs">8 Sept</text>
<line x1="210.50" y1="1197.5" x2="210.50" y2="1204.0" stroke="#000"/>
<text x="211.7" y="1212.7" font-size="11.3" text-anchor="middle"  textLength="43.8" lengthAdjust="spacingAndGlyphs">15 Sept</text>
<line x1="262.50" y1="1197.5" x2="262.50" y2="1204.0" stroke="#000"/>
<text x="263.7" y="1212.7" font-size="11.3" text-anchor="middle"  textLength="43.8" lengthAdjust="spacingAndGlyphs">22 Sept</text>
<line x1="315.50" y1="1197.5" x2="315.50" y2="1204.0" stroke="#000"/>
<text x="316.7" y="1212.7" font-size="11.3" text-anchor="middle"  textLength="43.8" lengthAdjust="spacingAndGlyphs">29 Sept</text>
<line x1="367.50" y1="1197.5" x2="367.50" y2="1204.0" stroke="#000"/>
<text x="368.7" y="1212.7" font-size="11.3" text-anchor="middle"  textLength="30.0" lengthAdjust="spacingAndGlyphs">6 Oct</text>
<line x1="420.50" y1="1197.5" x2="420.50" y2="1204.0" stroke="#000"/>
<text x="421.7" y="1212.7" font-size="11.3" text-anchor="middle"  textLength="37.5" lengthAdjust="spacingAndGlyphs">13 Oct</text>
<line x1="472.50" y1="1197.5" x2="472.50" y2="1204.0" stroke="#000"/>
<text x="473.7" y="1212.7" font-size="11.3" text-anchor="middle"  textLength="37.5" lengthAdjust="spacingAndGlyphs">20 Oct</text>
<line x1="525.50" y1="1197.5" x2="525.50" y2="1204.0" stroke="#000"/>
<text x="526.7" y="1212.7" font-size="11.3" text-anchor="middle"  textLength="37.5" lengthAdjust="spacingAndGlyphs">27 Oct</text>
<line x1="577.50" y1="1197.5" x2="577.50" y2="1204.0" stroke="#000"/>
<text x="578.7" y="1212.7" font-size="11.3" text-anchor="middle"  textLength="32.0" lengthAdjust="spacingAndGlyphs">3 Nov</text>
<line x1="630.50" y1="1197.5" x2="630.50" y2="1204.0" stroke="#000"/>
<text x="631.7" y="1212.7" font-size="11.3" text-anchor="middle"  textLength="39.5" lengthAdjust="spacingAndGlyphs">10 Nov</text>
<line x1="682.50" y1="1197.5" x2="682.50" y2="1204.0" stroke="#000"/>
<text x="683.7" y="1212.7" font-size="11.3" text-anchor="middle"  textLength="39.5" lengthAdjust="spacingAndGlyphs">17 Nov</text>
<line x1="735.50" y1="1197.5" x2="735.50" y2="1204.0" stroke="#000"/>
<text x="736.7" y="1212.7" font-size="11.3" text-anchor="middle"  textLength="39.5" lengthAdjust="spacingAndGlyphs">24 Nov</text>
<line x1="787.50" y1="1197.5" x2="787.50" y2="1204.0" stroke="#000"/>
<text x="788.7" y="1213.8" font-size="11.3" text-anchor="middle"  textLength="33.0" lengthAdjust="spacingAndGlyphs">5 Déc</text>
<line x1="840.50" y1="1197.5" x2="840.50" y2="1204.0" stroke="#000"/>
<text x="841.7" y="1213.8" font-size="11.3" text-anchor="middle"  textLength="40.5" lengthAdjust="spacingAndGlyphs">12 Déc</text>
<line x1="892.50" y1="1197.5" x2="892.50" y2="1204.0" stroke="#000"/>
<text x="893.7" y="1213.8" font-size="11.3" text-anchor="middle"  textLength="40.5" lengthAdjust="spacingAndGlyphs">19 Déc</text>
<line x1="945.50" y1="1197.5" x2="945.50" y2="1204.0" stroke="#000"/>
<text x="946.7" y="1213.8" font-size="11.3" text-anchor="middle"  textLength="40.5" lengthAdjust="spacingAndGlyphs">27 Déc</text>
<line x1="997.50" y1="1197.5" x2="997.50" y2="1204.0" stroke="#000"/>
<text x="998.7" y="1212.7" font-size="11.3" text-anchor="middle"  textLength="35.0" lengthAdjust="spacingAndGlyphs">3 Janv</text>
<line x1="1050.50" y1="1197.5" x2="1050.50" y2="1204.0" stroke="#000"/>
<text x="1051.7" y="1212.7" font-size="11.3" text-anchor="middle"  textLength="42.6" lengthAdjust="spacingAndGlyphs">10 Janv</text>
<line x1="1102.50" y1="1197.5" x2="1102.50" y2="1204.0" stroke="#000"/>
<text x="1103.7" y="1212.7" font-size="11.3" text-anchor="middle"  textLength="42.6" lengthAdjust="spacingAndGlyphs">17 Janv</text>
<text x="627.0" y="1227.2" font-size="11.3" text-anchor="middle"  textLength="289.5" lengthAdjust="spacingAndGlyphs">Date (du 1er Septembre 2016 au 23 Janvier 2017)</text>
<text transform="translate(58.2,1110.4) rotate(-90)" font-size="11.3" text-anchor="middle" textLength="19.2" lengthAdjust="spacingAndGlyphs">RSI</text>
<text x="112.5" y="995.0" font-size="24" text-anchor="start"  textLength="452.5" lengthAdjust="spacingAndGlyphs">Wendel: graphique du RSI - RSI(14) -</text>
<text x="573.5" y="995.0" font-size="24" text-anchor="start"  textLength="207.5" lengthAdjust="spacingAndGlyphs">AnalyBourse.com</text>
<rect x="101.0" y="1451.00" width="1050.0" height="25.00" fill="#f9f9f9"/>
<rect x="101.0" y="1401.00" width="1050.0" height="25.00" fill="#f9f9f9"/>
<rect x="101.0" y="1351.00" width="1050.0" height="25.00" fill="#f9f9f9"/>
<line x1="115.50" y1="1325.0" x2="115.50" y2="1500.5" stroke="#000" stroke-opacity="0.033" stroke-dasharray="6 6" stroke-dashoffset="1"/>
<line x1="126.50" y1="1325.0" x2="126.50" y2="1500.5" stroke="#000" stroke-opacity="0.033" stroke-dasharray="6 6" stroke-dashoffset="1"/>
<line x1="136.50" y1="1325.0" x2="136.50" y2="1500.5" stroke="#000" stroke-opacity="0.033" stroke-dasharray="6 6" stroke-dashoffset="1"/>
<line x1="147.50" y1="1325.0" x2="147.50" y2="1500.5" stroke="#000" stroke-opacity="0.033" stroke-dasharray="6 6" stroke-dashoffset="1"/>
<line x1="168.50" y1="1325.0" x2="168.50" y2="1500.5" stroke="#000" stroke-opacity="0.033" stroke-dasharray="6 6" stroke-dashoffset="1"/>
<line x1="178.50" y1="1325.0" x2="178.50" y2="1500.5" stroke="#000" stroke-opacity="0.033" stroke-dasharray="6 6" stroke-dashoffset="1"/>
<line x1="189.50" y1="1325.0" x2="189.50" y2="1500.5" stroke="#000" stroke-opacity="0.033" stroke-dasharray="6 6" stroke-dashoffset="1"/>
<line x1="199.50" y1="1325.0" x2="199.50" y2="1500.5" stroke="#000" stroke-opacity="0.033" stroke-dasharray="6 6" stroke-dashoffset="1"/>
<line x1="220.50" y1="1325.0" x2="220.50" y2="1500.5" stroke="#000" stroke-opacity="0.033" stroke-dasharray="6 6" stroke-dashoffset="1"/>
<line x1="231.50" y1="1325.0" x2="231.50" y2="1500.5" stroke="#000" stroke-opacity="0.033" stroke-dasharray="6 6" stroke-dashoffset="1"/>
<line x1="241.50" y1="1325.0" x2="241.50" y2="1500.5" stroke="#000" stroke-opacity="0.033" stroke-dasharray="6 6" stroke-dashoffset="1"/>
<line x1="252.50" y1="1325.0" x2="252.50" y2="1500.5" stroke="#000" stroke-opacity="0.033" stroke-dasharray="6 6" stroke-dashoffset="1"/>
<line x1="273.50" y1="1325.0" x2="273.50" y2="1500.5" stroke="#000" stroke-opacity="0.033" stroke-dasharray="6 6" stroke-dashoffset="1"/>
<line x1="283.50" y1="1325.0" x2="283.50" y2="1500.5" stroke="#000" stroke-opacity="0.033" stroke-dasharray="6 6" stroke-dashoffset="1"/>
<line x1="294.50" y1="1325.0" x2="294.50" y2="1500.5" stroke="#000" stroke-opacity="0.033" stroke-dasharray="6 6" stroke-dashoffset="1"/>
<line x1="304.50" y1="1325.0" x2="304.50" y2="1500.5" stroke="#000" stroke-opacity="0.033" stroke-dasharray="6 6" stroke-dashoffset="1"/>
<line x1="325.50" y1="1325.0" x2="325.50" y2="1500.5" stroke="#000" stroke-opacity="0.033" stroke-dasharray="6 6" stroke-dashoffset="1"/>
<line x1="336.50" y1="1325.0" x2="336.50" y2="1500.5" stroke="#000" stroke-opacity="0.033" stroke-dasharray="6 6" stroke-dashoffset="1"/>
<line x1="346.50" y1="1325.0" x2="346.50" y2="1500.5" stroke="#000" stroke-opacity="0.033" stroke-dasharray="6 6" stroke-dashoffset="1"/>
<line x1="357.50" y1="1325.0" x2="357.50" y2="1500.5" stroke="#000" stroke-opacity="0.033" stroke-dasharray="6 6" stroke-dashoffset="1"/>
<line x1="378.50" y1="1325.0" x2="378.50" y2="1500.5" stroke="#000" stroke-opacity="0.033" stroke-dasharray="6 6" stroke-dashoffset="1"/>
<line x1="388.50" y1="1325.0" x2="388.50" y2="1500.5" stroke="#000" stroke-opacity="0.033" stroke-dasharray="6 6" stroke-dashoffset="1"/>
<line x1="399.50" y1="1325.0" x2="399.50" y2="1500.5" stroke="#000" stroke-opacity="0.033" stroke-dasharray="6 6" stroke-dashoffset="1"/>
<line x1="409.50" y1="1325.0" x2="409.50" y2="1500.5" stroke="#000" stroke-opacity="0.033" stroke-dasharray="6 6" stroke-dashoffset="1"/>
<line x1="430.50" y1="1325.0" x2="430.50" y2="1500.5" stroke="#000" stroke-opacity="0.033" stroke-dasharray="6 6" stroke-dashoffset="1"/>
<line x1="441.50" y1="1325.0" x2="441.50" y2="1500.5" stroke="#000" stroke-opacity="0.033" stroke-dasharray="6 6" stroke-dashoffset="1"/>
<line x1="451.50" y1="1325.0" x2="451.50" y2="1500.5" stroke="#000" stroke-opacity="0.033" stroke-dasharray="6 6" stroke-dashoffset="1"/>
<line x1="462.50" y1="1325.0" x2="462.50" y2="1500.5" stroke="#000" stroke-opacity="0.033" stroke-dasharray="6 6" stroke-dashoffset="1"/>
<line x1="483.50" y1="1325.0" x2="483.50" y2="1500.5" stroke="#000" stroke-opacity="0.033" stroke-dasharray="6 6" stroke-dashoffset="1"/>
<line x1="493.50" y1="1325.0" x2="493.50" y2="1500.5" stroke="#000" stroke-opacity="0.033" stroke-dasharray="6 6" stroke-dashoffset="1"/>
<line x1="504.50" y1="1325.0" x2="504.50" y2="1500.5" stroke="#000" stroke-opacity="0.033" stroke-dasharray="6 6" stroke-dashoffset="1"/>
<line x1="514.50" y1="1325.0" x2="514.50" y2="1500.5" stroke="#000" stroke-opacity="0.033" stroke-dasharray="6 6" stroke-dashoffset="1"/>
<line x1="535.50" y1="1325.0" x2="535.50" y2="1500.5" stroke="#000" stroke-opacity="0.033" stroke-dasharray="6 6" stroke-dashoffset="1"/>
<line x1="546.50" y1="1325.0" x2="546.50" y2="1500.5" stroke="#000" stroke-opacity="0.033" stroke-dasharray="6 6" stroke-dashoffset="1"/>
<line x1="556.50" y1="1325.0" x2="556.50" y2="1500.5" stroke="#000" stroke-opacity="0.033" stroke-dasharray="6 6" stroke-dashoffset="1"/>
<line x1="567.50" y1="1325.0" x2="567.50" y2="1500.5" stroke="#000" stroke-opacity="0.033" stroke-dasharray="6 6" stroke-dashoffset="1"/>
<line x1="588.50" y1="1325.0" x2="588.50" y2="1500.5" stroke="#000" stroke-opacity="0.033" stroke-dasharray="6 6" stroke-dashoffset="1"/>
<line x1="598.50" y1="1325.0" x2="598.50" y2="1500.5" stroke="#000" stroke-opacity="0.033" stroke-dasharray="6 6" stroke-dashoffset="1"/>
<line x1="609.50" y1="1325.0" x2="609.50" y2="1500.5" stroke="#000" stroke-opacity="0.033" stroke-dasharray="6 6" stroke-dashoffset="1"/>
<line x1="619.50" y1="1325.0" x2="619.50" y2="1500.5" stroke="#000" stroke-opacity="0.033" stroke-dasharray="6 6" stroke-dashoffset="1"/>
<line x1="640.50" y1="1325.0" x2="640.50" y2="1500.5" stroke="#000" stroke-opacity="0.033" stroke-dasharray="6 6" stroke-dashoffset="1"/>
<line x1="651.50" y1="1325.0" x2="651.50" y2="1500.5" stroke="#000" stroke-opacity="0.033" stroke-dasharray="6 6" stroke-dashoffset="1"/>
<line x1="661.50" y1="1325.0" x2="661.50" y2="1500.5" stroke="#000" stroke-opacity="0.033" stroke-dasharray="6 6" stroke-dashoffset="1"/>
<line x1="672.50" y1="1325.0" x2="672.50" y2="1500.5" stroke="#000" stroke-opacity="0.033" stroke-dasharray="6 6" stroke-dashoffset="1"/>
<line x1="693.50" y1="1325.0" x2="693.50" y2="1500.5" stroke="#000" stroke-opacity="0.033" stroke-dasharray="6 6" stroke-dashoffset="1"/>
<line x1="703.50" y1="1325.0" x2="703.50" y2="1500.5" stroke="#000" stroke-opacity="0.033" stroke-dasharray="6 6" stroke-dashoffset="1"/>
<line x1="714.50" y1="1325.0" x2="714.50" y2="1500.5" stroke="#000" stroke-opacity="0.033" stroke-dasharray="6 6" stroke-dashoffset="1"/>
<line x1="724.50" y1="1325.0" x2="724.50" y2="1500.5" stroke="#000" stroke-opacity="0.033" stroke-dasharray="6 6" stroke-dashoffset="1"/>
<line x1="745.50" y1="1325.0" x2="745.50" y2="1500.5" stroke="#000" stroke-opacity="0.033" stroke-dasharray="6 6" stroke-dashoffset="1"/>
<line x1="756.50" y1="1325.0" x2="756.50" y2="1500.5" stroke="#000" stroke-opacity="0.033" stroke-dasharray="6 6" stroke-dashoffset="1"/>
<line x1="766.50" y1="1325.0" x2="766.50" y2="1500.5" stroke="#000" stroke-opacity="0.033" stroke-dasharray="6 6" stroke-dashoffset="1"/>
<line x1="777.50" y1="1325.0" x2="777.50" y2="1500.5" stroke="#000" stroke-opacity="0.033" stroke-dasharray="6 6" stroke-dashoffset="1"/>
<line x1="798.50" y1="1325.0" x2="798.50" y2="1500.5" stroke="#000" stroke-opacity="0.033" stroke-dasharray="6 6" stroke-dashoffset="1"/>
<line x1="808.50" y1="1325.0" x2="808.50" y2="1500.5" stroke="#000" stroke-opacity="0.033" stroke-dasharray="6 6" stroke-dashoffset="1"/>
<line x1="819.50" y1="1325.0" x2="819.50" y2="1500.5" stroke="#000" stroke-opacity="0.033" stroke-dasharray="6 6" stroke-dashoffset="1"/>
<line x1="829.50" y1="1325.0" x2="829.50" y2="1500.5" stroke="#000" stroke-opacity="0.033" stroke-dasharray="6 6" stroke-dashoffset="1"/>
<line x1="850.50" y1="1325.0" x2="850.50" y2="1500.5" stroke="#000" stroke-opacity="0.033" stroke-dasharray="6 6" stroke-dashoffset="1"/>
<line x1="861.50" y1="1325.0" x2="861.50" y2="1500.5" stroke="#000" stroke-opacity="0.033" stroke-dasharray="6 6" stroke-dashoffset="1"/>
<line x1="871.50" y1="1325.0" x2="871.50" y2="1500.5" stroke="#000" stroke-opacity="0.033" stroke-dasharray="6 6" stroke-dashoffset="1"/>
<line x1="882.50" y1="1325.0" x2="882.50" y2="1500.5" stroke="#000" stroke-opacity="0.033" stroke-dasharray="6 6" stroke-dashoffset="1"/>
<line x1="903.50" y1="1325.0" x2="903.50" y2="1500.5" stroke="#000" stroke-opacity="0.033" stroke-dasharray="6 6" stroke-dashoffset="1"/>
<line x1="913.50" y1="1325.0" x2="913.50" y2="1500.5" stroke="#000" stroke-opacity="0.033" stroke-dasharray="6 6" stroke-dashoffset="1"/>
<line x1="924.50" y1="1325.0" x2="924.50" y2="1500.5" stroke="#000" stroke-opacity="0.033" stroke-dasharray="6 6" stroke-dashoffset="1"/>
<line x1="934.50" y1="1325.0" x2="934.50" y2="1500.5" stroke="#000" stroke-opacity="0.033" stroke-dasharray="6 6" stroke-dashoffset="1"/>
<line x1="955.50" y1="1325.0" x2="955.50" y2="1500.5" stroke="#000" stroke-opacity="0.033" stroke-dasharray="6 6" stroke-dashoffset="1"/>
<line x1="966.50" y1="1325.0" x2="966.50" y2="1500.5" stroke="#000" stroke-opacity="0.033" stroke-dasharray="6 6" stroke-dashoffset="1"/>
<line x1="976.50" y1="1325.0" x2="976.50" y2="1500.5" stroke="#000" stroke-opacity="0.033" stroke-dasharray="6 6" stroke-dashoffset="1"/>
<line x1="987.50" y1="1325.0" x2="987.50" y2="1500.5" stroke="#000" stroke-opacity="0.033" stroke-dasharray="6 6" stroke-dashoffset="1"/>
<line x1="1008.50" y1="1325.0" x2="1008.50" y2="1500.5" stroke="#000" stroke-opacity="0.033" stroke-dasharray="6 6" stroke-dashoffset="1"/>
<line x1="1018.50" y1="1325.0" x2="1018.50" y2="1500.5" stroke="#000" stroke-opacity="0.033" stroke-dasharray="6 6" stroke-dashoffset="1"/>
<line x1="1029.50" y1="1325.0" x2="1029.50" y2="1500.5" stroke="#000" stroke-opacity="0.033" stroke-dasharray="6 6" stroke-dashoffset="1"/>
<line x1="1039.50" y1="1325.0" x2="1039.50" y2="1500.5" stroke="#000" stroke-opacity="0.033" stroke-dasharray="6 6" stroke-dashoffset="1"/>
<line x1="1060.50" y1="1325.0" x2="1060.50" y2="1500.5" stroke="#000" stroke-opacity="0.033" stroke-dasharray="6 6" stroke-dashoffset="1"/>
<line x1="1071.50" y1="1325.0" x2="1071.50" y2="1500.5" stroke="#000" stroke-opacity="0.033" stroke-dasharray="6 6" stroke-dashoffset="1"/>
<line x1="1081.50" y1="1325.0" x2="1081.50" y2="1500.5" stroke="#000" stroke-opacity="0.033" stroke-dasharray="6 6" stroke-dashoffset="1"/>
<line x1="1092.50" y1="1325.0" x2="1092.50" y2="1500.5" stroke="#000" stroke-opacity="0.033" stroke-dasharray="6 6" stroke-dashoffset="1"/>
<line x1="1113.50" y1="1325.0" x2="1113.50" y2="1500.5" stroke="#000" stroke-opacity="0.033" stroke-dasharray="6 6" stroke-dashoffset="1"/>
<line x1="1123.50" y1="1325.0" x2="1123.50" y2="1500.5" stroke="#000" stroke-opacity="0.033" stroke-dasharray="6 6" stroke-dashoffset="1"/>
<line x1="1134.50" y1="1325.0" x2="1134.50" y2="1500.5" stroke="#000" stroke-opacity="0.033" stroke-dasharray="6 6" stroke-dashoffset="1"/>
<line x1="1144.50" y1="1325.0" x2="1144.50" y2="1500.5" stroke="#000" stroke-opacity="0.033" stroke-dasharray="6 6" stroke-dashoffset="1"/>
<line x1="105.50" y1="1325.0" x2="105.50" y2="1500.5" stroke="#000" stroke-opacity="0.105" stroke-dasharray="4 4" stroke-dashoffset="1"/>
<line x1="157.50" y1="1325.0" x2="157.50" y2="1500.5" stroke="#000" stroke-opacity="0.105" stroke-dasharray="4 4" stroke-dashoffset="1"/>
<line x1="210.50" y1="1325.0" x2="210.50" y2="1500.5" stroke="#000" stroke-opacity="0.105" stroke-dasharray="4 4" stroke-dashoffset="1"/>
<line x1="262.50" y1="1325.0" x2="262.50" y2="1500.5" stroke="#000" stroke-opacity="0.105" stroke-dasharray="4 4" stroke-dashoffset="1"/>
<line x1="315.50" y1="1325.0" x2="315.50" y2="1500.5" stroke="#000" stroke-opacity="0.105" stroke-dasharray="4 4" stroke-dashoffset="1"/>
<line x1="367.50" y1="1325.0" x2="367.50" y2="1500.5" stroke="#000" stroke-opacity="0.105" stroke-dasharray="4 4" stroke-dashoffset="1"/>
<line x1="420.50" y1="1325.0" x2="420.50" y2="1500.5" stroke="#000" stroke-opacity="0.105" stroke-dasharray="4 4" stroke-dashoffset="1"/>
<line x1="472.50" y1="1325.0" x2="472.50" y2="1500.5" stroke="#000" stroke-opacity="0.105" stroke-dasharray="4 4" stroke-dashoffset="1"/>
<line x1="525.50" y1="1325.0" x2="525.50" y2="1500.5" stroke="#000" stroke-opacity="0.105" stroke-dasharray="4 4" stroke-dashoffset="1"/>
<line x1="577.50" y1="1325.0" x2="577.50" y2="1500.5" stroke="#000" stroke-opacity="0.105" stroke-dasharray="4 4" stroke-dashoffset="1"/>
<line x1="630.50" y1="1325.0" x2="630.50" y2="1500.5" stroke="#000" stroke-opacity="0.105" stroke-dasharray="4 4" stroke-dashoffset="1"/>
<line x1="682.50" y1="1325.0" x2="682.50" y2="1500.5" stroke="#000" stroke-opacity="0.105" stroke-dasharray="4 4" stroke-dashoffset="1"/>
<line x1="735.50" y1="1325.0" x2="735.50" y2="1500.5" stroke="#000" stroke-opacity="0.105" stroke-dasharray="4 4" stroke-dashoffset="1"/>
<line x1="787.50" y1="1325.0" x2="787.50" y2="1500.5" stroke="#000" stroke-opacity="0.105" stroke-dasharray="4 4" stroke-dashoffset="1"/>
<line x1="840.50" y1="1325.0" x2="840.50" y2="1500.5" stroke="#000" stroke-opacity="0.105" stroke-dasharray="4 4" stroke-dashoffset="1"/>
<line x1="892.50" y1="1325.0" x2="892.50" y2="1500.5" stroke="#000" stroke-opacity="0.105" stroke-dasharray="4 4" stroke-dashoffset="1"/>
<line x1="945.50" y1="1325.0" x2="945.50" y2="1500.5" stroke="#000" stroke-opacity="0.105" stroke-dasharray="4 4" stroke-dashoffset="1"/>
<line x1="997.50" y1="1325.0" x2="997.50" y2="1500.5" stroke="#000" stroke-opacity="0.105" stroke-dasharray="4 4" stroke-dashoffset="1"/>
<line x1="1050.50" y1="1325.0" x2="1050.50" y2="1500.5" stroke="#000" stroke-opacity="0.105" stroke-dasharray="4 4" stroke-dashoffset="1"/>
<line x1="1102.50" y1="1325.0" x2="1102.50" y2="1500.5" stroke="#000" stroke-opacity="0.105" stroke-dasharray="4 4" stroke-dashoffset="1"/>
<line x1="101.5" y1="1475.50" x2="1151.0" y2="1475.50" stroke="#000" stroke-opacity="0.105" stroke-dasharray="4 4" stroke-dashoffset="2.5"/>
<line x1="101.5" y1="1450.50" x2="1151.0" y2="1450.50" stroke="#000" stroke-opacity="0.105" stroke-dasharray="4 4" stroke-dashoffset="2.5"/>
<line x1="101.5" y1="1425.50" x2="1151.0" y2="1425.50" stroke="#000" stroke-opacity="0.105" stroke-dasharray="4 4" stroke-dashoffset="2.5"/>
<line x1="101.5" y1="1400.50" x2="1151.0" y2="1400.50" stroke="#000" stroke-opacity="0.105" stroke-dasharray="4 4" stroke-dashoffset="2.5"/>
<line x1="101.5" y1="1375.50" x2="1151.0" y2="1375.50" stroke="#000" stroke-opacity="0.105" stroke-dasharray="4 4" stroke-dashoffset="2.5"/>
<line x1="101.5" y1="1350.50" x2="1151.0" y2="1350.50" stroke="#000" stroke-opacity="0.105" stroke-dasharray="4 4" stroke-dashoffset="2.5"/>
<line x1="101.5" y1="1325.50" x2="1151.0" y2="1325.50" stroke="#000" stroke-opacity="0.105" stroke-dasharray="4 4" stroke-dashoffset="2.5"/>
<clipPath id="cu"><rect x="0" y="1300" width="1200" height="126.0"/></clipPath>
<clipPath id="cd"><rect x="0" y="1426.0" width="1200" height="100"/></clipPath>
<path d="M105.5 1426.0 L105.5 1381.8 C107.0 1382.6 113.0 1386.3 116.0 1387.5 C119.0 1388.7 123.5 1389.4 126.5 1390.0 C129.5 1390.6 134.0 1392.8 137.0 1392.0 C140.0 1391.2 144.5 1385.7 147.5 1384.2 C150.5 1382.8 155.0 1382.0 158.0 1382.0 C161.0 1382.0 165.5 1381.4 168.5 1384.5 C171.5 1387.6 176.0 1398.0 179.0 1403.8 C182.0 1409.5 186.5 1419.4 189.5 1424.5 C192.5 1429.6 197.0 1436.1 200.0 1439.2 C203.0 1442.4 207.5 1444.4 210.5 1446.8 C213.5 1449.1 218.0 1453.7 221.0 1455.8 C224.0 1457.8 228.5 1459.3 231.5 1461.2 C234.5 1463.2 239.0 1468.0 242.0 1469.5 C245.0 1471.0 249.5 1473.4 252.5 1472.0 C255.5 1470.6 260.0 1463.1 263.0 1460.0 C266.0 1456.9 270.5 1451.0 273.5 1450.0 C276.5 1449.0 281.0 1451.8 284.0 1453.2 C287.0 1454.8 291.5 1459.6 294.5 1460.5 C297.5 1461.4 302.0 1460.6 305.0 1459.2 C308.0 1457.9 312.5 1452.4 315.5 1451.0 C318.5 1449.6 323.0 1451.2 326.0 1449.5 C329.0 1447.8 333.5 1442.0 336.5 1438.8 C339.5 1435.5 344.0 1428.8 347.0 1427.0 C350.0 1425.2 354.5 1426.5 357.5 1426.5 C360.5 1426.5 365.0 1425.5 368.0 1427.0 C371.0 1428.5 375.5 1435.7 378.5 1437.0 C381.5 1438.3 386.0 1435.9 389.0 1436.2 C392.0 1436.6 396.5 1438.0 399.5 1439.2 C402.5 1440.5 407.0 1442.4 410.0 1445.0 C413.0 1447.6 417.5 1456.0 420.5 1457.5 C423.5 1459.0 428.0 1455.9 431.0 1455.2 C434.0 1454.6 438.5 1452.6 441.5 1453.2 C444.5 1453.9 449.0 1458.5 452.0 1459.5 C455.0 1460.5 459.5 1460.3 462.5 1460.5 C465.5 1460.7 470.0 1461.0 473.0 1461.0 C476.0 1461.0 480.5 1461.8 483.5 1460.5 C486.5 1459.2 491.0 1454.4 494.0 1452.0 C497.0 1449.6 501.5 1445.1 504.5 1444.0 C507.5 1442.9 512.0 1444.6 515.0 1444.5 C518.0 1444.4 522.5 1444.1 525.5 1443.5 C528.5 1442.9 533.0 1441.7 536.0 1440.5 C539.0 1439.3 543.5 1435.7 546.5 1435.0 C549.5 1434.3 554.0 1434.4 557.0 1435.5 C560.0 1436.6 564.5 1440.8 567.5 1443.0 C570.5 1445.2 575.0 1447.9 578.0 1451.2 C581.0 1454.6 585.5 1465.0 588.5 1466.5 C591.5 1468.0 596.0 1464.5 599.0 1462.0 C602.0 1459.5 606.5 1452.5 609.5 1448.8 C612.5 1445.0 617.0 1440.0 620.0 1435.8 C623.0 1431.5 627.5 1422.7 630.5 1418.8 C633.5 1414.8 638.0 1409.1 641.0 1408.2 C644.0 1407.4 648.5 1412.2 651.5 1413.0 C654.5 1413.8 659.0 1413.4 662.0 1413.8 C665.0 1414.1 669.5 1416.6 672.5 1415.8 C675.5 1414.9 680.0 1410.1 683.0 1408.0 C686.0 1405.9 690.5 1403.1 693.5 1401.2 C696.5 1399.4 701.0 1397.3 704.0 1395.0 C707.0 1392.7 711.5 1387.1 714.5 1385.0 C717.5 1382.9 722.0 1381.8 725.0 1380.5 C728.0 1379.2 732.5 1376.2 735.5 1375.8 C738.5 1375.2 743.0 1377.6 746.0 1377.0 C749.0 1376.4 753.5 1372.9 756.5 1371.8 C759.5 1370.6 764.0 1369.7 767.0 1369.2 C770.0 1368.8 774.5 1370.2 777.5 1368.8 C780.5 1367.2 785.0 1361.7 788.0 1358.8 C791.0 1355.8 795.5 1350.7 798.5 1348.0 C801.5 1345.3 806.0 1342.0 809.0 1340.0 C812.0 1338.0 816.5 1334.5 819.5 1334.0 C822.5 1333.5 827.0 1333.1 830.0 1336.2 C833.0 1339.4 837.5 1351.2 840.5 1356.2 C843.5 1361.2 848.0 1366.1 851.0 1371.2 C854.0 1376.4 858.5 1387.7 861.5 1392.5 C864.5 1397.3 869.0 1401.5 872.0 1405.0 C875.0 1408.5 879.5 1414.0 882.5 1417.0 C885.5 1420.0 890.0 1425.0 893.0 1426.2 C896.0 1427.5 900.5 1425.3 903.5 1425.5 C906.5 1425.7 911.0 1426.0 914.0 1427.5 C917.0 1429.0 921.5 1433.8 924.5 1435.8 C927.5 1437.8 932.0 1440.6 935.0 1441.5 C938.0 1442.4 942.5 1441.2 945.5 1442.0 C948.5 1442.8 953.0 1445.6 956.0 1447.0 C959.0 1448.4 963.5 1450.8 966.5 1452.0 C969.5 1453.2 974.0 1454.7 977.0 1455.5 C980.0 1456.3 984.5 1458.4 987.5 1457.5 C990.5 1456.6 995.0 1450.1 998.0 1449.0 C1001.0 1447.9 1005.5 1449.1 1008.5 1450.0 C1011.5 1450.9 1016.0 1454.1 1019.0 1455.5 C1022.0 1456.9 1026.5 1457.7 1029.5 1459.5 C1032.5 1461.3 1037.0 1465.6 1040.0 1468.0 C1043.0 1470.4 1047.5 1474.1 1050.5 1476.2 C1053.5 1478.4 1058.0 1481.5 1061.0 1483.0 C1064.0 1484.5 1068.5 1487.1 1071.5 1486.5 C1074.5 1485.9 1079.0 1480.1 1082.0 1478.8 C1085.0 1477.4 1089.5 1476.8 1092.5 1476.8 C1095.5 1476.8 1100.0 1477.5 1103.0 1478.8 C1106.0 1480.0 1110.5 1484.7 1113.5 1485.8 C1116.5 1486.8 1121.0 1486.8 1124.0 1486.2 C1127.0 1485.7 1131.5 1484.8 1134.5 1482.0 C1137.5 1479.2 1143.5 1469.1 1145.0 1467.0 L1145.0 1426.0 Z" fill="#96ff96" clip-path="url(#cu)"/>
<path d="M105.5 1426.0 L105.5 1381.8 C107.0 1382.6 113.0 1386.3 116.0 1387.5 C119.0 1388.7 123.5 1389.4 126.5 1390.0 C129.5 1390.6 134.0 1392.8 137.0 1392.0 C140.0 1391.2 144.5 1385.7 147.5 1384.2 C150.5 1382.8 155.0 1382.0 158.0 1382.0 C161.0 1382.0 165.5 1381.4 168.5 1384.5 C171.5 1387.6 176.0 1398.0 179.0 1403.8 C182.0 1409.5 186.5 1419.4 189.5 1424.5 C192.5 1429.6 197.0 1436.1 200.0 1439.2 C203.0 1442.4 207.5 1444.4 210.5 1446.8 C213.5 1449.1 218.0 1453.7 221.0 1455.8 C224.0 1457.8 228.5 1459.3 231.5 1461.2 C234.5 1463.2 239.0 1468.0 242.0 1469.5 C245.0 1471.0 249.5 1473.4 252.5 1472.0 C255.5 1470.6 260.0 1463.1 263.0 1460.0 C266.0 1456.9 270.5 1451.0 273.5 1450.0 C276.5 1449.0 281.0 1451.8 284.0 1453.2 C287.0 1454.8 291.5 1459.6 294.5 1460.5 C297.5 1461.4 302.0 1460.6 305.0 1459.2 C308.0 1457.9 312.5 1452.4 315.5 1451.0 C318.5 1449.6 323.0 1451.2 326.0 1449.5 C329.0 1447.8 333.5 1442.0 336.5 1438.8 C339.5 1435.5 344.0 1428.8 347.0 1427.0 C350.0 1425.2 354.5 1426.5 357.5 1426.5 C360.5 1426.5 365.0 1425.5 368.0 1427.0 C371.0 1428.5 375.5 1435.7 378.5 1437.0 C381.5 1438.3 386.0 1435.9 389.0 1436.2 C392.0 1436.6 396.5 1438.0 399.5 1439.2 C402.5 1440.5 407.0 1442.4 410.0 1445.0 C413.0 1447.6 417.5 1456.0 420.5 1457.5 C423.5 1459.0 428.0 1455.9 431.0 1455.2 C434.0 1454.6 438.5 1452.6 441.5 1453.2 C444.5 1453.9 449.0 1458.5 452.0 1459.5 C455.0 1460.5 459.5 1460.3 462.5 1460.5 C465.5 1460.7 470.0 1461.0 473.0 1461.0 C476.0 1461.0 480.5 1461.8 483.5 1460.5 C486.5 1459.2 491.0 1454.4 494.0 1452.0 C497.0 1449.6 501.5 1445.1 504.5 1444.0 C507.5 1442.9 512.0 1444.6 515.0 1444.5 C518.0 1444.4 522.5 1444.1 525.5 1443.5 C528.5 1442.9 533.0 1441.7 536.0 1440.5 C539.0 1439.3 543.5 1435.7 546.5 1435.0 C549.5 1434.3 554.0 1434.4 557.0 1435.5 C560.0 1436.6 564.5 1440.8 567.5 1443.0 C570.5 1445.2 575.0 1447.9 578.0 1451.2 C581.0 1454.6 585.5 1465.0 588.5 1466.5 C591.5 1468.0 596.0 1464.5 599.0 1462.0 C602.0 1459.5 606.5 1452.5 609.5 1448.8 C612.5 1445.0 617.0 1440.0 620.0 1435.8 C623.0 1431.5 627.5 1422.7 630.5 1418.8 C633.5 1414.8 638.0 1409.1 641.0 1408.2 C644.0 1407.4 648.5 1412.2 651.5 1413.0 C654.5 1413.8 659.0 1413.4 662.0 1413.8 C665.0 1414.1 669.5 1416.6 672.5 1415.8 C675.5 1414.9 680.0 1410.1 683.0 1408.0 C686.0 1405.9 690.5 1403.1 693.5 1401.2 C696.5 1399.4 701.0 1397.3 704.0 1395.0 C707.0 1392.7 711.5 1387.1 714.5 1385.0 C717.5 1382.9 722.0 1381.8 725.0 1380.5 C728.0 1379.2 732.5 1376.2 735.5 1375.8 C738.5 1375.2 743.0 1377.6 746.0 1377.0 C749.0 1376.4 753.5 1372.9 756.5 1371.8 C759.5 1370.6 764.0 1369.7 767.0 1369.2 C770.0 1368.8 774.5 1370.2 777.5 1368.8 C780.5 1367.2 785.0 1361.7 788.0 1358.8 C791.0 1355.8 795.5 1350.7 798.5 1348.0 C801.5 1345.3 806.0 1342.0 809.0 1340.0 C812.0 1338.0 816.5 1334.5 819.5 1334.0 C822.5 1333.5 827.0 1333.1 830.0 1336.2 C833.0 1339.4 837.5 1351.2 840.5 1356.2 C843.5 1361.2 848.0 1366.1 851.0 1371.2 C854.0 1376.4 858.5 1387.7 861.5 1392.5 C864.5 1397.3 869.0 1401.5 872.0 1405.0 C875.0 1408.5 879.5 1414.0 882.5 1417.0 C885.5 1420.0 890.0 1425.0 893.0 1426.2 C896.0 1427.5 900.5 1425.3 903.5 1425.5 C906.5 1425.7 911.0 1426.0 914.0 1427.5 C917.0 1429.0 921.5 1433.8 924.5 1435.8 C927.5 1437.8 932.0 1440.6 935.0 1441.5 C938.0 1442.4 942.5 1441.2 945.5 1442.0 C948.5 1442.8 953.0 1445.6 956.0 1447.0 C959.0 1448.4 963.5 1450.8 966.5 1452.0 C969.5 1453.2 974.0 1454.7 977.0 1455.5 C980.0 1456.3 984.5 1458.4 987.5 1457.5 C990.5 1456.6 995.0 1450.1 998.0 1449.0 C1001.0 1447.9 1005.5 1449.1 1008.5 1450.0 C1011.5 1450.9 1016.0 1454.1 1019.0 1455.5 C1022.0 1456.9 1026.5 1457.7 1029.5 1459.5 C1032.5 1461.3 1037.0 1465.6 1040.0 1468.0 C1043.0 1470.4 1047.5 1474.1 1050.5 1476.2 C1053.5 1478.4 1058.0 1481.5 1061.0 1483.0 C1064.0 1484.5 1068.5 1487.1 1071.5 1486.5 C1074.5 1485.9 1079.0 1480.1 1082.0 1478.8 C1085.0 1477.4 1089.5 1476.8 1092.5 1476.8 C1095.5 1476.8 1100.0 1477.5 1103.0 1478.8 C1106.0 1480.0 1110.5 1484.7 1113.5 1485.8 C1116.5 1486.8 1121.0 1486.8 1124.0 1486.2 C1127.0 1485.7 1131.5 1484.8 1134.5 1482.0 C1137.5 1479.2 1143.5 1469.1 1145.0 1467.0 L1145.0 1426.0 Z" fill="#ff9696" clip-path="url(#cd)"/>
<line x1="105.5" y1="1425.5" x2="1145.0" y2="1425.5" stroke="#96ff96" stroke-width="1"/>
<line x1="100.5" y1="1316.5" x2="100.5" y2="1500.5" stroke="#222" stroke-width="1"/>
<path d="M100.5 1313.5 L96.9 1320.0 L104.1 1320.0 Z" fill="#000"/>
<line x1="100.0" y1="1500.5" x2="1158" y2="1500.5" stroke="#000" stroke-width="1"/>
<path d="M1163 1500.5 L1155.5 1497.0 L1155.5 1504.0 Z" fill="#000"/>
<line x1="98.0" y1="1500.50" x2="103.0" y2="1500.50" stroke="#000"/>
<line x1="98.0" y1="1487.50" x2="100.5" y2="1487.50" stroke="#f00"/>
<text x="98.2" y="1505.0" font-size="11.3" text-anchor="end"  textLength="29.5" lengthAdjust="spacingAndGlyphs">-0.60</text>
<line x1="98.0" y1="1475.50" x2="103.0" y2="1475.50" stroke="#000"/>
<line x1="98.0" y1="1462.50" x2="100.5" y2="1462.50" stroke="#f00"/>
<text x="98.2" y="1480.0" font-size="11.3" text-anchor="end"  textLength="29.5" lengthAdjust="spacingAndGlyphs">-0.40</text>
<line x1="98.0" y1="1450.50" x2="103.0" y2="1450.50" stroke="#000"/>
<line x1="98.0" y1="1437.50" x2="100.5" y2="1437.50" stroke="#f00"/>
<text x="98.2" y="1455.0" font-size="11.3" text-anchor="end"  textLength="29.5" lengthAdjust="spacingAndGlyphs">-0.20</text>
<line x1="98.0" y1="1425.50" x2="103.0" y2="1425.50" stroke="#000"/>
<line x1="98.0" y1="1412.50" x2="100.5" y2="1412.50" stroke="#f00"/>
<text x="98.2" y="1430.0" font-size="11.3" text-anchor="end"  textLength="24.6" lengthAdjust="spacingAndGlyphs">0.00</text>
<line x1="98.0" y1="1400.50" x2="103.0" y2="1400.50" stroke="#000"/>
<line x1="98.0" y1="1387.50" x2="100.5" y2="1387.50" stroke="#f00"/>
<text x="98.2" y="1405.0" font-size="11.3" text-anchor="end"  textLength="24.6" lengthAdjust="spacingAndGlyphs">0.20</text>
<line x1="98.0" y1="1375.50" x2="103.0" y2="1375.50" stroke="#000"/>
<line x1="98.0" y1="1362.50" x2="100.5" y2="1362.50" stroke="#f00"/>
<text x="98.2" y="1380.0" font-size="11.3" text-anchor="end"  textLength="24.6" lengthAdjust="spacingAndGlyphs">0.40</text>
<line x1="98.0" y1="1350.50" x2="103.0" y2="1350.50" stroke="#000"/>
<line x1="98.0" y1="1337.50" x2="100.5" y2="1337.50" stroke="#f00"/>
<text x="98.2" y="1355.0" font-size="11.3" text-anchor="end"  textLength="24.6" lengthAdjust="spacingAndGlyphs">0.60</text>
<line x1="98.0" y1="1325.50" x2="103.0" y2="1325.50" stroke="#000"/>
<text x="98.2" y="1330.0" font-size="11.3" text-anchor="end"  textLength="24.6" lengthAdjust="spacingAndGlyphs">0.80</text>
<line x1="115.50" y1="1500.5" x2="115.50" y2="1503.5" stroke="#ccc"/>
<line x1="126.50" y1="1500.5" x2="126.50" y2="1503.5" stroke="#ccc"/>
<line x1="136.50" y1="1500.5" x2="136.50" y2="1503.5" stroke="#ccc"/>
<line x1="147.50" y1="1500.5" x2="147.50" y2="1503.5" stroke="#ccc"/>
<line x1="168.50" y1="1500.5" x2="168.50" y2="1503.5" stroke="#ccc"/>
<line x1="178.50" y1="1500.5" x2="178.50" y2="1503.5" stroke="#ccc"/>
<line x1="189.50" y1="1500.5" x2="189.50" y2="1503.5" stroke="#ccc"/>
<line x1="199.50" y1="1500.5" x2="199.50" y2="1503.5" stroke="#ccc"/>
<line x1="220.50" y1="1500.5" x2="220.50" y2="1503.5" stroke="#ccc"/>
<line x1="231.50" y1="1500.5" x2="231.50" y2="1503.5" stroke="#ccc"/>
<line x1="241.50" y1="1500.5" x2="241.50" y2="1503.5" stroke="#ccc"/>
<line x1="252.50" y1="1500.5" x2="252.50" y2="1503.5" stroke="#ccc"/>
<line x1="273.50" y1="1500.5" x2="273.50" y2="1503.5" stroke="#ccc"/>
<line x1="283.50" y1="1500.5" x2="283.50" y2="1503.5" stroke="#ccc"/>
<line x1="294.50" y1="1500.5" x2="294.50" y2="1503.5" stroke="#ccc"/>
<line x1="304.50" y1="1500.5" x2="304.50" y2="1503.5" stroke="#ccc"/>
<line x1="325.50" y1="1500.5" x2="325.50" y2="1503.5" stroke="#ccc"/>
<line x1="336.50" y1="1500.5" x2="336.50" y2="1503.5" stroke="#ccc"/>
<line x1="346.50" y1="1500.5" x2="346.50" y2="1503.5" stroke="#ccc"/>
<line x1="357.50" y1="1500.5" x2="357.50" y2="1503.5" stroke="#ccc"/>
<line x1="378.50" y1="1500.5" x2="378.50" y2="1503.5" stroke="#ccc"/>
<line x1="388.50" y1="1500.5" x2="388.50" y2="1503.5" stroke="#ccc"/>
<line x1="399.50" y1="1500.5" x2="399.50" y2="1503.5" stroke="#ccc"/>
<line x1="409.50" y1="1500.5" x2="409.50" y2="1503.5" stroke="#ccc"/>
<line x1="430.50" y1="1500.5" x2="430.50" y2="1503.5" stroke="#ccc"/>
<line x1="441.50" y1="1500.5" x2="441.50" y2="1503.5" stroke="#ccc"/>
<line x1="451.50" y1="1500.5" x2="451.50" y2="1503.5" stroke="#ccc"/>
<line x1="462.50" y1="1500.5" x2="462.50" y2="1503.5" stroke="#ccc"/>
<line x1="483.50" y1="1500.5" x2="483.50" y2="1503.5" stroke="#ccc"/>
<line x1="493.50" y1="1500.5" x2="493.50" y2="1503.5" stroke="#ccc"/>
<line x1="504.50" y1="1500.5" x2="504.50" y2="1503.5" stroke="#ccc"/>
<line x1="514.50" y1="1500.5" x2="514.50" y2="1503.5" stroke="#ccc"/>
<line x1="535.50" y1="1500.5" x2="535.50" y2="1503.5" stroke="#ccc"/>
<line x1="546.50" y1="1500.5" x2="546.50" y2="1503.5" stroke="#ccc"/>
<line x1="556.50" y1="1500.5" x2="556.50" y2="1503.5" stroke="#ccc"/>
<line x1="567.50" y1="1500.5" x2="567.50" y2="1503.5" stroke="#ccc"/>
<line x1="588.50" y1="1500.5" x2="588.50" y2="1503.5" stroke="#ccc"/>
<line x1="598.50" y1="1500.5" x2="598.50" y2="1503.5" stroke="#ccc"/>
<line x1="609.50" y1="1500.5" x2="609.50" y2="1503.5" stroke="#ccc"/>
<line x1="619.50" y1="1500.5" x2="619.50" y2="1503.5" stroke="#ccc"/>
<line x1="640.50" y1="1500.5" x2="640.50" y2="1503.5" stroke="#ccc"/>
<line x1="651.50" y1="1500.5" x2="651.50" y2="1503.5" stroke="#ccc"/>
<line x1="661.50" y1="1500.5" x2="661.50" y2="1503.5" stroke="#ccc"/>
<line x1="672.50" y1="1500.5" x2="672.50" y2="1503.5" stroke="#ccc"/>
<line x1="693.50" y1="1500.5" x2="693.50" y2="1503.5" stroke="#ccc"/>
<line x1="703.50" y1="1500.5" x2="703.50" y2="1503.5" stroke="#ccc"/>
<line x1="714.50" y1="1500.5" x2="714.50" y2="1503.5" stroke="#ccc"/>
<line x1="724.50" y1="1500.5" x2="724.50" y2="1503.5" stroke="#ccc"/>
<line x1="745.50" y1="1500.5" x2="745.50" y2="1503.5" stroke="#ccc"/>
<line x1="756.50" y1="1500.5" x2="756.50" y2="1503.5" stroke="#ccc"/>
<line x1="766.50" y1="1500.5" x2="766.50" y2="1503.5" stroke="#ccc"/>
<line x1="777.50" y1="1500.5" x2="777.50" y2="1503.5" stroke="#ccc"/>
<line x1="798.50" y1="1500.5" x2="798.50" y2="1503.5" stroke="#ccc"/>
<line x1="808.50" y1="1500.5" x2="808.50" y2="1503.5" stroke="#ccc"/>
<line x1="819.50" y1="1500.5" x2="819.50" y2="1503.5" stroke="#ccc"/>
<line x1="829.50" y1="1500.5" x2="829.50" y2="1503.5" stroke="#ccc"/>
<line x1="850.50" y1="1500.5" x2="850.50" y2="1503.5" stroke="#ccc"/>
<line x1="861.50" y1="1500.5" x2="861.50" y2="1503.5" stroke="#ccc"/>
<line x1="871.50" y1="1500.5" x2="871.50" y2="1503.5" stroke="#ccc"/>
<line x1="882.50" y1="1500.5" x2="882.50" y2="1503.5" stroke="#ccc"/>
<line x1="903.50" y1="1500.5" x2="903.50" y2="1503.5" stroke="#ccc"/>
<line x1="913.50" y1="1500.5" x2="913.50" y2="1503.5" stroke="#ccc"/>
<line x1="924.50" y1="1500.5" x2="924.50" y2="1503.5" stroke="#ccc"/>
<line x1="934.50" y1="1500.5" x2="934.50" y2="1503.5" stroke="#ccc"/>
<line x1="955.50" y1="1500.5" x2="955.50" y2="1503.5" stroke="#ccc"/>
<line x1="966.50" y1="1500.5" x2="966.50" y2="1503.5" stroke="#ccc"/>
<line x1="976.50" y1="1500.5" x2="976.50" y2="1503.5" stroke="#ccc"/>
<line x1="987.50" y1="1500.5" x2="987.50" y2="1503.5" stroke="#ccc"/>
<line x1="1008.50" y1="1500.5" x2="1008.50" y2="1503.5" stroke="#ccc"/>
<line x1="1018.50" y1="1500.5" x2="1018.50" y2="1503.5" stroke="#ccc"/>
<line x1="1029.50" y1="1500.5" x2="1029.50" y2="1503.5" stroke="#ccc"/>
<line x1="1039.50" y1="1500.5" x2="1039.50" y2="1503.5" stroke="#ccc"/>
<line x1="1060.50" y1="1500.5" x2="1060.50" y2="1503.5" stroke="#ccc"/>
<line x1="1071.50" y1="1500.5" x2="1071.50" y2="1503.5" stroke="#ccc"/>
<line x1="1081.50" y1="1500.5" x2="1081.50" y2="1503.5" stroke="#ccc"/>
<line x1="1092.50" y1="1500.5" x2="1092.50" y2="1503.5" stroke="#ccc"/>
<line x1="1113.50" y1="1500.5" x2="1113.50" y2="1503.5" stroke="#ccc"/>
<line x1="1123.50" y1="1500.5" x2="1123.50" y2="1503.5" stroke="#ccc"/>
<line x1="1134.50" y1="1500.5" x2="1134.50" y2="1503.5" stroke="#ccc"/>
<line x1="1144.50" y1="1500.5" x2="1144.50" y2="1503.5" stroke="#ccc"/>
<line x1="105.50" y1="1497.5" x2="105.50" y2="1504.0" stroke="#000"/>
<text x="106.7" y="1512.7" font-size="11.3" text-anchor="middle"  textLength="48.7" lengthAdjust="spacingAndGlyphs">1er Sept</text>
<line x1="157.50" y1="1497.5" x2="157.50" y2="1504.0" stroke="#000"/>
<text x="158.7" y="1512.7" font-size="11.3" text-anchor="middle"  textLength="36.3" lengthAdjust="spacingAndGlyphs">8 Sept</text>
<line x1="210.50" y1="1497.5" x2="210.50" y2="1504.0" stroke="#000"/>
<text x="211.7" y="1512.7" font-size="11.3" text-anchor="middle"  textLength="43.8" lengthAdjust="spacingAndGlyphs">15 Sept</text>
<line x1="262.50" y1="1497.5" x2="262.50" y2="1504.0" stroke="#000"/>
<text x="263.7" y="1512.7" font-size="11.3" text-anchor="middle"  textLength="43.8" lengthAdjust="spacingAndGlyphs">22 Sept</text>
<line x1="315.50" y1="1497.5" x2="315.50" y2="1504.0" stroke="#000"/>
<text x="316.7" y="1512.7" font-size="11.3" text-anchor="middle"  textLength="43.8" lengthAdjust="spacingAndGlyphs">29 Sept</text>
<line x1="367.50" y1="1497.5" x2="367.50" y2="1504.0" stroke="#000"/>
<text x="368.7" y="1512.7" font-size="11.3" text-anchor="middle"  textLength="30.0" lengthAdjust="spacingAndGlyphs">6 Oct</text>
<line x1="420.50" y1="1497.5" x2="420.50" y2="1504.0" stroke="#000"/>
<text x="421.7" y="1512.7" font-size="11.3" text-anchor="middle"  textLength="37.5" lengthAdjust="spacingAndGlyphs">13 Oct</text>
<line x1="472.50" y1="1497.5" x2="472.50" y2="1504.0" stroke="#000"/>
<text x="473.7" y="1512.7" font-size="11.3" text-anchor="middle"  textLength="37.5" lengthAdjust="spacingAndGlyphs">20 Oct</text>
<line x1="525.50" y1="1497.5" x2="525.50" y2="1504.0" stroke="#000"/>
<text x="526.7" y="1512.7" font-size="11.3" text-anchor="middle"  textLength="37.5" lengthAdjust="spacingAndGlyphs">27 Oct</text>
<line x1="577.50" y1="1497.5" x2="577.50" y2="1504.0" stroke="#000"/>
<text x="578.7" y="1512.7" font-size="11.3" text-anchor="middle"  textLength="32.0" lengthAdjust="spacingAndGlyphs">3 Nov</text>
<line x1="630.50" y1="1497.5" x2="630.50" y2="1504.0" stroke="#000"/>
<text x="631.7" y="1512.7" font-size="11.3" text-anchor="middle"  textLength="39.5" lengthAdjust="spacingAndGlyphs">10 Nov</text>
<line x1="682.50" y1="1497.5" x2="682.50" y2="1504.0" stroke="#000"/>
<text x="683.7" y="1512.7" font-size="11.3" text-anchor="middle"  textLength="39.5" lengthAdjust="spacingAndGlyphs">17 Nov</text>
<line x1="735.50" y1="1497.5" x2="735.50" y2="1504.0" stroke="#000"/>
<text x="736.7" y="1512.7" font-size="11.3" text-anchor="middle"  textLength="39.5" lengthAdjust="spacingAndGlyphs">24 Nov</text>
<line x1="787.50" y1="1497.5" x2="787.50" y2="1504.0" stroke="#000"/>
<text x="788.7" y="1513.8" font-size="11.3" text-anchor="middle"  textLength="33.0" lengthAdjust="spacingAndGlyphs">5 Déc</text>
<line x1="840.50" y1="1497.5" x2="840.50" y2="1504.0" stroke="#000"/>
<text x="841.7" y="1513.8" font-size="11.3" text-anchor="middle"  textLength="40.5" lengthAdjust="spacingAndGlyphs">12 Déc</text>
<line x1="892.50" y1="1497.5" x2="892.50" y2="1504.0" stroke="#000"/>
<text x="893.7" y="1513.8" font-size="11.3" text-anchor="middle"  textLength="40.5" lengthAdjust="spacingAndGlyphs">19 Déc</text>
<line x1="945.50" y1="1497.5" x2="945.50" y2="1504.0" stroke="#000"/>
<text x="946.7" y="1513.8" font-size="11.3" text-anchor="middle"  textLength="40.5" lengthAdjust="spacingAndGlyphs">27 Déc</text>
<line x1="997.50" y1="1497.5" x2="997.50" y2="1504.0" stroke="#000"/>
<text x="998.7" y="1512.7" font-size="11.3" text-anchor="middle"  textLength="35.0" lengthAdjust="spacingAndGlyphs">3 Janv</text>
<line x1="1050.50" y1="1497.5" x2="1050.50" y2="1504.0" stroke="#000"/>
<text x="1051.7" y="1512.7" font-size="11.3" text-anchor="middle"  textLength="42.6" lengthAdjust="spacingAndGlyphs">10 Janv</text>
<line x1="1102.50" y1="1497.5" x2="1102.50" y2="1504.0" stroke="#000"/>
<text x="1103.7" y="1512.7" font-size="11.3" text-anchor="middle"  textLength="42.6" lengthAdjust="spacingAndGlyphs">17 Janv</text>
<text x="627.0" y="1527.2" font-size="11.3" text-anchor="middle"  textLength="289.5" lengthAdjust="spacingAndGlyphs">Date (du 1er Septembre 2016 au 23 Janvier 2017)</text>
<text transform="translate(67.1,1410.6) rotate(-90)" font-size="11.3" text-anchor="middle" textLength="32.9" lengthAdjust="spacingAndGlyphs">MACD</text>
<text x="112.5" y="1295.0" font-size="24" text-anchor="start"  textLength="573.0" lengthAdjust="spacingAndGlyphs">Wendel: graphique du MACD - MACD(12,26,9) -</text>
<text x="694.0" y="1295.0" font-size="24" text-anchor="start"  textLength="207.5" lengthAdjust="spacingAndGlyphs">AnalyBourse.com</text>
</svg>
</body></html>
